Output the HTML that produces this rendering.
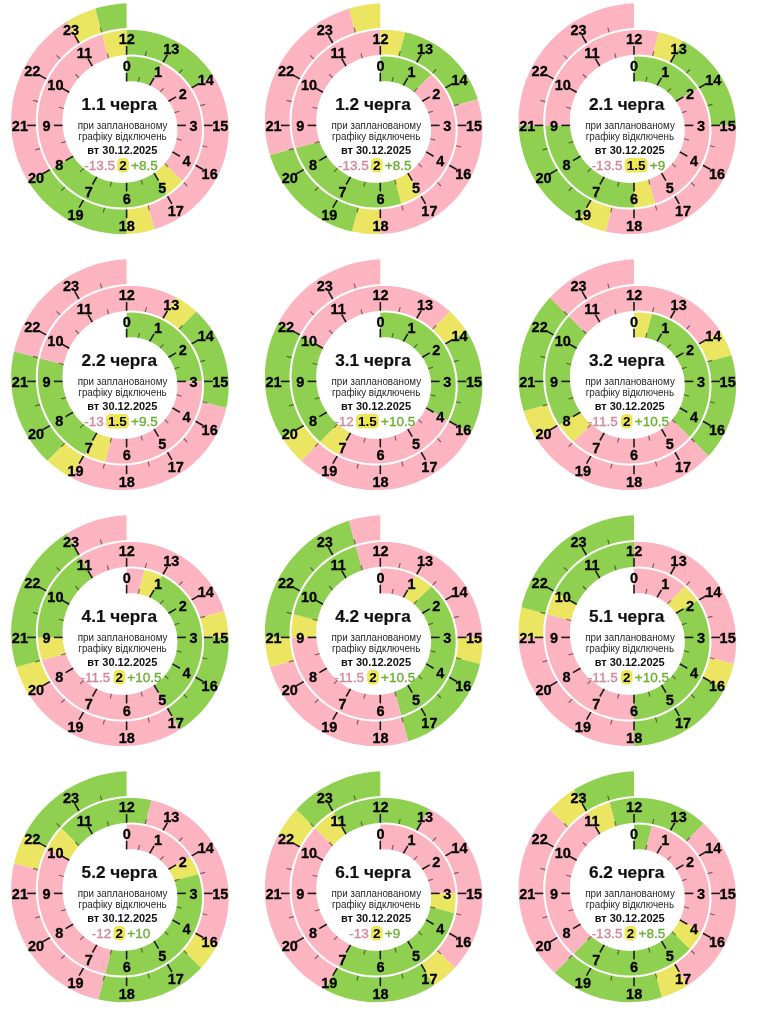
<!DOCTYPE html><html><head><meta charset="utf-8"><style>html,body{margin:0;padding:0;background:#fff;width:761px;height:1024px;overflow:hidden}svg{display:block;font-family:"Liberation Sans",sans-serif;will-change:transform}</style></head><body>
<svg width="761" height="1024" viewBox="0 0 761 1024">
<path d="M126.60,56.75 L131.11,56.62 L135.63,56.79 L140.16,57.25 L144.66,58.01 L149.11,59.08 L153.51,60.43 L157.82,62.08 L162.04,64.02 L149.70,85.39 L146.91,84.22 L144.07,83.23 L141.18,82.45 L138.27,81.85 L135.34,81.46 L132.41,81.25 L129.49,81.25 L126.60,81.43Z" fill="#90d050"/><path d="M162.04,64.02 L166.13,66.24 L170.09,68.73 L173.88,71.49 L177.50,74.50 L180.93,77.75 L184.15,81.24 L187.15,84.94 L189.91,88.85 L192.41,92.94 L194.65,97.21 L196.61,101.63 L198.29,106.19 L199.66,110.87 L200.73,115.64 L201.49,120.49 L201.93,125.40 L202.04,130.34 L201.83,135.30 L201.30,140.26 L200.44,145.18 L199.25,150.06 L197.74,154.87 L195.91,159.58 L193.76,164.18 L191.31,168.64 L188.57,172.95 L185.54,177.08 L182.23,181.03 L164.77,163.57 L166.98,160.81 L168.99,157.93 L170.79,154.93 L172.39,151.84 L173.77,148.66 L174.93,145.42 L175.88,142.13 L176.60,138.80 L177.09,135.44 L177.37,132.08 L177.42,128.73 L177.25,125.40 L176.86,122.11 L176.26,118.86 L175.46,115.68 L174.45,112.58 L173.24,109.57 L171.85,106.66 L170.28,103.86 L168.53,101.19 L166.63,98.65 L164.57,96.26 L162.38,94.02 L160.05,91.95 L157.61,90.04 L155.06,88.31 L152.42,86.76 L149.70,85.39Z" fill="#fdb4c1"/><path d="M182.23,181.03 L178.65,184.75 L174.83,188.25 L170.77,191.50 L166.49,194.49 L154.15,173.12 L157.06,170.98 L159.80,168.67 L162.38,166.20 L164.77,163.57Z" fill="#ebe562"/><path d="M166.49,194.49 L162.01,197.20 L157.34,199.62 L152.51,201.74 L147.54,203.54 L142.44,205.01 L137.23,206.15 L131.95,206.95 L126.60,207.41 L121.22,207.51 L115.82,207.26 L110.44,206.65 L105.09,205.69 L99.79,204.37 L94.58,202.71 L89.47,200.69 L84.48,198.35 L79.65,195.67 L74.98,192.67 L70.51,189.36 L66.25,185.75 L62.23,181.85 L58.45,177.69 L54.95,173.28 L51.73,168.63 L73.10,156.29 L75.47,159.57 L78.03,162.67 L80.78,165.58 L83.70,168.30 L86.79,170.80 L90.01,173.09 L93.36,175.15 L96.82,176.97 L100.38,178.56 L104.02,179.90 L107.73,181.00 L111.48,181.85 L115.25,182.44 L119.04,182.79 L122.83,182.88 L126.60,182.73 L130.33,182.32 L134.01,181.68 L137.62,180.80 L141.15,179.70 L144.58,178.37 L147.90,176.82 L151.09,175.07 L154.15,173.12Z" fill="#90d050"/><path d="M51.73,168.63 L48.81,163.76 L46.21,158.70 L43.94,153.46 L42.01,148.06 L40.44,142.54 L39.23,136.90 L38.39,131.18 L37.92,125.40 L37.83,119.58 L38.12,113.75 L38.80,107.94 L39.86,102.16 L41.31,96.45 L43.13,90.82 L45.32,85.32 L47.87,79.95 L50.78,74.74 L54.04,69.72 L57.62,64.91 L61.53,60.33 L65.74,56.01 L70.24,51.95 L75.01,48.19 L80.03,44.74 L85.28,41.62 L90.75,38.84 L96.39,36.42 L102.21,34.36 L108.59,58.20 L104.33,59.79 L100.19,61.64 L96.20,63.76 L92.37,66.12 L88.72,68.71 L85.27,71.53 L82.02,74.56 L78.98,77.78 L76.18,81.18 L73.62,84.74 L71.30,88.45 L69.24,92.29 L67.45,96.23 L65.93,100.27 L64.68,104.38 L63.70,108.55 L63.01,112.75 L62.59,116.97 L62.46,121.20 L62.60,125.40 L63.01,129.57 L63.70,133.68 L64.65,137.72 L65.85,141.68 L67.31,145.53 L69.01,149.25 L70.94,152.85 L73.10,156.29Z" fill="#fdb4c1"/><path d="M102.21,34.36 L108.16,32.69 L114.23,31.41 L120.38,30.52 L126.60,30.04 L126.60,54.72 L122.00,55.15 L117.45,55.88 L112.97,56.90 L108.59,58.20Z" fill="#ebe562"/><path d="M126.60,30.04 L132.86,29.97 L139.12,30.30 L145.37,31.05 L151.57,32.21 L157.70,33.78 L163.73,35.76 L169.64,38.13 L175.39,40.89 L180.97,44.03 L186.35,47.54 L191.49,51.40 L196.39,55.61 L201.01,60.14 L205.34,64.98 L209.36,70.10 L213.04,75.49 L191.67,87.83 L188.84,83.81 L185.76,80.00 L182.46,76.41 L178.94,73.06 L175.22,69.96 L171.32,67.12 L167.26,64.55 L163.05,62.26 L158.72,60.26 L154.29,58.56 L149.77,57.15 L145.18,56.05 L140.55,55.26 L135.90,54.77 L131.24,54.59 L126.60,54.72Z" fill="#90d050"/><path d="M213.04,75.49 L216.37,81.13 L219.33,86.99 L221.91,93.05 L224.09,99.28 L225.86,105.66 L227.21,112.15 L228.14,118.74 L228.64,125.40 L228.70,132.09 L228.32,138.79 L227.50,145.47 L226.24,152.10 L224.54,158.65 L222.41,165.09 L219.86,171.39 L216.89,177.53 L213.52,183.48 L209.76,189.21 L205.62,194.70 L201.11,199.91 L196.26,204.84 L191.09,209.44 L185.61,213.71 L179.84,217.62 L173.82,221.16 L167.56,224.30 L161.10,227.03 L154.45,229.34 L148.06,205.50 L153.16,203.66 L158.12,201.50 L162.91,199.02 L167.50,196.25 L171.90,193.19 L176.06,189.86 L179.99,186.28 L183.66,182.46 L187.06,178.42 L190.18,174.19 L193.00,169.77 L195.52,165.19 L197.73,160.48 L199.61,155.64 L201.17,150.71 L202.40,145.71 L203.29,140.65 L203.85,135.57 L204.07,130.48 L203.96,125.40 L203.51,120.36 L202.74,115.38 L201.65,110.47 L200.25,105.67 L198.53,100.98 L196.53,96.44 L194.23,92.05 L191.67,87.83Z" fill="#fdb4c1"/><path d="M154.45,229.34 L147.65,231.21 L140.72,232.63 L133.69,233.60 L126.60,234.12 L126.60,209.44 L132.08,208.98 L137.50,208.16 L142.83,207.00 L148.06,205.50Z" fill="#ebe562"/><path d="M126.60,234.12 L119.47,234.16 L112.34,233.74 L105.23,232.84 L98.17,231.49 L91.21,229.66 L84.36,227.38 L77.66,224.65 L71.13,221.48 L64.81,217.88 L58.72,213.86 L52.90,209.44 L47.37,204.63 L42.14,199.47 L37.26,193.95 L32.74,188.12 L28.59,181.98 L49.97,169.64 L53.26,174.41 L56.84,178.93 L60.70,183.19 L64.82,187.18 L69.17,190.88 L73.75,194.28 L78.52,197.35 L83.47,200.10 L88.57,202.52 L93.80,204.58 L99.14,206.29 L104.56,207.65 L110.04,208.64 L115.56,209.27 L121.09,209.53 L126.60,209.44Z" fill="#90d050"/><path d="M28.59,181.98 L24.85,175.58 L21.53,168.92 L18.65,162.04 L16.21,154.98 L14.24,147.75 L12.75,140.39 L11.73,132.93 L11.21,125.40 L11.18,117.83 L11.64,110.27 L12.61,102.73 L14.06,95.25 L16.01,87.86 L18.45,80.60 L21.36,73.50 L24.74,66.59 L28.57,59.90 L32.85,53.46 L37.54,47.30 L42.64,41.44 L48.13,35.92 L53.98,30.76 L60.17,25.98 L66.68,21.61 L79.02,42.99 L73.88,46.51 L69.01,50.34 L64.40,54.48 L60.10,58.90 L56.10,63.57 L52.43,68.48 L49.09,73.61 L46.11,78.93 L43.50,84.42 L41.25,90.05 L39.38,95.79 L37.90,101.63 L36.81,107.54 L36.11,113.49 L35.80,119.45 L35.89,125.40 L36.36,131.31 L37.22,137.17 L38.45,142.93 L40.05,148.59 L42.02,154.11 L44.33,159.48 L46.99,164.66 L49.97,169.64Z" fill="#fdb4c1"/><path d="M66.68,21.61 L73.47,17.67 L80.52,14.16 L87.81,11.13 L95.29,8.56 L101.68,32.40 L95.74,34.50 L89.97,36.97 L84.39,39.80 L79.02,42.99Z" fill="#ebe562"/><path d="M95.29,8.56 L102.95,6.49 L110.74,4.93 L118.63,3.87 L126.60,3.33 L126.60,28.01 L120.25,28.50 L113.96,29.39 L107.76,30.70 L101.68,32.40Z" fill="#90d050"/>
<line x1="126.60" y1="81.43" x2="126.60" y2="72.73" stroke="#1a1a1a" stroke-width="1.6"/><line x1="138.27" y1="81.85" x2="139.56" y2="77.02" stroke="rgba(0,0,0,0.5)" stroke-width="1.15"/><line x1="149.70" y1="85.39" x2="154.05" y2="77.86" stroke="#1a1a1a" stroke-width="1.6"/><line x1="160.05" y1="91.95" x2="163.59" y2="88.41" stroke="rgba(0,0,0,0.5)" stroke-width="1.15"/><line x1="168.53" y1="101.19" x2="176.07" y2="96.84" stroke="#1a1a1a" stroke-width="1.6"/><line x1="174.45" y1="112.58" x2="179.28" y2="111.29" stroke="rgba(0,0,0,0.5)" stroke-width="1.15"/><line x1="177.25" y1="125.40" x2="185.95" y2="125.40" stroke="#1a1a1a" stroke-width="1.6"/><line x1="176.60" y1="138.80" x2="181.43" y2="140.09" stroke="rgba(0,0,0,0.5)" stroke-width="1.15"/><line x1="172.39" y1="151.84" x2="179.92" y2="156.19" stroke="#1a1a1a" stroke-width="1.6"/><line x1="164.77" y1="163.57" x2="168.31" y2="167.11" stroke="rgba(0,0,0,0.5)" stroke-width="1.15"/><line x1="154.15" y1="173.12" x2="158.50" y2="180.65" stroke="#1a1a1a" stroke-width="1.6"/><line x1="141.15" y1="179.70" x2="142.44" y2="184.53" stroke="rgba(0,0,0,0.5)" stroke-width="1.15"/><line x1="126.60" y1="182.73" x2="126.60" y2="191.43" stroke="#1a1a1a" stroke-width="1.6"/><line x1="111.48" y1="181.85" x2="110.18" y2="186.68" stroke="rgba(0,0,0,0.5)" stroke-width="1.15"/><line x1="96.82" y1="176.97" x2="92.47" y2="184.51" stroke="#1a1a1a" stroke-width="1.6"/><line x1="83.70" y1="168.30" x2="80.17" y2="171.83" stroke="rgba(0,0,0,0.5)" stroke-width="1.15"/><line x1="73.10" y1="156.29" x2="65.57" y2="160.64" stroke="#1a1a1a" stroke-width="1.6"/><line x1="65.85" y1="141.68" x2="61.02" y2="142.97" stroke="rgba(0,0,0,0.5)" stroke-width="1.15"/><line x1="62.60" y1="125.40" x2="53.90" y2="125.40" stroke="#1a1a1a" stroke-width="1.6"/><line x1="63.70" y1="108.55" x2="58.87" y2="107.25" stroke="rgba(0,0,0,0.5)" stroke-width="1.15"/><line x1="69.24" y1="92.29" x2="61.71" y2="87.94" stroke="#1a1a1a" stroke-width="1.6"/><line x1="78.98" y1="77.78" x2="75.45" y2="74.25" stroke="rgba(0,0,0,0.5)" stroke-width="1.15"/><line x1="92.37" y1="66.12" x2="88.02" y2="58.58" stroke="#1a1a1a" stroke-width="1.6"/><line x1="108.59" y1="58.20" x2="107.30" y2="53.37" stroke="rgba(0,0,0,0.5)" stroke-width="1.15"/><line x1="126.60" y1="54.72" x2="126.60" y2="46.02" stroke="#1a1a1a" stroke-width="1.6"/><line x1="145.18" y1="56.05" x2="146.48" y2="51.22" stroke="rgba(0,0,0,0.5)" stroke-width="1.15"/><line x1="163.05" y1="62.26" x2="167.40" y2="54.73" stroke="#1a1a1a" stroke-width="1.6"/><line x1="178.94" y1="73.06" x2="182.47" y2="69.53" stroke="rgba(0,0,0,0.5)" stroke-width="1.15"/><line x1="191.67" y1="87.83" x2="199.20" y2="83.48" stroke="#1a1a1a" stroke-width="1.6"/><line x1="200.25" y1="105.67" x2="205.08" y2="104.37" stroke="rgba(0,0,0,0.5)" stroke-width="1.15"/><line x1="203.96" y1="125.40" x2="212.66" y2="125.40" stroke="#1a1a1a" stroke-width="1.6"/><line x1="202.40" y1="145.71" x2="207.23" y2="147.00" stroke="rgba(0,0,0,0.5)" stroke-width="1.15"/><line x1="195.52" y1="165.19" x2="203.06" y2="169.54" stroke="#1a1a1a" stroke-width="1.6"/><line x1="183.66" y1="182.46" x2="187.20" y2="186.00" stroke="rgba(0,0,0,0.5)" stroke-width="1.15"/><line x1="167.50" y1="196.25" x2="171.85" y2="203.78" stroke="#1a1a1a" stroke-width="1.6"/><line x1="148.06" y1="205.50" x2="149.36" y2="210.33" stroke="rgba(0,0,0,0.5)" stroke-width="1.15"/><line x1="126.60" y1="209.44" x2="126.60" y2="218.13" stroke="#1a1a1a" stroke-width="1.6"/><line x1="104.56" y1="207.65" x2="103.27" y2="212.48" stroke="rgba(0,0,0,0.5)" stroke-width="1.15"/><line x1="83.47" y1="200.10" x2="79.12" y2="207.64" stroke="#1a1a1a" stroke-width="1.6"/><line x1="64.82" y1="187.18" x2="61.28" y2="190.72" stroke="rgba(0,0,0,0.5)" stroke-width="1.15"/><line x1="49.97" y1="169.64" x2="42.43" y2="173.99" stroke="#1a1a1a" stroke-width="1.6"/><line x1="40.05" y1="148.59" x2="35.22" y2="149.88" stroke="rgba(0,0,0,0.5)" stroke-width="1.15"/><line x1="35.89" y1="125.40" x2="27.19" y2="125.40" stroke="#1a1a1a" stroke-width="1.6"/><line x1="37.90" y1="101.63" x2="33.07" y2="100.34" stroke="rgba(0,0,0,0.5)" stroke-width="1.15"/><line x1="46.11" y1="78.93" x2="38.58" y2="74.58" stroke="#1a1a1a" stroke-width="1.6"/><line x1="60.10" y1="58.90" x2="56.56" y2="55.36" stroke="rgba(0,0,0,0.5)" stroke-width="1.15"/><line x1="79.02" y1="42.99" x2="74.67" y2="35.45" stroke="#1a1a1a" stroke-width="1.6"/><line x1="101.68" y1="32.40" x2="100.39" y2="27.57" stroke="rgba(0,0,0,0.5)" stroke-width="1.15"/>
<text x="126.75" y="70.88" text-anchor="middle" font-weight="bold" font-size="14.5" fill="#000" stroke="#000" stroke-width="0.3">0</text><text x="157.92" y="77.01" text-anchor="middle" font-weight="bold" font-size="14.5" fill="#000" stroke="#000" stroke-width="0.3">1</text><text x="182.67" y="98.71" text-anchor="middle" font-weight="bold" font-size="14.5" fill="#000" stroke="#000" stroke-width="0.3">2</text><text x="193.55" y="131.00" text-anchor="middle" font-weight="bold" font-size="14.5" fill="#000" stroke="#000" stroke-width="0.3">3</text><text x="186.53" y="165.51" text-anchor="middle" font-weight="bold" font-size="14.5" fill="#000" stroke="#000" stroke-width="0.3">4</text><text x="162.37" y="192.70" text-anchor="middle" font-weight="bold" font-size="14.5" fill="#000" stroke="#000" stroke-width="0.3">5</text><text x="126.75" y="204.47" text-anchor="middle" font-weight="bold" font-size="14.5" fill="#000" stroke="#000" stroke-width="0.3">6</text><text x="88.90" y="196.56" text-anchor="middle" font-weight="bold" font-size="14.5" fill="#000" stroke="#000" stroke-width="0.3">7</text><text x="59.26" y="169.96" text-anchor="middle" font-weight="bold" font-size="14.5" fill="#000" stroke="#000" stroke-width="0.3">8</text><text x="46.60" y="131.00" text-anchor="middle" font-weight="bold" font-size="14.5" fill="#000" stroke="#000" stroke-width="0.3">9</text><text x="55.41" y="89.81" text-anchor="middle" font-weight="bold" font-size="14.5" fill="#000" stroke="#000" stroke-width="0.3">10</text><text x="84.45" y="57.73" text-anchor="middle" font-weight="bold" font-size="14.5" fill="#000" stroke="#000" stroke-width="0.3">11</text><text x="126.75" y="44.17" text-anchor="middle" font-weight="bold" font-size="14.5" fill="#000" stroke="#000" stroke-width="0.3">12</text><text x="171.28" y="53.88" text-anchor="middle" font-weight="bold" font-size="14.5" fill="#000" stroke="#000" stroke-width="0.3">13</text><text x="205.80" y="85.36" text-anchor="middle" font-weight="bold" font-size="14.5" fill="#000" stroke="#000" stroke-width="0.3">14</text><text x="220.26" y="131.00" text-anchor="middle" font-weight="bold" font-size="14.5" fill="#000" stroke="#000" stroke-width="0.3">15</text><text x="209.66" y="178.87" text-anchor="middle" font-weight="bold" font-size="14.5" fill="#000" stroke="#000" stroke-width="0.3">16</text><text x="175.73" y="215.84" text-anchor="middle" font-weight="bold" font-size="14.5" fill="#000" stroke="#000" stroke-width="0.3">17</text><text x="126.75" y="231.19" text-anchor="middle" font-weight="bold" font-size="14.5" fill="#000" stroke="#000" stroke-width="0.3">18</text><text x="75.54" y="219.69" text-anchor="middle" font-weight="bold" font-size="14.5" fill="#000" stroke="#000" stroke-width="0.3">19</text><text x="36.13" y="183.32" text-anchor="middle" font-weight="bold" font-size="14.5" fill="#000" stroke="#000" stroke-width="0.3">20</text><text x="19.89" y="131.00" text-anchor="middle" font-weight="bold" font-size="14.5" fill="#000" stroke="#000" stroke-width="0.3">21</text><text x="32.28" y="76.46" text-anchor="middle" font-weight="bold" font-size="14.5" fill="#000" stroke="#000" stroke-width="0.3">22</text><text x="71.09" y="34.60" text-anchor="middle" font-weight="bold" font-size="14.5" fill="#000" stroke="#000" stroke-width="0.3">23</text>
<text x="119.30" y="109.50" text-anchor="middle" font-weight="bold" font-size="17.2" fill="#111" stroke="#111" stroke-width="0.2">1.1 черга</text>
<text transform="translate(122.60,128.80) scale(0.895,1)" text-anchor="middle" font-size="11" fill="#262626">при запланованому</text>
<text transform="translate(122.50,139.90) scale(0.895,1)" text-anchor="middle" font-size="11" fill="#262626">графіку відключень</text>
<text x="122.30" y="154.20" text-anchor="middle" font-weight="bold" font-size="11" fill="#111">вт 30.12.2025</text>
<text x="84.24" y="169.70" font-size="13.5" fill="#d4869b" stroke="#d4869b" stroke-width="0.35">-13.5</text>
<rect x="117.21" y="158.00" width="11.71" height="14.6" rx="4.5" fill="#ede755"/>
<text x="119.31" y="169.70" font-weight="bold" font-size="13.5" fill="#000">2</text>
<text x="131.11" y="169.70" font-size="13.5" fill="#6cae34" stroke="#6cae34" stroke-width="0.35">+8.5</text>
<path d="M380.30,56.75 L384.81,56.62 L389.33,56.79 L393.86,57.25 L398.36,58.01 L402.81,59.08 L407.21,60.43 L411.52,62.08 L415.74,64.02 L419.83,66.24 L423.79,68.73 L427.58,71.49 L431.20,74.50 L413.75,91.95 L411.31,90.04 L408.76,88.31 L406.12,86.76 L403.40,85.39 L400.61,84.22 L397.77,83.23 L394.88,82.45 L391.97,81.85 L389.04,81.46 L386.11,81.25 L383.19,81.25 L380.30,81.43Z" fill="#90d050"/><path d="M431.20,74.50 L434.63,77.75 L437.85,81.24 L440.85,84.94 L443.61,88.85 L446.11,92.94 L448.35,97.21 L450.31,101.63 L451.99,106.19 L453.36,110.87 L454.43,115.64 L455.19,120.49 L455.63,125.40 L455.74,130.34 L455.53,135.30 L455.00,140.26 L454.14,145.18 L452.95,150.06 L451.44,154.87 L449.61,159.58 L447.46,164.18 L445.01,168.64 L442.27,172.95 L439.24,177.08 L435.93,181.03 L432.35,184.75 L428.53,188.25 L424.47,191.50 L420.19,194.49 L407.85,173.12 L410.76,170.98 L413.50,168.67 L416.08,166.20 L418.47,163.57 L420.68,160.81 L422.69,157.93 L424.49,154.93 L426.09,151.84 L427.47,148.66 L428.63,145.42 L429.58,142.13 L430.30,138.80 L430.79,135.44 L431.07,132.08 L431.12,128.73 L430.95,125.40 L430.56,122.11 L429.96,118.86 L429.16,115.68 L428.15,112.58 L426.94,109.57 L425.55,106.66 L423.98,103.86 L422.23,101.19 L420.33,98.65 L418.27,96.26 L416.08,94.02 L413.75,91.95Z" fill="#fdb4c1"/><path d="M420.19,194.49 L415.71,197.20 L411.04,199.62 L406.21,201.74 L401.24,203.54 L394.85,179.70 L398.28,178.37 L401.60,176.82 L404.79,175.07 L407.85,173.12Z" fill="#ebe562"/><path d="M401.24,203.54 L396.14,205.01 L390.93,206.15 L385.65,206.95 L380.30,207.41 L374.92,207.51 L369.52,207.26 L364.14,206.65 L358.79,205.69 L353.49,204.37 L348.28,202.71 L343.17,200.69 L338.18,198.35 L333.35,195.67 L328.68,192.67 L324.21,189.36 L319.95,185.75 L315.93,181.85 L312.15,177.69 L308.65,173.28 L305.43,168.63 L302.51,163.76 L299.91,158.70 L297.64,153.46 L295.71,148.06 L319.55,141.68 L321.01,145.53 L322.71,149.25 L324.64,152.85 L326.80,156.29 L329.17,159.57 L331.73,162.67 L334.48,165.58 L337.40,168.30 L340.49,170.80 L343.71,173.09 L347.06,175.15 L350.52,176.97 L354.08,178.56 L357.72,179.90 L361.43,181.00 L365.18,181.85 L368.95,182.44 L372.74,182.79 L376.53,182.88 L380.30,182.73 L384.03,182.32 L387.71,181.68 L391.32,180.80 L394.85,179.70Z" fill="#90d050"/><path d="M295.71,148.06 L294.14,142.54 L292.93,136.90 L292.09,131.18 L291.62,125.40 L291.53,119.58 L291.82,113.75 L292.50,107.94 L293.56,102.16 L295.01,96.45 L296.83,90.82 L299.02,85.32 L301.57,79.95 L304.48,74.74 L307.74,69.72 L311.32,64.91 L315.23,60.33 L319.44,56.01 L323.94,51.95 L328.71,48.19 L333.73,44.74 L338.98,41.62 L344.45,38.84 L350.09,36.42 L355.91,34.36 L361.86,32.69 L367.93,31.41 L374.08,30.52 L380.30,30.04 L380.30,54.72 L375.70,55.15 L371.15,55.88 L366.67,56.90 L362.29,58.20 L358.03,59.79 L353.89,61.64 L349.90,63.76 L346.07,66.12 L342.42,68.71 L338.97,71.53 L335.72,74.56 L332.68,77.78 L329.88,81.18 L327.32,84.74 L325.00,88.45 L322.94,92.29 L321.15,96.23 L319.63,100.27 L318.38,104.38 L317.40,108.55 L316.71,112.75 L316.29,116.97 L316.16,121.20 L316.30,125.40 L316.71,129.57 L317.40,133.68 L318.35,137.72 L319.55,141.68Z" fill="#fdb4c1"/><path d="M380.30,30.04 L386.56,29.97 L392.82,30.30 L399.07,31.05 L405.27,32.21 L398.88,56.05 L394.25,55.26 L389.60,54.77 L384.94,54.59 L380.30,54.72Z" fill="#ebe562"/><path d="M405.27,32.21 L411.40,33.78 L417.43,35.76 L423.34,38.13 L429.09,40.89 L434.67,44.03 L440.05,47.54 L445.19,51.40 L450.09,55.61 L454.71,60.14 L459.04,64.98 L463.06,70.10 L466.74,75.49 L470.07,81.13 L473.03,86.99 L475.61,93.05 L477.79,99.28 L453.95,105.67 L452.23,100.98 L450.23,96.44 L447.93,92.05 L445.37,87.83 L442.54,83.81 L439.46,80.00 L436.16,76.41 L432.64,73.06 L428.92,69.96 L425.02,67.12 L420.96,64.55 L416.75,62.26 L412.42,60.26 L407.99,58.56 L403.47,57.15 L398.88,56.05Z" fill="#90d050"/><path d="M477.79,99.28 L479.56,105.66 L480.91,112.15 L481.84,118.74 L482.34,125.40 L482.40,132.09 L482.02,138.79 L481.20,145.47 L479.94,152.10 L478.24,158.65 L476.11,165.09 L473.56,171.39 L470.59,177.53 L467.22,183.48 L463.46,189.21 L459.32,194.70 L454.81,199.91 L449.96,204.84 L444.79,209.44 L439.31,213.71 L433.54,217.62 L427.52,221.16 L421.26,224.30 L414.80,227.03 L408.15,229.34 L401.35,231.21 L394.42,232.63 L387.39,233.60 L380.30,234.12 L380.30,209.44 L385.78,208.98 L391.20,208.16 L396.53,207.00 L401.76,205.50 L406.86,203.66 L411.82,201.50 L416.61,199.02 L421.20,196.25 L425.60,193.19 L429.76,189.86 L433.69,186.28 L437.36,182.46 L440.76,178.42 L443.88,174.19 L446.70,169.77 L449.22,165.19 L451.43,160.48 L453.31,155.64 L454.87,150.71 L456.10,145.71 L456.99,140.65 L457.55,135.57 L457.77,130.48 L457.66,125.40 L457.21,120.36 L456.44,115.38 L455.35,110.47 L453.95,105.67Z" fill="#fdb4c1"/><path d="M380.30,234.12 L373.17,234.16 L366.04,233.74 L358.93,232.84 L351.87,231.49 L358.26,207.65 L363.74,208.64 L369.26,209.27 L374.79,209.53 L380.30,209.44Z" fill="#ebe562"/><path d="M351.87,231.49 L344.91,229.66 L338.06,227.38 L331.36,224.65 L324.83,221.48 L318.51,217.88 L312.42,213.86 L306.60,209.44 L301.07,204.63 L295.84,199.47 L290.96,193.95 L286.44,188.12 L282.29,181.98 L278.55,175.58 L275.23,168.92 L272.35,162.04 L269.91,154.98 L293.75,148.59 L295.72,154.11 L298.03,159.48 L300.69,164.66 L303.67,169.64 L306.96,174.41 L310.54,178.93 L314.40,183.19 L318.52,187.18 L322.87,190.88 L327.45,194.28 L332.22,197.35 L337.17,200.10 L342.27,202.52 L347.50,204.58 L352.84,206.29 L358.26,207.65Z" fill="#90d050"/><path d="M269.91,154.98 L267.94,147.75 L266.45,140.39 L265.43,132.93 L264.91,125.40 L264.88,117.83 L265.34,110.27 L266.31,102.73 L267.76,95.25 L269.71,87.86 L272.15,80.60 L275.06,73.50 L278.44,66.59 L282.27,59.90 L286.55,53.46 L291.24,47.30 L296.34,41.44 L301.83,35.92 L307.68,30.76 L313.87,25.98 L320.38,21.61 L327.17,17.67 L334.22,14.16 L341.51,11.13 L348.99,8.56 L355.38,32.40 L349.44,34.50 L343.67,36.97 L338.09,39.80 L332.72,42.99 L327.58,46.51 L322.71,50.34 L318.10,54.48 L313.80,58.90 L309.80,63.57 L306.13,68.48 L302.79,73.61 L299.81,78.93 L297.20,84.42 L294.95,90.05 L293.08,95.79 L291.60,101.63 L290.51,107.54 L289.81,113.49 L289.50,119.45 L289.59,125.40 L290.06,131.31 L290.92,137.17 L292.15,142.93 L293.75,148.59Z" fill="#fdb4c1"/><path d="M348.99,8.56 L356.65,6.49 L364.44,4.93 L372.33,3.87 L380.30,3.33 L380.30,28.01 L373.95,28.50 L367.66,29.39 L361.46,30.70 L355.38,32.40Z" fill="#ebe562"/>
<line x1="380.30" y1="81.43" x2="380.30" y2="72.73" stroke="#1a1a1a" stroke-width="1.6"/><line x1="391.97" y1="81.85" x2="393.26" y2="77.02" stroke="rgba(0,0,0,0.5)" stroke-width="1.15"/><line x1="403.40" y1="85.39" x2="407.75" y2="77.86" stroke="#1a1a1a" stroke-width="1.6"/><line x1="413.75" y1="91.95" x2="417.29" y2="88.41" stroke="rgba(0,0,0,0.5)" stroke-width="1.15"/><line x1="422.23" y1="101.19" x2="429.77" y2="96.84" stroke="#1a1a1a" stroke-width="1.6"/><line x1="428.15" y1="112.58" x2="432.98" y2="111.29" stroke="rgba(0,0,0,0.5)" stroke-width="1.15"/><line x1="430.95" y1="125.40" x2="439.65" y2="125.40" stroke="#1a1a1a" stroke-width="1.6"/><line x1="430.30" y1="138.80" x2="435.13" y2="140.09" stroke="rgba(0,0,0,0.5)" stroke-width="1.15"/><line x1="426.09" y1="151.84" x2="433.62" y2="156.19" stroke="#1a1a1a" stroke-width="1.6"/><line x1="418.47" y1="163.57" x2="422.01" y2="167.11" stroke="rgba(0,0,0,0.5)" stroke-width="1.15"/><line x1="407.85" y1="173.12" x2="412.20" y2="180.65" stroke="#1a1a1a" stroke-width="1.6"/><line x1="394.85" y1="179.70" x2="396.14" y2="184.53" stroke="rgba(0,0,0,0.5)" stroke-width="1.15"/><line x1="380.30" y1="182.73" x2="380.30" y2="191.43" stroke="#1a1a1a" stroke-width="1.6"/><line x1="365.18" y1="181.85" x2="363.88" y2="186.68" stroke="rgba(0,0,0,0.5)" stroke-width="1.15"/><line x1="350.52" y1="176.97" x2="346.17" y2="184.51" stroke="#1a1a1a" stroke-width="1.6"/><line x1="337.40" y1="168.30" x2="333.87" y2="171.83" stroke="rgba(0,0,0,0.5)" stroke-width="1.15"/><line x1="326.80" y1="156.29" x2="319.27" y2="160.64" stroke="#1a1a1a" stroke-width="1.6"/><line x1="319.55" y1="141.68" x2="314.72" y2="142.97" stroke="rgba(0,0,0,0.5)" stroke-width="1.15"/><line x1="316.30" y1="125.40" x2="307.60" y2="125.40" stroke="#1a1a1a" stroke-width="1.6"/><line x1="317.40" y1="108.55" x2="312.57" y2="107.25" stroke="rgba(0,0,0,0.5)" stroke-width="1.15"/><line x1="322.94" y1="92.29" x2="315.41" y2="87.94" stroke="#1a1a1a" stroke-width="1.6"/><line x1="332.68" y1="77.78" x2="329.15" y2="74.25" stroke="rgba(0,0,0,0.5)" stroke-width="1.15"/><line x1="346.07" y1="66.12" x2="341.72" y2="58.58" stroke="#1a1a1a" stroke-width="1.6"/><line x1="362.29" y1="58.20" x2="361.00" y2="53.37" stroke="rgba(0,0,0,0.5)" stroke-width="1.15"/><line x1="380.30" y1="54.72" x2="380.30" y2="46.02" stroke="#1a1a1a" stroke-width="1.6"/><line x1="398.88" y1="56.05" x2="400.18" y2="51.22" stroke="rgba(0,0,0,0.5)" stroke-width="1.15"/><line x1="416.75" y1="62.26" x2="421.10" y2="54.73" stroke="#1a1a1a" stroke-width="1.6"/><line x1="432.64" y1="73.06" x2="436.17" y2="69.53" stroke="rgba(0,0,0,0.5)" stroke-width="1.15"/><line x1="445.37" y1="87.83" x2="452.90" y2="83.48" stroke="#1a1a1a" stroke-width="1.6"/><line x1="453.95" y1="105.67" x2="458.78" y2="104.37" stroke="rgba(0,0,0,0.5)" stroke-width="1.15"/><line x1="457.66" y1="125.40" x2="466.36" y2="125.40" stroke="#1a1a1a" stroke-width="1.6"/><line x1="456.10" y1="145.71" x2="460.93" y2="147.00" stroke="rgba(0,0,0,0.5)" stroke-width="1.15"/><line x1="449.22" y1="165.19" x2="456.76" y2="169.54" stroke="#1a1a1a" stroke-width="1.6"/><line x1="437.36" y1="182.46" x2="440.90" y2="186.00" stroke="rgba(0,0,0,0.5)" stroke-width="1.15"/><line x1="421.20" y1="196.25" x2="425.55" y2="203.78" stroke="#1a1a1a" stroke-width="1.6"/><line x1="401.76" y1="205.50" x2="403.06" y2="210.33" stroke="rgba(0,0,0,0.5)" stroke-width="1.15"/><line x1="380.30" y1="209.44" x2="380.30" y2="218.13" stroke="#1a1a1a" stroke-width="1.6"/><line x1="358.26" y1="207.65" x2="356.97" y2="212.48" stroke="rgba(0,0,0,0.5)" stroke-width="1.15"/><line x1="337.17" y1="200.10" x2="332.82" y2="207.64" stroke="#1a1a1a" stroke-width="1.6"/><line x1="318.52" y1="187.18" x2="314.98" y2="190.72" stroke="rgba(0,0,0,0.5)" stroke-width="1.15"/><line x1="303.67" y1="169.64" x2="296.13" y2="173.99" stroke="#1a1a1a" stroke-width="1.6"/><line x1="293.75" y1="148.59" x2="288.92" y2="149.88" stroke="rgba(0,0,0,0.5)" stroke-width="1.15"/><line x1="289.59" y1="125.40" x2="280.89" y2="125.40" stroke="#1a1a1a" stroke-width="1.6"/><line x1="291.60" y1="101.63" x2="286.77" y2="100.34" stroke="rgba(0,0,0,0.5)" stroke-width="1.15"/><line x1="299.81" y1="78.93" x2="292.28" y2="74.58" stroke="#1a1a1a" stroke-width="1.6"/><line x1="313.80" y1="58.90" x2="310.26" y2="55.36" stroke="rgba(0,0,0,0.5)" stroke-width="1.15"/><line x1="332.72" y1="42.99" x2="328.37" y2="35.45" stroke="#1a1a1a" stroke-width="1.6"/><line x1="355.38" y1="32.40" x2="354.09" y2="27.57" stroke="rgba(0,0,0,0.5)" stroke-width="1.15"/>
<text x="380.45" y="70.88" text-anchor="middle" font-weight="bold" font-size="14.5" fill="#000" stroke="#000" stroke-width="0.3">0</text><text x="411.62" y="77.01" text-anchor="middle" font-weight="bold" font-size="14.5" fill="#000" stroke="#000" stroke-width="0.3">1</text><text x="436.37" y="98.71" text-anchor="middle" font-weight="bold" font-size="14.5" fill="#000" stroke="#000" stroke-width="0.3">2</text><text x="447.25" y="131.00" text-anchor="middle" font-weight="bold" font-size="14.5" fill="#000" stroke="#000" stroke-width="0.3">3</text><text x="440.23" y="165.51" text-anchor="middle" font-weight="bold" font-size="14.5" fill="#000" stroke="#000" stroke-width="0.3">4</text><text x="416.07" y="192.70" text-anchor="middle" font-weight="bold" font-size="14.5" fill="#000" stroke="#000" stroke-width="0.3">5</text><text x="380.45" y="204.47" text-anchor="middle" font-weight="bold" font-size="14.5" fill="#000" stroke="#000" stroke-width="0.3">6</text><text x="342.60" y="196.56" text-anchor="middle" font-weight="bold" font-size="14.5" fill="#000" stroke="#000" stroke-width="0.3">7</text><text x="312.96" y="169.96" text-anchor="middle" font-weight="bold" font-size="14.5" fill="#000" stroke="#000" stroke-width="0.3">8</text><text x="300.30" y="131.00" text-anchor="middle" font-weight="bold" font-size="14.5" fill="#000" stroke="#000" stroke-width="0.3">9</text><text x="309.11" y="89.81" text-anchor="middle" font-weight="bold" font-size="14.5" fill="#000" stroke="#000" stroke-width="0.3">10</text><text x="338.15" y="57.73" text-anchor="middle" font-weight="bold" font-size="14.5" fill="#000" stroke="#000" stroke-width="0.3">11</text><text x="380.45" y="44.17" text-anchor="middle" font-weight="bold" font-size="14.5" fill="#000" stroke="#000" stroke-width="0.3">12</text><text x="424.98" y="53.88" text-anchor="middle" font-weight="bold" font-size="14.5" fill="#000" stroke="#000" stroke-width="0.3">13</text><text x="459.50" y="85.36" text-anchor="middle" font-weight="bold" font-size="14.5" fill="#000" stroke="#000" stroke-width="0.3">14</text><text x="473.96" y="131.00" text-anchor="middle" font-weight="bold" font-size="14.5" fill="#000" stroke="#000" stroke-width="0.3">15</text><text x="463.36" y="178.87" text-anchor="middle" font-weight="bold" font-size="14.5" fill="#000" stroke="#000" stroke-width="0.3">16</text><text x="429.43" y="215.84" text-anchor="middle" font-weight="bold" font-size="14.5" fill="#000" stroke="#000" stroke-width="0.3">17</text><text x="380.45" y="231.19" text-anchor="middle" font-weight="bold" font-size="14.5" fill="#000" stroke="#000" stroke-width="0.3">18</text><text x="329.24" y="219.69" text-anchor="middle" font-weight="bold" font-size="14.5" fill="#000" stroke="#000" stroke-width="0.3">19</text><text x="289.83" y="183.32" text-anchor="middle" font-weight="bold" font-size="14.5" fill="#000" stroke="#000" stroke-width="0.3">20</text><text x="273.59" y="131.00" text-anchor="middle" font-weight="bold" font-size="14.5" fill="#000" stroke="#000" stroke-width="0.3">21</text><text x="285.98" y="76.46" text-anchor="middle" font-weight="bold" font-size="14.5" fill="#000" stroke="#000" stroke-width="0.3">22</text><text x="324.79" y="34.60" text-anchor="middle" font-weight="bold" font-size="14.5" fill="#000" stroke="#000" stroke-width="0.3">23</text>
<text x="373.00" y="109.50" text-anchor="middle" font-weight="bold" font-size="17.2" fill="#111" stroke="#111" stroke-width="0.2">1.2 черга</text>
<text transform="translate(376.30,128.80) scale(0.895,1)" text-anchor="middle" font-size="11" fill="#262626">при запланованому</text>
<text transform="translate(376.20,139.90) scale(0.895,1)" text-anchor="middle" font-size="11" fill="#262626">графіку відключень</text>
<text x="376.00" y="154.20" text-anchor="middle" font-weight="bold" font-size="11" fill="#111">вт 30.12.2025</text>
<text x="337.94" y="169.70" font-size="13.5" fill="#d4869b" stroke="#d4869b" stroke-width="0.35">-13.5</text>
<rect x="370.91" y="158.00" width="11.71" height="14.6" rx="4.5" fill="#ede755"/>
<text x="373.01" y="169.70" font-weight="bold" font-size="13.5" fill="#000">2</text>
<text x="384.81" y="169.70" font-size="13.5" fill="#6cae34" stroke="#6cae34" stroke-width="0.35">+8.5</text>
<path d="M634.00,56.75 L638.51,56.62 L643.03,56.79 L647.56,57.25 L652.06,58.01 L656.51,59.08 L660.91,60.43 L665.22,62.08 L669.44,64.02 L673.53,66.24 L677.49,68.73 L681.28,71.49 L684.90,74.50 L688.33,77.75 L691.55,81.24 L694.55,84.94 L697.31,88.85 L675.93,101.19 L674.03,98.65 L671.97,96.26 L669.78,94.02 L667.45,91.95 L665.01,90.04 L662.46,88.31 L659.82,86.76 L657.10,85.39 L654.31,84.22 L651.47,83.23 L648.58,82.45 L645.67,81.85 L642.74,81.46 L639.81,81.25 L636.89,81.25 L634.00,81.43Z" fill="#90d050"/><path d="M697.31,88.85 L699.81,92.94 L702.05,97.21 L704.01,101.63 L705.69,106.19 L707.06,110.87 L708.13,115.64 L708.89,120.49 L709.33,125.40 L709.44,130.34 L709.23,135.30 L708.70,140.26 L707.84,145.18 L706.65,150.06 L705.14,154.87 L703.31,159.58 L701.16,164.18 L698.71,168.64 L695.97,172.95 L692.94,177.08 L689.63,181.03 L686.05,184.75 L682.23,188.25 L678.17,191.50 L673.89,194.49 L669.41,197.20 L664.74,199.62 L659.91,201.74 L654.94,203.54 L648.55,179.70 L651.98,178.37 L655.30,176.82 L658.49,175.07 L661.55,173.12 L664.46,170.98 L667.20,168.67 L669.78,166.20 L672.17,163.57 L674.38,160.81 L676.39,157.93 L678.19,154.93 L679.79,151.84 L681.17,148.66 L682.33,145.42 L683.28,142.13 L684.00,138.80 L684.49,135.44 L684.77,132.08 L684.82,128.73 L684.65,125.40 L684.26,122.11 L683.66,118.86 L682.86,115.68 L681.85,112.58 L680.64,109.57 L679.25,106.66 L677.68,103.86 L675.93,101.19Z" fill="#fdb4c1"/><path d="M654.94,203.54 L649.84,205.01 L644.63,206.15 L639.35,206.95 L634.00,207.41 L634.00,182.73 L637.73,182.32 L641.41,181.68 L645.02,180.80 L648.55,179.70Z" fill="#ebe562"/><path d="M634.00,207.41 L628.62,207.51 L623.22,207.26 L617.84,206.65 L612.49,205.69 L607.19,204.37 L601.98,202.71 L596.87,200.69 L591.88,198.35 L587.05,195.67 L582.38,192.67 L577.91,189.36 L573.65,185.75 L569.63,181.85 L565.85,177.69 L562.35,173.28 L559.13,168.63 L556.21,163.76 L553.61,158.70 L551.34,153.46 L549.41,148.06 L547.84,142.54 L546.63,136.90 L545.79,131.18 L545.32,125.40 L570.00,125.40 L570.41,129.57 L571.10,133.68 L572.05,137.72 L573.25,141.68 L574.71,145.53 L576.41,149.25 L578.34,152.85 L580.50,156.29 L582.87,159.57 L585.43,162.67 L588.18,165.58 L591.10,168.30 L594.19,170.80 L597.41,173.09 L600.76,175.15 L604.22,176.97 L607.78,178.56 L611.42,179.90 L615.13,181.00 L618.88,181.85 L622.65,182.44 L626.44,182.79 L630.23,182.88 L634.00,182.73Z" fill="#90d050"/><path d="M545.32,125.40 L545.23,119.58 L545.52,113.75 L546.20,107.94 L547.26,102.16 L548.71,96.45 L550.53,90.82 L552.72,85.32 L555.27,79.95 L558.18,74.74 L561.44,69.72 L565.02,64.91 L568.93,60.33 L573.14,56.01 L577.64,51.95 L582.41,48.19 L587.43,44.74 L592.68,41.62 L598.15,38.84 L603.79,36.42 L609.61,34.36 L615.56,32.69 L621.63,31.41 L627.78,30.52 L634.00,30.04 L640.26,29.97 L646.52,30.30 L652.77,31.05 L658.97,32.21 L652.58,56.05 L647.95,55.26 L643.30,54.77 L638.64,54.59 L634.00,54.72 L629.40,55.15 L624.85,55.88 L620.37,56.90 L615.99,58.20 L611.73,59.79 L607.59,61.64 L603.60,63.76 L599.77,66.12 L596.12,68.71 L592.67,71.53 L589.42,74.56 L586.38,77.78 L583.58,81.18 L581.02,84.74 L578.70,88.45 L576.64,92.29 L574.85,96.23 L573.33,100.27 L572.08,104.38 L571.10,108.55 L570.41,112.75 L569.99,116.97 L569.86,121.20 L570.00,125.40Z" fill="#fdb4c1"/><path d="M658.97,32.21 L665.10,33.78 L671.13,35.76 L677.04,38.13 L682.79,40.89 L670.45,62.26 L666.12,60.26 L661.69,58.56 L657.17,57.15 L652.58,56.05Z" fill="#ebe562"/><path d="M682.79,40.89 L688.37,44.03 L693.75,47.54 L698.89,51.40 L703.79,55.61 L708.41,60.14 L712.74,64.98 L716.76,70.10 L720.44,75.49 L723.77,81.13 L726.73,86.99 L729.31,93.05 L731.49,99.28 L733.26,105.66 L734.61,112.15 L735.54,118.74 L736.04,125.40 L711.36,125.40 L710.91,120.36 L710.14,115.38 L709.05,110.47 L707.65,105.67 L705.93,100.98 L703.93,96.44 L701.63,92.05 L699.07,87.83 L696.24,83.81 L693.16,80.00 L689.86,76.41 L686.34,73.06 L682.62,69.96 L678.72,67.12 L674.66,64.55 L670.45,62.26Z" fill="#90d050"/><path d="M736.04,125.40 L736.10,132.09 L735.72,138.79 L734.90,145.47 L733.64,152.10 L731.94,158.65 L729.81,165.09 L727.26,171.39 L724.29,177.53 L720.92,183.48 L717.16,189.21 L713.02,194.70 L708.51,199.91 L703.66,204.84 L698.49,209.44 L693.01,213.71 L687.24,217.62 L681.22,221.16 L674.96,224.30 L668.50,227.03 L661.85,229.34 L655.05,231.21 L648.12,232.63 L641.09,233.60 L634.00,234.12 L626.87,234.16 L619.74,233.74 L612.63,232.84 L605.57,231.49 L611.96,207.65 L617.44,208.64 L622.96,209.27 L628.49,209.53 L634.00,209.44 L639.48,208.98 L644.90,208.16 L650.23,207.00 L655.46,205.50 L660.56,203.66 L665.52,201.50 L670.31,199.02 L674.90,196.25 L679.30,193.19 L683.46,189.86 L687.39,186.28 L691.06,182.46 L694.46,178.42 L697.58,174.19 L700.40,169.77 L702.92,165.19 L705.13,160.48 L707.01,155.64 L708.57,150.71 L709.80,145.71 L710.69,140.65 L711.25,135.57 L711.47,130.48 L711.36,125.40Z" fill="#fdb4c1"/><path d="M605.57,231.49 L598.61,229.66 L591.76,227.38 L585.06,224.65 L578.53,221.48 L590.87,200.10 L595.97,202.52 L601.20,204.58 L606.54,206.29 L611.96,207.65Z" fill="#ebe562"/><path d="M578.53,221.48 L572.21,217.88 L566.12,213.86 L560.30,209.44 L554.77,204.63 L549.54,199.47 L544.66,193.95 L540.14,188.12 L535.99,181.98 L532.25,175.58 L528.93,168.92 L526.05,162.04 L523.61,154.98 L521.64,147.75 L520.15,140.39 L519.13,132.93 L518.61,125.40 L543.29,125.40 L543.76,131.31 L544.62,137.17 L545.85,142.93 L547.45,148.59 L549.42,154.11 L551.73,159.48 L554.39,164.66 L557.37,169.64 L560.66,174.41 L564.24,178.93 L568.10,183.19 L572.22,187.18 L576.57,190.88 L581.15,194.28 L585.92,197.35 L590.87,200.10Z" fill="#90d050"/><path d="M518.61,125.40 L518.58,117.83 L519.04,110.27 L520.01,102.73 L521.46,95.25 L523.41,87.86 L525.85,80.60 L528.76,73.50 L532.14,66.59 L535.97,59.90 L540.25,53.46 L544.94,47.30 L550.04,41.44 L555.53,35.92 L561.38,30.76 L567.57,25.98 L574.08,21.61 L580.87,17.67 L587.92,14.16 L595.21,11.13 L602.69,8.56 L610.35,6.49 L618.14,4.93 L626.03,3.87 L634.00,3.33 L634.00,28.01 L627.65,28.50 L621.36,29.39 L615.16,30.70 L609.08,32.40 L603.14,34.50 L597.37,36.97 L591.79,39.80 L586.42,42.99 L581.28,46.51 L576.41,50.34 L571.80,54.48 L567.50,58.90 L563.50,63.57 L559.83,68.48 L556.49,73.61 L553.51,78.93 L550.90,84.42 L548.65,90.05 L546.78,95.79 L545.30,101.63 L544.21,107.54 L543.51,113.49 L543.20,119.45 L543.29,125.40Z" fill="#fdb4c1"/>
<line x1="634.00" y1="81.43" x2="634.00" y2="72.73" stroke="#1a1a1a" stroke-width="1.6"/><line x1="645.67" y1="81.85" x2="646.96" y2="77.02" stroke="rgba(0,0,0,0.5)" stroke-width="1.15"/><line x1="657.10" y1="85.39" x2="661.45" y2="77.86" stroke="#1a1a1a" stroke-width="1.6"/><line x1="667.45" y1="91.95" x2="670.99" y2="88.41" stroke="rgba(0,0,0,0.5)" stroke-width="1.15"/><line x1="675.93" y1="101.19" x2="683.47" y2="96.84" stroke="#1a1a1a" stroke-width="1.6"/><line x1="681.85" y1="112.58" x2="686.68" y2="111.29" stroke="rgba(0,0,0,0.5)" stroke-width="1.15"/><line x1="684.65" y1="125.40" x2="693.35" y2="125.40" stroke="#1a1a1a" stroke-width="1.6"/><line x1="684.00" y1="138.80" x2="688.83" y2="140.09" stroke="rgba(0,0,0,0.5)" stroke-width="1.15"/><line x1="679.79" y1="151.84" x2="687.32" y2="156.19" stroke="#1a1a1a" stroke-width="1.6"/><line x1="672.17" y1="163.57" x2="675.71" y2="167.11" stroke="rgba(0,0,0,0.5)" stroke-width="1.15"/><line x1="661.55" y1="173.12" x2="665.90" y2="180.65" stroke="#1a1a1a" stroke-width="1.6"/><line x1="648.55" y1="179.70" x2="649.84" y2="184.53" stroke="rgba(0,0,0,0.5)" stroke-width="1.15"/><line x1="634.00" y1="182.73" x2="634.00" y2="191.43" stroke="#1a1a1a" stroke-width="1.6"/><line x1="618.88" y1="181.85" x2="617.58" y2="186.68" stroke="rgba(0,0,0,0.5)" stroke-width="1.15"/><line x1="604.22" y1="176.97" x2="599.87" y2="184.51" stroke="#1a1a1a" stroke-width="1.6"/><line x1="591.10" y1="168.30" x2="587.57" y2="171.83" stroke="rgba(0,0,0,0.5)" stroke-width="1.15"/><line x1="580.50" y1="156.29" x2="572.97" y2="160.64" stroke="#1a1a1a" stroke-width="1.6"/><line x1="573.25" y1="141.68" x2="568.42" y2="142.97" stroke="rgba(0,0,0,0.5)" stroke-width="1.15"/><line x1="570.00" y1="125.40" x2="561.30" y2="125.40" stroke="#1a1a1a" stroke-width="1.6"/><line x1="571.10" y1="108.55" x2="566.27" y2="107.25" stroke="rgba(0,0,0,0.5)" stroke-width="1.15"/><line x1="576.64" y1="92.29" x2="569.11" y2="87.94" stroke="#1a1a1a" stroke-width="1.6"/><line x1="586.38" y1="77.78" x2="582.85" y2="74.25" stroke="rgba(0,0,0,0.5)" stroke-width="1.15"/><line x1="599.77" y1="66.12" x2="595.42" y2="58.58" stroke="#1a1a1a" stroke-width="1.6"/><line x1="615.99" y1="58.20" x2="614.70" y2="53.37" stroke="rgba(0,0,0,0.5)" stroke-width="1.15"/><line x1="634.00" y1="54.72" x2="634.00" y2="46.02" stroke="#1a1a1a" stroke-width="1.6"/><line x1="652.58" y1="56.05" x2="653.88" y2="51.22" stroke="rgba(0,0,0,0.5)" stroke-width="1.15"/><line x1="670.45" y1="62.26" x2="674.80" y2="54.73" stroke="#1a1a1a" stroke-width="1.6"/><line x1="686.34" y1="73.06" x2="689.87" y2="69.53" stroke="rgba(0,0,0,0.5)" stroke-width="1.15"/><line x1="699.07" y1="87.83" x2="706.60" y2="83.48" stroke="#1a1a1a" stroke-width="1.6"/><line x1="707.65" y1="105.67" x2="712.48" y2="104.37" stroke="rgba(0,0,0,0.5)" stroke-width="1.15"/><line x1="711.36" y1="125.40" x2="720.06" y2="125.40" stroke="#1a1a1a" stroke-width="1.6"/><line x1="709.80" y1="145.71" x2="714.63" y2="147.00" stroke="rgba(0,0,0,0.5)" stroke-width="1.15"/><line x1="702.92" y1="165.19" x2="710.46" y2="169.54" stroke="#1a1a1a" stroke-width="1.6"/><line x1="691.06" y1="182.46" x2="694.60" y2="186.00" stroke="rgba(0,0,0,0.5)" stroke-width="1.15"/><line x1="674.90" y1="196.25" x2="679.25" y2="203.78" stroke="#1a1a1a" stroke-width="1.6"/><line x1="655.46" y1="205.50" x2="656.76" y2="210.33" stroke="rgba(0,0,0,0.5)" stroke-width="1.15"/><line x1="634.00" y1="209.44" x2="634.00" y2="218.13" stroke="#1a1a1a" stroke-width="1.6"/><line x1="611.96" y1="207.65" x2="610.67" y2="212.48" stroke="rgba(0,0,0,0.5)" stroke-width="1.15"/><line x1="590.87" y1="200.10" x2="586.52" y2="207.64" stroke="#1a1a1a" stroke-width="1.6"/><line x1="572.22" y1="187.18" x2="568.68" y2="190.72" stroke="rgba(0,0,0,0.5)" stroke-width="1.15"/><line x1="557.37" y1="169.64" x2="549.83" y2="173.99" stroke="#1a1a1a" stroke-width="1.6"/><line x1="547.45" y1="148.59" x2="542.62" y2="149.88" stroke="rgba(0,0,0,0.5)" stroke-width="1.15"/><line x1="543.29" y1="125.40" x2="534.59" y2="125.40" stroke="#1a1a1a" stroke-width="1.6"/><line x1="545.30" y1="101.63" x2="540.47" y2="100.34" stroke="rgba(0,0,0,0.5)" stroke-width="1.15"/><line x1="553.51" y1="78.93" x2="545.98" y2="74.58" stroke="#1a1a1a" stroke-width="1.6"/><line x1="567.50" y1="58.90" x2="563.96" y2="55.36" stroke="rgba(0,0,0,0.5)" stroke-width="1.15"/><line x1="586.42" y1="42.99" x2="582.07" y2="35.45" stroke="#1a1a1a" stroke-width="1.6"/><line x1="609.08" y1="32.40" x2="607.79" y2="27.57" stroke="rgba(0,0,0,0.5)" stroke-width="1.15"/>
<text x="634.15" y="70.88" text-anchor="middle" font-weight="bold" font-size="14.5" fill="#000" stroke="#000" stroke-width="0.3">0</text><text x="665.32" y="77.01" text-anchor="middle" font-weight="bold" font-size="14.5" fill="#000" stroke="#000" stroke-width="0.3">1</text><text x="690.07" y="98.71" text-anchor="middle" font-weight="bold" font-size="14.5" fill="#000" stroke="#000" stroke-width="0.3">2</text><text x="700.95" y="131.00" text-anchor="middle" font-weight="bold" font-size="14.5" fill="#000" stroke="#000" stroke-width="0.3">3</text><text x="693.93" y="165.51" text-anchor="middle" font-weight="bold" font-size="14.5" fill="#000" stroke="#000" stroke-width="0.3">4</text><text x="669.77" y="192.70" text-anchor="middle" font-weight="bold" font-size="14.5" fill="#000" stroke="#000" stroke-width="0.3">5</text><text x="634.15" y="204.47" text-anchor="middle" font-weight="bold" font-size="14.5" fill="#000" stroke="#000" stroke-width="0.3">6</text><text x="596.30" y="196.56" text-anchor="middle" font-weight="bold" font-size="14.5" fill="#000" stroke="#000" stroke-width="0.3">7</text><text x="566.66" y="169.96" text-anchor="middle" font-weight="bold" font-size="14.5" fill="#000" stroke="#000" stroke-width="0.3">8</text><text x="554.00" y="131.00" text-anchor="middle" font-weight="bold" font-size="14.5" fill="#000" stroke="#000" stroke-width="0.3">9</text><text x="562.81" y="89.81" text-anchor="middle" font-weight="bold" font-size="14.5" fill="#000" stroke="#000" stroke-width="0.3">10</text><text x="591.85" y="57.73" text-anchor="middle" font-weight="bold" font-size="14.5" fill="#000" stroke="#000" stroke-width="0.3">11</text><text x="634.15" y="44.17" text-anchor="middle" font-weight="bold" font-size="14.5" fill="#000" stroke="#000" stroke-width="0.3">12</text><text x="678.68" y="53.88" text-anchor="middle" font-weight="bold" font-size="14.5" fill="#000" stroke="#000" stroke-width="0.3">13</text><text x="713.20" y="85.36" text-anchor="middle" font-weight="bold" font-size="14.5" fill="#000" stroke="#000" stroke-width="0.3">14</text><text x="727.66" y="131.00" text-anchor="middle" font-weight="bold" font-size="14.5" fill="#000" stroke="#000" stroke-width="0.3">15</text><text x="717.06" y="178.87" text-anchor="middle" font-weight="bold" font-size="14.5" fill="#000" stroke="#000" stroke-width="0.3">16</text><text x="683.13" y="215.84" text-anchor="middle" font-weight="bold" font-size="14.5" fill="#000" stroke="#000" stroke-width="0.3">17</text><text x="634.15" y="231.19" text-anchor="middle" font-weight="bold" font-size="14.5" fill="#000" stroke="#000" stroke-width="0.3">18</text><text x="582.94" y="219.69" text-anchor="middle" font-weight="bold" font-size="14.5" fill="#000" stroke="#000" stroke-width="0.3">19</text><text x="543.53" y="183.32" text-anchor="middle" font-weight="bold" font-size="14.5" fill="#000" stroke="#000" stroke-width="0.3">20</text><text x="527.29" y="131.00" text-anchor="middle" font-weight="bold" font-size="14.5" fill="#000" stroke="#000" stroke-width="0.3">21</text><text x="539.68" y="76.46" text-anchor="middle" font-weight="bold" font-size="14.5" fill="#000" stroke="#000" stroke-width="0.3">22</text><text x="578.49" y="34.60" text-anchor="middle" font-weight="bold" font-size="14.5" fill="#000" stroke="#000" stroke-width="0.3">23</text>
<text x="626.70" y="109.50" text-anchor="middle" font-weight="bold" font-size="17.2" fill="#111" stroke="#111" stroke-width="0.2">2.1 черга</text>
<text transform="translate(630.00,128.80) scale(0.895,1)" text-anchor="middle" font-size="11" fill="#262626">при запланованому</text>
<text transform="translate(629.90,139.90) scale(0.895,1)" text-anchor="middle" font-size="11" fill="#262626">графіку відключень</text>
<text x="629.70" y="154.20" text-anchor="middle" font-weight="bold" font-size="11" fill="#111">вт 30.12.2025</text>
<text x="591.64" y="169.70" font-size="13.5" fill="#d4869b" stroke="#d4869b" stroke-width="0.35">-13.5</text>
<rect x="624.61" y="158.00" width="22.97" height="14.6" rx="4.5" fill="#ede755"/>
<text x="626.71" y="169.70" font-weight="bold" font-size="13.5" fill="#000">1.5</text>
<text x="649.77" y="169.70" font-size="13.5" fill="#6cae34" stroke="#6cae34" stroke-width="0.35">+9</text>
<path d="M126.60,312.75 L131.11,312.62 L135.63,312.79 L140.16,313.25 L144.66,314.01 L149.11,315.08 L153.51,316.43 L157.82,318.08 L162.04,320.02 L166.13,322.24 L170.09,324.73 L173.88,327.49 L177.50,330.50 L180.93,333.75 L184.15,337.24 L187.15,340.94 L189.91,344.85 L192.41,348.94 L194.65,353.21 L196.61,357.63 L198.29,362.19 L199.66,366.87 L200.73,371.64 L201.49,376.49 L201.93,381.40 L177.25,381.40 L176.86,378.11 L176.26,374.86 L175.46,371.68 L174.45,368.58 L173.24,365.57 L171.85,362.66 L170.28,359.86 L168.53,357.19 L166.63,354.65 L164.57,352.26 L162.38,350.02 L160.05,347.95 L157.61,346.04 L155.06,344.31 L152.42,342.76 L149.70,341.39 L146.91,340.22 L144.07,339.23 L141.18,338.45 L138.27,337.85 L135.34,337.46 L132.41,337.25 L129.49,337.25 L126.60,337.43Z" fill="#90d050"/><path d="M201.93,381.40 L202.04,386.34 L201.83,391.30 L201.30,396.26 L200.44,401.18 L199.25,406.06 L197.74,410.87 L195.91,415.58 L193.76,420.18 L191.31,424.64 L188.57,428.95 L185.54,433.08 L182.23,437.03 L178.65,440.75 L174.83,444.25 L170.77,447.50 L166.49,450.49 L162.01,453.20 L157.34,455.62 L152.51,457.74 L147.54,459.54 L142.44,461.01 L137.23,462.15 L131.95,462.95 L126.60,463.40 L121.22,463.51 L115.82,463.26 L110.44,462.65 L105.09,461.69 L111.48,437.85 L115.25,438.44 L119.04,438.79 L122.83,438.88 L126.60,438.72 L130.33,438.32 L134.01,437.68 L137.62,436.80 L141.15,435.70 L144.58,434.37 L147.90,432.82 L151.09,431.07 L154.15,429.12 L157.06,426.98 L159.80,424.67 L162.38,422.20 L164.77,419.57 L166.98,416.81 L168.99,413.93 L170.79,410.93 L172.39,407.84 L173.77,404.66 L174.93,401.42 L175.88,398.13 L176.60,394.80 L177.09,391.44 L177.37,388.08 L177.42,384.73 L177.25,381.40Z" fill="#fdb4c1"/><path d="M105.09,461.69 L99.79,460.37 L94.58,458.71 L89.47,456.69 L84.48,454.35 L96.82,432.97 L100.38,434.56 L104.02,435.90 L107.73,437.00 L111.48,437.85Z" fill="#ebe562"/><path d="M84.48,454.35 L79.65,451.67 L74.98,448.67 L70.51,445.36 L66.25,441.75 L62.23,437.85 L58.45,433.69 L54.95,429.28 L51.73,424.63 L48.81,419.76 L46.21,414.70 L43.94,409.46 L42.01,404.06 L40.44,398.54 L39.23,392.90 L38.39,387.18 L37.92,381.40 L37.83,375.58 L38.12,369.75 L38.80,363.94 L39.86,358.16 L63.70,364.55 L63.01,368.75 L62.59,372.97 L62.46,377.20 L62.60,381.40 L63.01,385.57 L63.70,389.68 L64.65,393.72 L65.85,397.68 L67.31,401.53 L69.01,405.25 L70.94,408.85 L73.10,412.29 L75.47,415.57 L78.03,418.67 L80.78,421.58 L83.70,424.30 L86.79,426.80 L90.01,429.09 L93.36,431.15 L96.82,432.97Z" fill="#90d050"/><path d="M39.86,358.16 L41.31,352.45 L43.13,346.82 L45.32,341.32 L47.87,335.95 L50.78,330.74 L54.04,325.72 L57.62,320.91 L61.53,316.33 L65.74,312.01 L70.24,307.95 L75.01,304.19 L80.03,300.74 L85.28,297.62 L90.75,294.84 L96.39,292.42 L102.21,290.36 L108.16,288.69 L114.23,287.41 L120.38,286.52 L126.60,286.04 L132.86,285.97 L139.12,286.30 L145.37,287.05 L151.57,288.21 L157.70,289.78 L163.73,291.76 L169.64,294.13 L175.39,296.89 L163.05,318.26 L158.72,316.26 L154.29,314.56 L149.77,313.15 L145.18,312.05 L140.55,311.26 L135.90,310.77 L131.24,310.59 L126.60,310.72 L122.00,311.15 L117.45,311.88 L112.97,312.90 L108.59,314.20 L104.33,315.79 L100.19,317.64 L96.20,319.76 L92.37,322.12 L88.72,324.71 L85.27,327.53 L82.02,330.56 L78.98,333.78 L76.18,337.18 L73.62,340.74 L71.30,344.45 L69.24,348.29 L67.45,352.23 L65.93,356.27 L64.68,360.38 L63.70,364.55Z" fill="#fdb4c1"/><path d="M175.39,296.89 L180.97,300.03 L186.35,303.54 L191.49,307.40 L196.39,311.61 L178.94,329.06 L175.22,325.96 L171.32,323.12 L167.26,320.55 L163.05,318.26Z" fill="#ebe562"/><path d="M196.39,311.61 L201.01,316.14 L205.34,320.98 L209.36,326.10 L213.04,331.49 L216.37,337.13 L219.33,342.99 L221.91,349.05 L224.09,355.28 L225.86,361.66 L227.21,368.15 L228.14,374.74 L228.64,381.40 L228.70,388.09 L228.32,394.79 L227.50,401.47 L226.24,408.10 L202.40,401.71 L203.29,396.65 L203.85,391.57 L204.07,386.48 L203.96,381.40 L203.51,376.36 L202.74,371.38 L201.65,366.47 L200.25,361.67 L198.53,356.98 L196.53,352.44 L194.23,348.05 L191.67,343.83 L188.84,339.81 L185.76,336.00 L182.46,332.41 L178.94,329.06Z" fill="#90d050"/><path d="M226.24,408.10 L224.54,414.65 L222.41,421.09 L219.86,427.39 L216.89,433.53 L213.52,439.48 L209.76,445.21 L205.62,450.70 L201.11,455.91 L196.26,460.84 L191.09,465.44 L185.61,469.71 L179.84,473.62 L173.82,477.16 L167.56,480.30 L161.10,483.03 L154.45,485.34 L147.65,487.21 L140.72,488.63 L133.69,489.60 L126.60,490.12 L119.47,490.16 L112.34,489.74 L105.23,488.84 L98.17,487.49 L91.21,485.66 L84.36,483.38 L77.66,480.65 L71.13,477.48 L83.47,456.10 L88.57,458.52 L93.80,460.58 L99.14,462.29 L104.56,463.65 L110.04,464.64 L115.56,465.27 L121.09,465.53 L126.60,465.43 L132.08,464.98 L137.50,464.16 L142.83,463.00 L148.06,461.50 L153.16,459.66 L158.12,457.50 L162.91,455.02 L167.50,452.25 L171.90,449.19 L176.06,445.86 L179.99,442.28 L183.66,438.46 L187.06,434.42 L190.18,430.19 L193.00,425.77 L195.52,421.19 L197.73,416.48 L199.61,411.64 L201.17,406.71 L202.40,401.71Z" fill="#fdb4c1"/><path d="M71.13,477.48 L64.81,473.88 L58.72,469.86 L52.90,465.44 L47.37,460.63 L64.82,443.18 L69.17,446.88 L73.75,450.28 L78.52,453.35 L83.47,456.10Z" fill="#ebe562"/><path d="M47.37,460.63 L42.14,455.47 L37.26,449.95 L32.74,444.12 L28.59,437.98 L24.85,431.58 L21.53,424.92 L18.65,418.04 L16.21,410.98 L14.24,403.75 L12.75,396.39 L11.73,388.93 L11.21,381.40 L11.18,373.83 L11.64,366.27 L12.61,358.73 L14.06,351.25 L37.90,357.63 L36.81,363.54 L36.11,369.49 L35.80,375.45 L35.89,381.40 L36.36,387.31 L37.22,393.17 L38.45,398.93 L40.05,404.59 L42.02,410.11 L44.33,415.48 L46.99,420.66 L49.97,425.64 L53.26,430.41 L56.84,434.93 L60.70,439.19 L64.82,443.18Z" fill="#90d050"/><path d="M14.06,351.25 L16.01,343.86 L18.45,336.60 L21.36,329.50 L24.74,322.59 L28.57,315.90 L32.85,309.46 L37.54,303.30 L42.64,297.44 L48.13,291.92 L53.98,286.76 L60.17,281.98 L66.68,277.61 L73.47,273.67 L80.52,270.16 L87.81,267.13 L95.29,264.56 L102.95,262.49 L110.74,260.93 L118.63,259.87 L126.60,259.33 L126.60,284.01 L120.25,284.50 L113.96,285.39 L107.76,286.70 L101.68,288.40 L95.74,290.50 L89.97,292.97 L84.39,295.80 L79.02,298.99 L73.88,302.51 L69.01,306.34 L64.40,310.48 L60.10,314.90 L56.10,319.57 L52.43,324.48 L49.09,329.61 L46.11,334.93 L43.50,340.42 L41.25,346.05 L39.38,351.79 L37.90,357.63Z" fill="#fdb4c1"/>
<line x1="126.60" y1="337.43" x2="126.60" y2="328.73" stroke="#1a1a1a" stroke-width="1.6"/><line x1="138.27" y1="337.85" x2="139.56" y2="333.02" stroke="rgba(0,0,0,0.5)" stroke-width="1.15"/><line x1="149.70" y1="341.39" x2="154.05" y2="333.86" stroke="#1a1a1a" stroke-width="1.6"/><line x1="160.05" y1="347.95" x2="163.59" y2="344.41" stroke="rgba(0,0,0,0.5)" stroke-width="1.15"/><line x1="168.53" y1="357.19" x2="176.07" y2="352.84" stroke="#1a1a1a" stroke-width="1.6"/><line x1="174.45" y1="368.58" x2="179.28" y2="367.29" stroke="rgba(0,0,0,0.5)" stroke-width="1.15"/><line x1="177.25" y1="381.40" x2="185.95" y2="381.40" stroke="#1a1a1a" stroke-width="1.6"/><line x1="176.60" y1="394.80" x2="181.43" y2="396.09" stroke="rgba(0,0,0,0.5)" stroke-width="1.15"/><line x1="172.39" y1="407.84" x2="179.92" y2="412.19" stroke="#1a1a1a" stroke-width="1.6"/><line x1="164.77" y1="419.57" x2="168.31" y2="423.11" stroke="rgba(0,0,0,0.5)" stroke-width="1.15"/><line x1="154.15" y1="429.12" x2="158.50" y2="436.65" stroke="#1a1a1a" stroke-width="1.6"/><line x1="141.15" y1="435.70" x2="142.44" y2="440.53" stroke="rgba(0,0,0,0.5)" stroke-width="1.15"/><line x1="126.60" y1="438.72" x2="126.60" y2="447.42" stroke="#1a1a1a" stroke-width="1.6"/><line x1="111.48" y1="437.85" x2="110.18" y2="442.68" stroke="rgba(0,0,0,0.5)" stroke-width="1.15"/><line x1="96.82" y1="432.97" x2="92.47" y2="440.51" stroke="#1a1a1a" stroke-width="1.6"/><line x1="83.70" y1="424.30" x2="80.17" y2="427.83" stroke="rgba(0,0,0,0.5)" stroke-width="1.15"/><line x1="73.10" y1="412.29" x2="65.57" y2="416.64" stroke="#1a1a1a" stroke-width="1.6"/><line x1="65.85" y1="397.68" x2="61.02" y2="398.97" stroke="rgba(0,0,0,0.5)" stroke-width="1.15"/><line x1="62.60" y1="381.40" x2="53.90" y2="381.40" stroke="#1a1a1a" stroke-width="1.6"/><line x1="63.70" y1="364.55" x2="58.87" y2="363.25" stroke="rgba(0,0,0,0.5)" stroke-width="1.15"/><line x1="69.24" y1="348.29" x2="61.71" y2="343.94" stroke="#1a1a1a" stroke-width="1.6"/><line x1="78.98" y1="333.78" x2="75.45" y2="330.25" stroke="rgba(0,0,0,0.5)" stroke-width="1.15"/><line x1="92.37" y1="322.12" x2="88.02" y2="314.58" stroke="#1a1a1a" stroke-width="1.6"/><line x1="108.59" y1="314.20" x2="107.30" y2="309.37" stroke="rgba(0,0,0,0.5)" stroke-width="1.15"/><line x1="126.60" y1="310.72" x2="126.60" y2="302.02" stroke="#1a1a1a" stroke-width="1.6"/><line x1="145.18" y1="312.05" x2="146.48" y2="307.22" stroke="rgba(0,0,0,0.5)" stroke-width="1.15"/><line x1="163.05" y1="318.26" x2="167.40" y2="310.73" stroke="#1a1a1a" stroke-width="1.6"/><line x1="178.94" y1="329.06" x2="182.47" y2="325.53" stroke="rgba(0,0,0,0.5)" stroke-width="1.15"/><line x1="191.67" y1="343.83" x2="199.20" y2="339.48" stroke="#1a1a1a" stroke-width="1.6"/><line x1="200.25" y1="361.67" x2="205.08" y2="360.37" stroke="rgba(0,0,0,0.5)" stroke-width="1.15"/><line x1="203.96" y1="381.40" x2="212.66" y2="381.40" stroke="#1a1a1a" stroke-width="1.6"/><line x1="202.40" y1="401.71" x2="207.23" y2="403.00" stroke="rgba(0,0,0,0.5)" stroke-width="1.15"/><line x1="195.52" y1="421.19" x2="203.06" y2="425.54" stroke="#1a1a1a" stroke-width="1.6"/><line x1="183.66" y1="438.46" x2="187.20" y2="442.00" stroke="rgba(0,0,0,0.5)" stroke-width="1.15"/><line x1="167.50" y1="452.25" x2="171.85" y2="459.78" stroke="#1a1a1a" stroke-width="1.6"/><line x1="148.06" y1="461.50" x2="149.36" y2="466.33" stroke="rgba(0,0,0,0.5)" stroke-width="1.15"/><line x1="126.60" y1="465.43" x2="126.60" y2="474.13" stroke="#1a1a1a" stroke-width="1.6"/><line x1="104.56" y1="463.65" x2="103.27" y2="468.48" stroke="rgba(0,0,0,0.5)" stroke-width="1.15"/><line x1="83.47" y1="456.10" x2="79.12" y2="463.64" stroke="#1a1a1a" stroke-width="1.6"/><line x1="64.82" y1="443.18" x2="61.28" y2="446.72" stroke="rgba(0,0,0,0.5)" stroke-width="1.15"/><line x1="49.97" y1="425.64" x2="42.43" y2="429.99" stroke="#1a1a1a" stroke-width="1.6"/><line x1="40.05" y1="404.59" x2="35.22" y2="405.88" stroke="rgba(0,0,0,0.5)" stroke-width="1.15"/><line x1="35.89" y1="381.40" x2="27.19" y2="381.40" stroke="#1a1a1a" stroke-width="1.6"/><line x1="37.90" y1="357.63" x2="33.07" y2="356.34" stroke="rgba(0,0,0,0.5)" stroke-width="1.15"/><line x1="46.11" y1="334.93" x2="38.58" y2="330.58" stroke="#1a1a1a" stroke-width="1.6"/><line x1="60.10" y1="314.90" x2="56.56" y2="311.36" stroke="rgba(0,0,0,0.5)" stroke-width="1.15"/><line x1="79.02" y1="298.99" x2="74.67" y2="291.45" stroke="#1a1a1a" stroke-width="1.6"/><line x1="101.68" y1="288.40" x2="100.39" y2="283.57" stroke="rgba(0,0,0,0.5)" stroke-width="1.15"/>
<text x="126.75" y="326.88" text-anchor="middle" font-weight="bold" font-size="14.5" fill="#000" stroke="#000" stroke-width="0.3">0</text><text x="157.92" y="333.01" text-anchor="middle" font-weight="bold" font-size="14.5" fill="#000" stroke="#000" stroke-width="0.3">1</text><text x="182.67" y="354.71" text-anchor="middle" font-weight="bold" font-size="14.5" fill="#000" stroke="#000" stroke-width="0.3">2</text><text x="193.55" y="387.00" text-anchor="middle" font-weight="bold" font-size="14.5" fill="#000" stroke="#000" stroke-width="0.3">3</text><text x="186.53" y="421.51" text-anchor="middle" font-weight="bold" font-size="14.5" fill="#000" stroke="#000" stroke-width="0.3">4</text><text x="162.37" y="448.70" text-anchor="middle" font-weight="bold" font-size="14.5" fill="#000" stroke="#000" stroke-width="0.3">5</text><text x="126.75" y="460.48" text-anchor="middle" font-weight="bold" font-size="14.5" fill="#000" stroke="#000" stroke-width="0.3">6</text><text x="88.90" y="452.56" text-anchor="middle" font-weight="bold" font-size="14.5" fill="#000" stroke="#000" stroke-width="0.3">7</text><text x="59.26" y="425.96" text-anchor="middle" font-weight="bold" font-size="14.5" fill="#000" stroke="#000" stroke-width="0.3">8</text><text x="46.60" y="387.00" text-anchor="middle" font-weight="bold" font-size="14.5" fill="#000" stroke="#000" stroke-width="0.3">9</text><text x="55.41" y="345.81" text-anchor="middle" font-weight="bold" font-size="14.5" fill="#000" stroke="#000" stroke-width="0.3">10</text><text x="84.45" y="313.73" text-anchor="middle" font-weight="bold" font-size="14.5" fill="#000" stroke="#000" stroke-width="0.3">11</text><text x="126.75" y="300.17" text-anchor="middle" font-weight="bold" font-size="14.5" fill="#000" stroke="#000" stroke-width="0.3">12</text><text x="171.28" y="309.88" text-anchor="middle" font-weight="bold" font-size="14.5" fill="#000" stroke="#000" stroke-width="0.3">13</text><text x="205.80" y="341.36" text-anchor="middle" font-weight="bold" font-size="14.5" fill="#000" stroke="#000" stroke-width="0.3">14</text><text x="220.26" y="387.00" text-anchor="middle" font-weight="bold" font-size="14.5" fill="#000" stroke="#000" stroke-width="0.3">15</text><text x="209.66" y="434.87" text-anchor="middle" font-weight="bold" font-size="14.5" fill="#000" stroke="#000" stroke-width="0.3">16</text><text x="175.73" y="471.84" text-anchor="middle" font-weight="bold" font-size="14.5" fill="#000" stroke="#000" stroke-width="0.3">17</text><text x="126.75" y="487.19" text-anchor="middle" font-weight="bold" font-size="14.5" fill="#000" stroke="#000" stroke-width="0.3">18</text><text x="75.54" y="475.69" text-anchor="middle" font-weight="bold" font-size="14.5" fill="#000" stroke="#000" stroke-width="0.3">19</text><text x="36.13" y="439.32" text-anchor="middle" font-weight="bold" font-size="14.5" fill="#000" stroke="#000" stroke-width="0.3">20</text><text x="19.89" y="387.00" text-anchor="middle" font-weight="bold" font-size="14.5" fill="#000" stroke="#000" stroke-width="0.3">21</text><text x="32.28" y="332.46" text-anchor="middle" font-weight="bold" font-size="14.5" fill="#000" stroke="#000" stroke-width="0.3">22</text><text x="71.09" y="290.60" text-anchor="middle" font-weight="bold" font-size="14.5" fill="#000" stroke="#000" stroke-width="0.3">23</text>
<text x="119.30" y="365.50" text-anchor="middle" font-weight="bold" font-size="17.2" fill="#111" stroke="#111" stroke-width="0.2">2.2 черга</text>
<text transform="translate(122.60,384.80) scale(0.895,1)" text-anchor="middle" font-size="11" fill="#262626">при запланованому</text>
<text transform="translate(122.50,395.90) scale(0.895,1)" text-anchor="middle" font-size="11" fill="#262626">графіку відключень</text>
<text x="122.30" y="410.20" text-anchor="middle" font-weight="bold" font-size="11" fill="#111">вт 30.12.2025</text>
<text x="84.24" y="425.70" font-size="13.5" fill="#d4869b" stroke="#d4869b" stroke-width="0.35">-13</text>
<rect x="105.95" y="414.00" width="22.97" height="14.6" rx="4.5" fill="#ede755"/>
<text x="108.05" y="425.70" font-weight="bold" font-size="13.5" fill="#000">1.5</text>
<text x="131.11" y="425.70" font-size="13.5" fill="#6cae34" stroke="#6cae34" stroke-width="0.35">+9.5</text>
<path d="M380.30,312.75 L384.81,312.62 L389.33,312.79 L393.86,313.25 L398.36,314.01 L402.81,315.08 L407.21,316.43 L411.52,318.08 L415.74,320.02 L419.83,322.24 L423.79,324.73 L427.58,327.49 L431.20,330.50 L434.63,333.75 L437.85,337.24 L440.85,340.94 L443.61,344.85 L446.11,348.94 L448.35,353.21 L450.31,357.63 L451.99,362.19 L453.36,366.87 L454.43,371.64 L455.19,376.49 L455.63,381.40 L455.74,386.34 L455.53,391.30 L455.00,396.26 L454.14,401.18 L452.95,406.06 L451.44,410.87 L449.61,415.58 L447.46,420.18 L426.09,407.84 L427.47,404.66 L428.63,401.42 L429.58,398.13 L430.30,394.80 L430.79,391.44 L431.07,388.08 L431.12,384.73 L430.95,381.40 L430.56,378.11 L429.96,374.86 L429.16,371.68 L428.15,368.58 L426.94,365.57 L425.55,362.66 L423.98,359.86 L422.23,357.19 L420.33,354.65 L418.27,352.26 L416.08,350.02 L413.75,347.95 L411.31,346.04 L408.76,344.31 L406.12,342.76 L403.40,341.39 L400.61,340.22 L397.77,339.23 L394.88,338.45 L391.97,337.85 L389.04,337.46 L386.11,337.25 L383.19,337.25 L380.30,337.43Z" fill="#90d050"/><path d="M447.46,420.18 L445.01,424.64 L442.27,428.95 L439.24,433.08 L435.93,437.03 L432.35,440.75 L428.53,444.25 L424.47,447.50 L420.19,450.49 L415.71,453.20 L411.04,455.62 L406.21,457.74 L401.24,459.54 L396.14,461.01 L390.93,462.15 L385.65,462.95 L380.30,463.40 L374.92,463.51 L369.52,463.26 L364.14,462.65 L358.79,461.69 L353.49,460.37 L348.28,458.71 L343.17,456.69 L338.18,454.35 L350.52,432.97 L354.08,434.56 L357.72,435.90 L361.43,437.00 L365.18,437.85 L368.95,438.44 L372.74,438.79 L376.53,438.88 L380.30,438.72 L384.03,438.32 L387.71,437.68 L391.32,436.80 L394.85,435.70 L398.28,434.37 L401.60,432.82 L404.79,431.07 L407.85,429.12 L410.76,426.98 L413.50,424.67 L416.08,422.20 L418.47,419.57 L420.68,416.81 L422.69,413.93 L424.49,410.93 L426.09,407.84Z" fill="#fdb4c1"/><path d="M338.18,454.35 L333.35,451.67 L328.68,448.67 L324.21,445.36 L319.95,441.75 L337.40,424.30 L340.49,426.80 L343.71,429.09 L347.06,431.15 L350.52,432.97Z" fill="#ebe562"/><path d="M319.95,441.75 L315.93,437.85 L312.15,433.69 L308.65,429.28 L305.43,424.63 L302.51,419.76 L299.91,414.70 L297.64,409.46 L295.71,404.06 L294.14,398.54 L292.93,392.90 L292.09,387.18 L291.62,381.40 L291.53,375.58 L291.82,369.75 L292.50,363.94 L293.56,358.16 L295.01,352.45 L296.83,346.82 L299.02,341.32 L301.57,335.95 L322.94,348.29 L321.15,352.23 L319.63,356.27 L318.38,360.38 L317.40,364.55 L316.71,368.75 L316.29,372.97 L316.16,377.20 L316.30,381.40 L316.71,385.57 L317.40,389.68 L318.35,393.72 L319.55,397.68 L321.01,401.53 L322.71,405.25 L324.64,408.85 L326.80,412.29 L329.17,415.57 L331.73,418.67 L334.48,421.58 L337.40,424.30Z" fill="#90d050"/><path d="M301.57,335.95 L304.48,330.74 L307.74,325.72 L311.32,320.91 L315.23,316.33 L319.44,312.01 L323.94,307.95 L328.71,304.19 L333.73,300.74 L338.98,297.62 L344.45,294.84 L350.09,292.42 L355.91,290.36 L361.86,288.69 L367.93,287.41 L374.08,286.52 L380.30,286.04 L386.56,285.97 L392.82,286.30 L399.07,287.05 L405.27,288.21 L411.40,289.78 L417.43,291.76 L423.34,294.13 L429.09,296.89 L434.67,300.03 L440.05,303.54 L445.19,307.40 L450.09,311.61 L432.64,329.06 L428.92,325.96 L425.02,323.12 L420.96,320.55 L416.75,318.26 L412.42,316.26 L407.99,314.56 L403.47,313.15 L398.88,312.05 L394.25,311.26 L389.60,310.77 L384.94,310.59 L380.30,310.72 L375.70,311.15 L371.15,311.88 L366.67,312.90 L362.29,314.20 L358.03,315.79 L353.89,317.64 L349.90,319.76 L346.07,322.12 L342.42,324.71 L338.97,327.53 L335.72,330.56 L332.68,333.78 L329.88,337.18 L327.32,340.74 L325.00,344.45 L322.94,348.29Z" fill="#fdb4c1"/><path d="M450.09,311.61 L454.71,316.14 L459.04,320.98 L463.06,326.10 L466.74,331.49 L445.37,343.83 L442.54,339.81 L439.46,336.00 L436.16,332.41 L432.64,329.06Z" fill="#ebe562"/><path d="M466.74,331.49 L470.07,337.13 L473.03,342.99 L475.61,349.05 L477.79,355.28 L479.56,361.66 L480.91,368.15 L481.84,374.74 L482.34,381.40 L482.40,388.09 L482.02,394.79 L481.20,401.47 L479.94,408.10 L478.24,414.65 L476.11,421.09 L473.56,427.39 L470.59,433.53 L449.22,421.19 L451.43,416.48 L453.31,411.64 L454.87,406.71 L456.10,401.71 L456.99,396.65 L457.55,391.57 L457.77,386.48 L457.66,381.40 L457.21,376.36 L456.44,371.38 L455.35,366.47 L453.95,361.67 L452.23,356.98 L450.23,352.44 L447.93,348.05 L445.37,343.83Z" fill="#90d050"/><path d="M470.59,433.53 L467.22,439.48 L463.46,445.21 L459.32,450.70 L454.81,455.91 L449.96,460.84 L444.79,465.44 L439.31,469.71 L433.54,473.62 L427.52,477.16 L421.26,480.30 L414.80,483.03 L408.15,485.34 L401.35,487.21 L394.42,488.63 L387.39,489.60 L380.30,490.12 L373.17,490.16 L366.04,489.74 L358.93,488.84 L351.87,487.49 L344.91,485.66 L338.06,483.38 L331.36,480.65 L324.83,477.48 L318.51,473.88 L312.42,469.86 L306.60,465.44 L301.07,460.63 L318.52,443.18 L322.87,446.88 L327.45,450.28 L332.22,453.35 L337.17,456.10 L342.27,458.52 L347.50,460.58 L352.84,462.29 L358.26,463.65 L363.74,464.64 L369.26,465.27 L374.79,465.53 L380.30,465.43 L385.78,464.98 L391.20,464.16 L396.53,463.00 L401.76,461.50 L406.86,459.66 L411.82,457.50 L416.61,455.02 L421.20,452.25 L425.60,449.19 L429.76,445.86 L433.69,442.28 L437.36,438.46 L440.76,434.42 L443.88,430.19 L446.70,425.77 L449.22,421.19Z" fill="#fdb4c1"/><path d="M301.07,460.63 L295.84,455.47 L290.96,449.95 L286.44,444.12 L282.29,437.98 L303.67,425.64 L306.96,430.41 L310.54,434.93 L314.40,439.19 L318.52,443.18Z" fill="#ebe562"/><path d="M282.29,437.98 L278.55,431.58 L275.23,424.92 L272.35,418.04 L269.91,410.98 L267.94,403.75 L266.45,396.39 L265.43,388.93 L264.91,381.40 L264.88,373.83 L265.34,366.27 L266.31,358.73 L267.76,351.25 L269.71,343.86 L272.15,336.60 L275.06,329.50 L278.44,322.59 L299.81,334.93 L297.20,340.42 L294.95,346.05 L293.08,351.79 L291.60,357.63 L290.51,363.54 L289.81,369.49 L289.50,375.45 L289.59,381.40 L290.06,387.31 L290.92,393.17 L292.15,398.93 L293.75,404.59 L295.72,410.11 L298.03,415.48 L300.69,420.66 L303.67,425.64Z" fill="#90d050"/><path d="M278.44,322.59 L282.27,315.90 L286.55,309.46 L291.24,303.30 L296.34,297.44 L301.83,291.92 L307.68,286.76 L313.87,281.98 L320.38,277.61 L327.17,273.67 L334.22,270.16 L341.51,267.13 L348.99,264.56 L356.65,262.49 L364.44,260.93 L372.33,259.87 L380.30,259.33 L380.30,284.01 L373.95,284.50 L367.66,285.39 L361.46,286.70 L355.38,288.40 L349.44,290.50 L343.67,292.97 L338.09,295.80 L332.72,298.99 L327.58,302.51 L322.71,306.34 L318.10,310.48 L313.80,314.90 L309.80,319.57 L306.13,324.48 L302.79,329.61 L299.81,334.93Z" fill="#fdb4c1"/>
<line x1="380.30" y1="337.43" x2="380.30" y2="328.73" stroke="#1a1a1a" stroke-width="1.6"/><line x1="391.97" y1="337.85" x2="393.26" y2="333.02" stroke="rgba(0,0,0,0.5)" stroke-width="1.15"/><line x1="403.40" y1="341.39" x2="407.75" y2="333.86" stroke="#1a1a1a" stroke-width="1.6"/><line x1="413.75" y1="347.95" x2="417.29" y2="344.41" stroke="rgba(0,0,0,0.5)" stroke-width="1.15"/><line x1="422.23" y1="357.19" x2="429.77" y2="352.84" stroke="#1a1a1a" stroke-width="1.6"/><line x1="428.15" y1="368.58" x2="432.98" y2="367.29" stroke="rgba(0,0,0,0.5)" stroke-width="1.15"/><line x1="430.95" y1="381.40" x2="439.65" y2="381.40" stroke="#1a1a1a" stroke-width="1.6"/><line x1="430.30" y1="394.80" x2="435.13" y2="396.09" stroke="rgba(0,0,0,0.5)" stroke-width="1.15"/><line x1="426.09" y1="407.84" x2="433.62" y2="412.19" stroke="#1a1a1a" stroke-width="1.6"/><line x1="418.47" y1="419.57" x2="422.01" y2="423.11" stroke="rgba(0,0,0,0.5)" stroke-width="1.15"/><line x1="407.85" y1="429.12" x2="412.20" y2="436.65" stroke="#1a1a1a" stroke-width="1.6"/><line x1="394.85" y1="435.70" x2="396.14" y2="440.53" stroke="rgba(0,0,0,0.5)" stroke-width="1.15"/><line x1="380.30" y1="438.72" x2="380.30" y2="447.42" stroke="#1a1a1a" stroke-width="1.6"/><line x1="365.18" y1="437.85" x2="363.88" y2="442.68" stroke="rgba(0,0,0,0.5)" stroke-width="1.15"/><line x1="350.52" y1="432.97" x2="346.17" y2="440.51" stroke="#1a1a1a" stroke-width="1.6"/><line x1="337.40" y1="424.30" x2="333.87" y2="427.83" stroke="rgba(0,0,0,0.5)" stroke-width="1.15"/><line x1="326.80" y1="412.29" x2="319.27" y2="416.64" stroke="#1a1a1a" stroke-width="1.6"/><line x1="319.55" y1="397.68" x2="314.72" y2="398.97" stroke="rgba(0,0,0,0.5)" stroke-width="1.15"/><line x1="316.30" y1="381.40" x2="307.60" y2="381.40" stroke="#1a1a1a" stroke-width="1.6"/><line x1="317.40" y1="364.55" x2="312.57" y2="363.25" stroke="rgba(0,0,0,0.5)" stroke-width="1.15"/><line x1="322.94" y1="348.29" x2="315.41" y2="343.94" stroke="#1a1a1a" stroke-width="1.6"/><line x1="332.68" y1="333.78" x2="329.15" y2="330.25" stroke="rgba(0,0,0,0.5)" stroke-width="1.15"/><line x1="346.07" y1="322.12" x2="341.72" y2="314.58" stroke="#1a1a1a" stroke-width="1.6"/><line x1="362.29" y1="314.20" x2="361.00" y2="309.37" stroke="rgba(0,0,0,0.5)" stroke-width="1.15"/><line x1="380.30" y1="310.72" x2="380.30" y2="302.02" stroke="#1a1a1a" stroke-width="1.6"/><line x1="398.88" y1="312.05" x2="400.18" y2="307.22" stroke="rgba(0,0,0,0.5)" stroke-width="1.15"/><line x1="416.75" y1="318.26" x2="421.10" y2="310.73" stroke="#1a1a1a" stroke-width="1.6"/><line x1="432.64" y1="329.06" x2="436.17" y2="325.53" stroke="rgba(0,0,0,0.5)" stroke-width="1.15"/><line x1="445.37" y1="343.83" x2="452.90" y2="339.48" stroke="#1a1a1a" stroke-width="1.6"/><line x1="453.95" y1="361.67" x2="458.78" y2="360.37" stroke="rgba(0,0,0,0.5)" stroke-width="1.15"/><line x1="457.66" y1="381.40" x2="466.36" y2="381.40" stroke="#1a1a1a" stroke-width="1.6"/><line x1="456.10" y1="401.71" x2="460.93" y2="403.00" stroke="rgba(0,0,0,0.5)" stroke-width="1.15"/><line x1="449.22" y1="421.19" x2="456.76" y2="425.54" stroke="#1a1a1a" stroke-width="1.6"/><line x1="437.36" y1="438.46" x2="440.90" y2="442.00" stroke="rgba(0,0,0,0.5)" stroke-width="1.15"/><line x1="421.20" y1="452.25" x2="425.55" y2="459.78" stroke="#1a1a1a" stroke-width="1.6"/><line x1="401.76" y1="461.50" x2="403.06" y2="466.33" stroke="rgba(0,0,0,0.5)" stroke-width="1.15"/><line x1="380.30" y1="465.43" x2="380.30" y2="474.13" stroke="#1a1a1a" stroke-width="1.6"/><line x1="358.26" y1="463.65" x2="356.97" y2="468.48" stroke="rgba(0,0,0,0.5)" stroke-width="1.15"/><line x1="337.17" y1="456.10" x2="332.82" y2="463.64" stroke="#1a1a1a" stroke-width="1.6"/><line x1="318.52" y1="443.18" x2="314.98" y2="446.72" stroke="rgba(0,0,0,0.5)" stroke-width="1.15"/><line x1="303.67" y1="425.64" x2="296.13" y2="429.99" stroke="#1a1a1a" stroke-width="1.6"/><line x1="293.75" y1="404.59" x2="288.92" y2="405.88" stroke="rgba(0,0,0,0.5)" stroke-width="1.15"/><line x1="289.59" y1="381.40" x2="280.89" y2="381.40" stroke="#1a1a1a" stroke-width="1.6"/><line x1="291.60" y1="357.63" x2="286.77" y2="356.34" stroke="rgba(0,0,0,0.5)" stroke-width="1.15"/><line x1="299.81" y1="334.93" x2="292.28" y2="330.58" stroke="#1a1a1a" stroke-width="1.6"/><line x1="313.80" y1="314.90" x2="310.26" y2="311.36" stroke="rgba(0,0,0,0.5)" stroke-width="1.15"/><line x1="332.72" y1="298.99" x2="328.37" y2="291.45" stroke="#1a1a1a" stroke-width="1.6"/><line x1="355.38" y1="288.40" x2="354.09" y2="283.57" stroke="rgba(0,0,0,0.5)" stroke-width="1.15"/>
<text x="380.45" y="326.88" text-anchor="middle" font-weight="bold" font-size="14.5" fill="#000" stroke="#000" stroke-width="0.3">0</text><text x="411.62" y="333.01" text-anchor="middle" font-weight="bold" font-size="14.5" fill="#000" stroke="#000" stroke-width="0.3">1</text><text x="436.37" y="354.71" text-anchor="middle" font-weight="bold" font-size="14.5" fill="#000" stroke="#000" stroke-width="0.3">2</text><text x="447.25" y="387.00" text-anchor="middle" font-weight="bold" font-size="14.5" fill="#000" stroke="#000" stroke-width="0.3">3</text><text x="440.23" y="421.51" text-anchor="middle" font-weight="bold" font-size="14.5" fill="#000" stroke="#000" stroke-width="0.3">4</text><text x="416.07" y="448.70" text-anchor="middle" font-weight="bold" font-size="14.5" fill="#000" stroke="#000" stroke-width="0.3">5</text><text x="380.45" y="460.48" text-anchor="middle" font-weight="bold" font-size="14.5" fill="#000" stroke="#000" stroke-width="0.3">6</text><text x="342.60" y="452.56" text-anchor="middle" font-weight="bold" font-size="14.5" fill="#000" stroke="#000" stroke-width="0.3">7</text><text x="312.96" y="425.96" text-anchor="middle" font-weight="bold" font-size="14.5" fill="#000" stroke="#000" stroke-width="0.3">8</text><text x="300.30" y="387.00" text-anchor="middle" font-weight="bold" font-size="14.5" fill="#000" stroke="#000" stroke-width="0.3">9</text><text x="309.11" y="345.81" text-anchor="middle" font-weight="bold" font-size="14.5" fill="#000" stroke="#000" stroke-width="0.3">10</text><text x="338.15" y="313.73" text-anchor="middle" font-weight="bold" font-size="14.5" fill="#000" stroke="#000" stroke-width="0.3">11</text><text x="380.45" y="300.17" text-anchor="middle" font-weight="bold" font-size="14.5" fill="#000" stroke="#000" stroke-width="0.3">12</text><text x="424.98" y="309.88" text-anchor="middle" font-weight="bold" font-size="14.5" fill="#000" stroke="#000" stroke-width="0.3">13</text><text x="459.50" y="341.36" text-anchor="middle" font-weight="bold" font-size="14.5" fill="#000" stroke="#000" stroke-width="0.3">14</text><text x="473.96" y="387.00" text-anchor="middle" font-weight="bold" font-size="14.5" fill="#000" stroke="#000" stroke-width="0.3">15</text><text x="463.36" y="434.87" text-anchor="middle" font-weight="bold" font-size="14.5" fill="#000" stroke="#000" stroke-width="0.3">16</text><text x="429.43" y="471.84" text-anchor="middle" font-weight="bold" font-size="14.5" fill="#000" stroke="#000" stroke-width="0.3">17</text><text x="380.45" y="487.19" text-anchor="middle" font-weight="bold" font-size="14.5" fill="#000" stroke="#000" stroke-width="0.3">18</text><text x="329.24" y="475.69" text-anchor="middle" font-weight="bold" font-size="14.5" fill="#000" stroke="#000" stroke-width="0.3">19</text><text x="289.83" y="439.32" text-anchor="middle" font-weight="bold" font-size="14.5" fill="#000" stroke="#000" stroke-width="0.3">20</text><text x="273.59" y="387.00" text-anchor="middle" font-weight="bold" font-size="14.5" fill="#000" stroke="#000" stroke-width="0.3">21</text><text x="285.98" y="332.46" text-anchor="middle" font-weight="bold" font-size="14.5" fill="#000" stroke="#000" stroke-width="0.3">22</text><text x="324.79" y="290.60" text-anchor="middle" font-weight="bold" font-size="14.5" fill="#000" stroke="#000" stroke-width="0.3">23</text>
<text x="373.00" y="365.50" text-anchor="middle" font-weight="bold" font-size="17.2" fill="#111" stroke="#111" stroke-width="0.2">3.1 черга</text>
<text transform="translate(376.30,384.80) scale(0.895,1)" text-anchor="middle" font-size="11" fill="#262626">при запланованому</text>
<text transform="translate(376.20,395.90) scale(0.895,1)" text-anchor="middle" font-size="11" fill="#262626">графіку відключень</text>
<text x="376.00" y="410.20" text-anchor="middle" font-weight="bold" font-size="11" fill="#111">вт 30.12.2025</text>
<text x="334.18" y="425.70" font-size="13.5" fill="#d4869b" stroke="#d4869b" stroke-width="0.35">-12</text>
<rect x="355.89" y="414.00" width="22.97" height="14.6" rx="4.5" fill="#ede755"/>
<text x="357.99" y="425.70" font-weight="bold" font-size="13.5" fill="#000">1.5</text>
<text x="381.06" y="425.70" font-size="13.5" fill="#6cae34" stroke="#6cae34" stroke-width="0.35">+10.5</text>
<path d="M634.00,312.75 L638.51,312.62 L643.03,312.79 L647.56,313.25 L652.06,314.01 L645.67,337.85 L642.74,337.46 L639.81,337.25 L636.89,337.25 L634.00,337.43Z" fill="#ebe562"/><path d="M652.06,314.01 L656.51,315.08 L660.91,316.43 L665.22,318.08 L669.44,320.02 L673.53,322.24 L677.49,324.73 L681.28,327.49 L684.90,330.50 L688.33,333.75 L691.55,337.24 L694.55,340.94 L697.31,344.85 L699.81,348.94 L702.05,353.21 L704.01,357.63 L705.69,362.19 L707.06,366.87 L708.13,371.64 L708.89,376.49 L709.33,381.40 L709.44,386.34 L709.23,391.30 L708.70,396.26 L707.84,401.18 L706.65,406.06 L705.14,410.87 L703.31,415.58 L701.16,420.18 L698.71,424.64 L695.97,428.95 L692.94,433.08 L689.63,437.03 L672.17,419.57 L674.38,416.81 L676.39,413.93 L678.19,410.93 L679.79,407.84 L681.17,404.66 L682.33,401.42 L683.28,398.13 L684.00,394.80 L684.49,391.44 L684.77,388.08 L684.82,384.73 L684.65,381.40 L684.26,378.11 L683.66,374.86 L682.86,371.68 L681.85,368.58 L680.64,365.57 L679.25,362.66 L677.68,359.86 L675.93,357.19 L674.03,354.65 L671.97,352.26 L669.78,350.02 L667.45,347.95 L665.01,346.04 L662.46,344.31 L659.82,342.76 L657.10,341.39 L654.31,340.22 L651.47,339.23 L648.58,338.45 L645.67,337.85Z" fill="#90d050"/><path d="M689.63,437.03 L686.05,440.75 L682.23,444.25 L678.17,447.50 L673.89,450.49 L669.41,453.20 L664.74,455.62 L659.91,457.74 L654.94,459.54 L649.84,461.01 L644.63,462.15 L639.35,462.95 L634.00,463.40 L628.62,463.51 L623.22,463.26 L617.84,462.65 L612.49,461.69 L607.19,460.37 L601.98,458.71 L596.87,456.69 L591.88,454.35 L587.05,451.67 L582.38,448.67 L577.91,445.36 L573.65,441.75 L591.10,424.30 L594.19,426.80 L597.41,429.09 L600.76,431.15 L604.22,432.97 L607.78,434.56 L611.42,435.90 L615.13,437.00 L618.88,437.85 L622.65,438.44 L626.44,438.79 L630.23,438.88 L634.00,438.72 L637.73,438.32 L641.41,437.68 L645.02,436.80 L648.55,435.70 L651.98,434.37 L655.30,432.82 L658.49,431.07 L661.55,429.12 L664.46,426.98 L667.20,424.67 L669.78,422.20 L672.17,419.57Z" fill="#fdb4c1"/><path d="M573.65,441.75 L569.63,437.85 L565.85,433.69 L562.35,429.28 L559.13,424.63 L580.50,412.29 L582.87,415.57 L585.43,418.67 L588.18,421.58 L591.10,424.30Z" fill="#ebe562"/><path d="M559.13,424.63 L556.21,419.76 L553.61,414.70 L551.34,409.46 L549.41,404.06 L547.84,398.54 L546.63,392.90 L545.79,387.18 L545.32,381.40 L545.23,375.58 L545.52,369.75 L546.20,363.94 L547.26,358.16 L548.71,352.45 L550.53,346.82 L552.72,341.32 L555.27,335.95 L558.18,330.74 L561.44,325.72 L565.02,320.91 L568.93,316.33 L586.38,333.78 L583.58,337.18 L581.02,340.74 L578.70,344.45 L576.64,348.29 L574.85,352.23 L573.33,356.27 L572.08,360.38 L571.10,364.55 L570.41,368.75 L569.99,372.97 L569.86,377.20 L570.00,381.40 L570.41,385.57 L571.10,389.68 L572.05,393.72 L573.25,397.68 L574.71,401.53 L576.41,405.25 L578.34,408.85 L580.50,412.29Z" fill="#90d050"/><path d="M568.93,316.33 L573.14,312.01 L577.64,307.95 L582.41,304.19 L587.43,300.74 L592.68,297.62 L598.15,294.84 L603.79,292.42 L609.61,290.36 L615.56,288.69 L621.63,287.41 L627.78,286.52 L634.00,286.04 L640.26,285.97 L646.52,286.30 L652.77,287.05 L658.97,288.21 L665.10,289.78 L671.13,291.76 L677.04,294.13 L682.79,296.89 L688.37,300.03 L693.75,303.54 L698.89,307.40 L703.79,311.61 L708.41,316.14 L712.74,320.98 L716.76,326.10 L720.44,331.49 L699.07,343.83 L696.24,339.81 L693.16,336.00 L689.86,332.41 L686.34,329.06 L682.62,325.96 L678.72,323.12 L674.66,320.55 L670.45,318.26 L666.12,316.26 L661.69,314.56 L657.17,313.15 L652.58,312.05 L647.95,311.26 L643.30,310.77 L638.64,310.59 L634.00,310.72 L629.40,311.15 L624.85,311.88 L620.37,312.90 L615.99,314.20 L611.73,315.79 L607.59,317.64 L603.60,319.76 L599.77,322.12 L596.12,324.71 L592.67,327.53 L589.42,330.56 L586.38,333.78Z" fill="#fdb4c1"/><path d="M720.44,331.49 L723.77,337.13 L726.73,342.99 L729.31,349.05 L731.49,355.28 L707.65,361.67 L705.93,356.98 L703.93,352.44 L701.63,348.05 L699.07,343.83Z" fill="#ebe562"/><path d="M731.49,355.28 L733.26,361.66 L734.61,368.15 L735.54,374.74 L736.04,381.40 L736.10,388.09 L735.72,394.79 L734.90,401.47 L733.64,408.10 L731.94,414.65 L729.81,421.09 L727.26,427.39 L724.29,433.53 L720.92,439.48 L717.16,445.21 L713.02,450.70 L708.51,455.91 L691.06,438.46 L694.46,434.42 L697.58,430.19 L700.40,425.77 L702.92,421.19 L705.13,416.48 L707.01,411.64 L708.57,406.71 L709.80,401.71 L710.69,396.65 L711.25,391.57 L711.47,386.48 L711.36,381.40 L710.91,376.36 L710.14,371.38 L709.05,366.47 L707.65,361.67Z" fill="#90d050"/><path d="M708.51,455.91 L703.66,460.84 L698.49,465.44 L693.01,469.71 L687.24,473.62 L681.22,477.16 L674.96,480.30 L668.50,483.03 L661.85,485.34 L655.05,487.21 L648.12,488.63 L641.09,489.60 L634.00,490.12 L626.87,490.16 L619.74,489.74 L612.63,488.84 L605.57,487.49 L598.61,485.66 L591.76,483.38 L585.06,480.65 L578.53,477.48 L572.21,473.88 L566.12,469.86 L560.30,465.44 L554.77,460.63 L549.54,455.47 L544.66,449.95 L540.14,444.12 L535.99,437.98 L557.37,425.64 L560.66,430.41 L564.24,434.93 L568.10,439.19 L572.22,443.18 L576.57,446.88 L581.15,450.28 L585.92,453.35 L590.87,456.10 L595.97,458.52 L601.20,460.58 L606.54,462.29 L611.96,463.65 L617.44,464.64 L622.96,465.27 L628.49,465.53 L634.00,465.43 L639.48,464.98 L644.90,464.16 L650.23,463.00 L655.46,461.50 L660.56,459.66 L665.52,457.50 L670.31,455.02 L674.90,452.25 L679.30,449.19 L683.46,445.86 L687.39,442.28 L691.06,438.46Z" fill="#fdb4c1"/><path d="M535.99,437.98 L532.25,431.58 L528.93,424.92 L526.05,418.04 L523.61,410.98 L547.45,404.59 L549.42,410.11 L551.73,415.48 L554.39,420.66 L557.37,425.64Z" fill="#ebe562"/><path d="M523.61,410.98 L521.64,403.75 L520.15,396.39 L519.13,388.93 L518.61,381.40 L518.58,373.83 L519.04,366.27 L520.01,358.73 L521.46,351.25 L523.41,343.86 L525.85,336.60 L528.76,329.50 L532.14,322.59 L535.97,315.90 L540.25,309.46 L544.94,303.30 L550.04,297.44 L567.50,314.90 L563.50,319.57 L559.83,324.48 L556.49,329.61 L553.51,334.93 L550.90,340.42 L548.65,346.05 L546.78,351.79 L545.30,357.63 L544.21,363.54 L543.51,369.49 L543.20,375.45 L543.29,381.40 L543.76,387.31 L544.62,393.17 L545.85,398.93 L547.45,404.59Z" fill="#90d050"/><path d="M550.04,297.44 L555.53,291.92 L561.38,286.76 L567.57,281.98 L574.08,277.61 L580.87,273.67 L587.92,270.16 L595.21,267.13 L602.69,264.56 L610.35,262.49 L618.14,260.93 L626.03,259.87 L634.00,259.33 L634.00,284.01 L627.65,284.50 L621.36,285.39 L615.16,286.70 L609.08,288.40 L603.14,290.50 L597.37,292.97 L591.79,295.80 L586.42,298.99 L581.28,302.51 L576.41,306.34 L571.80,310.48 L567.50,314.90Z" fill="#fdb4c1"/>
<line x1="634.00" y1="337.43" x2="634.00" y2="328.73" stroke="#1a1a1a" stroke-width="1.6"/><line x1="645.67" y1="337.85" x2="646.96" y2="333.02" stroke="rgba(0,0,0,0.5)" stroke-width="1.15"/><line x1="657.10" y1="341.39" x2="661.45" y2="333.86" stroke="#1a1a1a" stroke-width="1.6"/><line x1="667.45" y1="347.95" x2="670.99" y2="344.41" stroke="rgba(0,0,0,0.5)" stroke-width="1.15"/><line x1="675.93" y1="357.19" x2="683.47" y2="352.84" stroke="#1a1a1a" stroke-width="1.6"/><line x1="681.85" y1="368.58" x2="686.68" y2="367.29" stroke="rgba(0,0,0,0.5)" stroke-width="1.15"/><line x1="684.65" y1="381.40" x2="693.35" y2="381.40" stroke="#1a1a1a" stroke-width="1.6"/><line x1="684.00" y1="394.80" x2="688.83" y2="396.09" stroke="rgba(0,0,0,0.5)" stroke-width="1.15"/><line x1="679.79" y1="407.84" x2="687.32" y2="412.19" stroke="#1a1a1a" stroke-width="1.6"/><line x1="672.17" y1="419.57" x2="675.71" y2="423.11" stroke="rgba(0,0,0,0.5)" stroke-width="1.15"/><line x1="661.55" y1="429.12" x2="665.90" y2="436.65" stroke="#1a1a1a" stroke-width="1.6"/><line x1="648.55" y1="435.70" x2="649.84" y2="440.53" stroke="rgba(0,0,0,0.5)" stroke-width="1.15"/><line x1="634.00" y1="438.72" x2="634.00" y2="447.42" stroke="#1a1a1a" stroke-width="1.6"/><line x1="618.88" y1="437.85" x2="617.58" y2="442.68" stroke="rgba(0,0,0,0.5)" stroke-width="1.15"/><line x1="604.22" y1="432.97" x2="599.87" y2="440.51" stroke="#1a1a1a" stroke-width="1.6"/><line x1="591.10" y1="424.30" x2="587.57" y2="427.83" stroke="rgba(0,0,0,0.5)" stroke-width="1.15"/><line x1="580.50" y1="412.29" x2="572.97" y2="416.64" stroke="#1a1a1a" stroke-width="1.6"/><line x1="573.25" y1="397.68" x2="568.42" y2="398.97" stroke="rgba(0,0,0,0.5)" stroke-width="1.15"/><line x1="570.00" y1="381.40" x2="561.30" y2="381.40" stroke="#1a1a1a" stroke-width="1.6"/><line x1="571.10" y1="364.55" x2="566.27" y2="363.25" stroke="rgba(0,0,0,0.5)" stroke-width="1.15"/><line x1="576.64" y1="348.29" x2="569.11" y2="343.94" stroke="#1a1a1a" stroke-width="1.6"/><line x1="586.38" y1="333.78" x2="582.85" y2="330.25" stroke="rgba(0,0,0,0.5)" stroke-width="1.15"/><line x1="599.77" y1="322.12" x2="595.42" y2="314.58" stroke="#1a1a1a" stroke-width="1.6"/><line x1="615.99" y1="314.20" x2="614.70" y2="309.37" stroke="rgba(0,0,0,0.5)" stroke-width="1.15"/><line x1="634.00" y1="310.72" x2="634.00" y2="302.02" stroke="#1a1a1a" stroke-width="1.6"/><line x1="652.58" y1="312.05" x2="653.88" y2="307.22" stroke="rgba(0,0,0,0.5)" stroke-width="1.15"/><line x1="670.45" y1="318.26" x2="674.80" y2="310.73" stroke="#1a1a1a" stroke-width="1.6"/><line x1="686.34" y1="329.06" x2="689.87" y2="325.53" stroke="rgba(0,0,0,0.5)" stroke-width="1.15"/><line x1="699.07" y1="343.83" x2="706.60" y2="339.48" stroke="#1a1a1a" stroke-width="1.6"/><line x1="707.65" y1="361.67" x2="712.48" y2="360.37" stroke="rgba(0,0,0,0.5)" stroke-width="1.15"/><line x1="711.36" y1="381.40" x2="720.06" y2="381.40" stroke="#1a1a1a" stroke-width="1.6"/><line x1="709.80" y1="401.71" x2="714.63" y2="403.00" stroke="rgba(0,0,0,0.5)" stroke-width="1.15"/><line x1="702.92" y1="421.19" x2="710.46" y2="425.54" stroke="#1a1a1a" stroke-width="1.6"/><line x1="691.06" y1="438.46" x2="694.60" y2="442.00" stroke="rgba(0,0,0,0.5)" stroke-width="1.15"/><line x1="674.90" y1="452.25" x2="679.25" y2="459.78" stroke="#1a1a1a" stroke-width="1.6"/><line x1="655.46" y1="461.50" x2="656.76" y2="466.33" stroke="rgba(0,0,0,0.5)" stroke-width="1.15"/><line x1="634.00" y1="465.43" x2="634.00" y2="474.13" stroke="#1a1a1a" stroke-width="1.6"/><line x1="611.96" y1="463.65" x2="610.67" y2="468.48" stroke="rgba(0,0,0,0.5)" stroke-width="1.15"/><line x1="590.87" y1="456.10" x2="586.52" y2="463.64" stroke="#1a1a1a" stroke-width="1.6"/><line x1="572.22" y1="443.18" x2="568.68" y2="446.72" stroke="rgba(0,0,0,0.5)" stroke-width="1.15"/><line x1="557.37" y1="425.64" x2="549.83" y2="429.99" stroke="#1a1a1a" stroke-width="1.6"/><line x1="547.45" y1="404.59" x2="542.62" y2="405.88" stroke="rgba(0,0,0,0.5)" stroke-width="1.15"/><line x1="543.29" y1="381.40" x2="534.59" y2="381.40" stroke="#1a1a1a" stroke-width="1.6"/><line x1="545.30" y1="357.63" x2="540.47" y2="356.34" stroke="rgba(0,0,0,0.5)" stroke-width="1.15"/><line x1="553.51" y1="334.93" x2="545.98" y2="330.58" stroke="#1a1a1a" stroke-width="1.6"/><line x1="567.50" y1="314.90" x2="563.96" y2="311.36" stroke="rgba(0,0,0,0.5)" stroke-width="1.15"/><line x1="586.42" y1="298.99" x2="582.07" y2="291.45" stroke="#1a1a1a" stroke-width="1.6"/><line x1="609.08" y1="288.40" x2="607.79" y2="283.57" stroke="rgba(0,0,0,0.5)" stroke-width="1.15"/>
<text x="634.15" y="326.88" text-anchor="middle" font-weight="bold" font-size="14.5" fill="#000" stroke="#000" stroke-width="0.3">0</text><text x="665.32" y="333.01" text-anchor="middle" font-weight="bold" font-size="14.5" fill="#000" stroke="#000" stroke-width="0.3">1</text><text x="690.07" y="354.71" text-anchor="middle" font-weight="bold" font-size="14.5" fill="#000" stroke="#000" stroke-width="0.3">2</text><text x="700.95" y="387.00" text-anchor="middle" font-weight="bold" font-size="14.5" fill="#000" stroke="#000" stroke-width="0.3">3</text><text x="693.93" y="421.51" text-anchor="middle" font-weight="bold" font-size="14.5" fill="#000" stroke="#000" stroke-width="0.3">4</text><text x="669.77" y="448.70" text-anchor="middle" font-weight="bold" font-size="14.5" fill="#000" stroke="#000" stroke-width="0.3">5</text><text x="634.15" y="460.48" text-anchor="middle" font-weight="bold" font-size="14.5" fill="#000" stroke="#000" stroke-width="0.3">6</text><text x="596.30" y="452.56" text-anchor="middle" font-weight="bold" font-size="14.5" fill="#000" stroke="#000" stroke-width="0.3">7</text><text x="566.66" y="425.96" text-anchor="middle" font-weight="bold" font-size="14.5" fill="#000" stroke="#000" stroke-width="0.3">8</text><text x="554.00" y="387.00" text-anchor="middle" font-weight="bold" font-size="14.5" fill="#000" stroke="#000" stroke-width="0.3">9</text><text x="562.81" y="345.81" text-anchor="middle" font-weight="bold" font-size="14.5" fill="#000" stroke="#000" stroke-width="0.3">10</text><text x="591.85" y="313.73" text-anchor="middle" font-weight="bold" font-size="14.5" fill="#000" stroke="#000" stroke-width="0.3">11</text><text x="634.15" y="300.17" text-anchor="middle" font-weight="bold" font-size="14.5" fill="#000" stroke="#000" stroke-width="0.3">12</text><text x="678.68" y="309.88" text-anchor="middle" font-weight="bold" font-size="14.5" fill="#000" stroke="#000" stroke-width="0.3">13</text><text x="713.20" y="341.36" text-anchor="middle" font-weight="bold" font-size="14.5" fill="#000" stroke="#000" stroke-width="0.3">14</text><text x="727.66" y="387.00" text-anchor="middle" font-weight="bold" font-size="14.5" fill="#000" stroke="#000" stroke-width="0.3">15</text><text x="717.06" y="434.87" text-anchor="middle" font-weight="bold" font-size="14.5" fill="#000" stroke="#000" stroke-width="0.3">16</text><text x="683.13" y="471.84" text-anchor="middle" font-weight="bold" font-size="14.5" fill="#000" stroke="#000" stroke-width="0.3">17</text><text x="634.15" y="487.19" text-anchor="middle" font-weight="bold" font-size="14.5" fill="#000" stroke="#000" stroke-width="0.3">18</text><text x="582.94" y="475.69" text-anchor="middle" font-weight="bold" font-size="14.5" fill="#000" stroke="#000" stroke-width="0.3">19</text><text x="543.53" y="439.32" text-anchor="middle" font-weight="bold" font-size="14.5" fill="#000" stroke="#000" stroke-width="0.3">20</text><text x="527.29" y="387.00" text-anchor="middle" font-weight="bold" font-size="14.5" fill="#000" stroke="#000" stroke-width="0.3">21</text><text x="539.68" y="332.46" text-anchor="middle" font-weight="bold" font-size="14.5" fill="#000" stroke="#000" stroke-width="0.3">22</text><text x="578.49" y="290.60" text-anchor="middle" font-weight="bold" font-size="14.5" fill="#000" stroke="#000" stroke-width="0.3">23</text>
<text x="626.70" y="365.50" text-anchor="middle" font-weight="bold" font-size="17.2" fill="#111" stroke="#111" stroke-width="0.2">3.2 черга</text>
<text transform="translate(630.00,384.80) scale(0.895,1)" text-anchor="middle" font-size="11" fill="#262626">при запланованому</text>
<text transform="translate(629.90,395.90) scale(0.895,1)" text-anchor="middle" font-size="11" fill="#262626">графіку відключень</text>
<text x="629.70" y="410.20" text-anchor="middle" font-weight="bold" font-size="11" fill="#111">вт 30.12.2025</text>
<text x="587.88" y="425.70" font-size="13.5" fill="#d4869b" stroke="#d4869b" stroke-width="0.35">-11.5</text>
<rect x="620.85" y="414.00" width="11.71" height="14.6" rx="4.5" fill="#ede755"/>
<text x="622.95" y="425.70" font-weight="bold" font-size="13.5" fill="#000">2</text>
<text x="634.76" y="425.70" font-size="13.5" fill="#6cae34" stroke="#6cae34" stroke-width="0.35">+10.5</text>
<path d="M126.60,568.75 L131.11,568.62 L135.63,568.79 L140.16,569.25 L144.66,570.01 L138.27,593.85 L135.34,593.46 L132.41,593.25 L129.49,593.25 L126.60,593.43Z" fill="#fdb4c1"/><path d="M144.66,570.01 L149.11,571.08 L153.51,572.43 L157.82,574.08 L162.04,576.02 L149.70,597.39 L146.91,596.22 L144.07,595.23 L141.18,594.45 L138.27,593.85Z" fill="#ebe562"/><path d="M162.04,576.02 L166.13,578.24 L170.09,580.73 L173.88,583.49 L177.50,586.50 L180.93,589.75 L184.15,593.24 L187.15,596.94 L189.91,600.85 L192.41,604.94 L194.65,609.21 L196.61,613.63 L198.29,618.19 L199.66,622.87 L200.73,627.64 L201.49,632.49 L201.93,637.40 L202.04,642.34 L201.83,647.30 L201.30,652.26 L200.44,657.18 L199.25,662.06 L197.74,666.87 L195.91,671.58 L193.76,676.18 L191.31,680.64 L188.57,684.95 L185.54,689.08 L182.23,693.03 L178.65,696.75 L174.83,700.25 L170.77,703.50 L166.49,706.49 L154.15,685.12 L157.06,682.98 L159.80,680.67 L162.38,678.20 L164.77,675.57 L166.98,672.81 L168.99,669.93 L170.79,666.93 L172.39,663.84 L173.77,660.66 L174.93,657.42 L175.88,654.13 L176.60,650.80 L177.09,647.44 L177.37,644.08 L177.42,640.73 L177.25,637.40 L176.86,634.11 L176.26,630.86 L175.46,627.68 L174.45,624.58 L173.24,621.57 L171.85,618.66 L170.28,615.86 L168.53,613.19 L166.63,610.65 L164.57,608.26 L162.38,606.02 L160.05,603.95 L157.61,602.04 L155.06,600.31 L152.42,598.76 L149.70,597.39Z" fill="#90d050"/><path d="M166.49,706.49 L162.01,709.20 L157.34,711.62 L152.51,713.74 L147.54,715.54 L142.44,717.01 L137.23,718.15 L131.95,718.95 L126.60,719.40 L121.22,719.51 L115.82,719.26 L110.44,718.65 L105.09,717.69 L99.79,716.37 L94.58,714.71 L89.47,712.69 L84.48,710.35 L79.65,707.67 L74.98,704.67 L70.51,701.36 L66.25,697.75 L62.23,693.85 L58.45,689.69 L54.95,685.28 L51.73,680.63 L48.81,675.76 L46.21,670.70 L43.94,665.46 L42.01,660.06 L65.85,653.68 L67.31,657.53 L69.01,661.25 L70.94,664.85 L73.10,668.29 L75.47,671.57 L78.03,674.67 L80.78,677.58 L83.70,680.30 L86.79,682.80 L90.01,685.09 L93.36,687.15 L96.82,688.97 L100.38,690.56 L104.02,691.90 L107.73,693.00 L111.48,693.85 L115.25,694.44 L119.04,694.79 L122.83,694.88 L126.60,694.73 L130.33,694.32 L134.01,693.68 L137.62,692.80 L141.15,691.70 L144.58,690.37 L147.90,688.82 L151.09,687.07 L154.15,685.12Z" fill="#fdb4c1"/><path d="M42.01,660.06 L40.44,654.54 L39.23,648.90 L38.39,643.18 L37.92,637.40 L62.60,637.40 L63.01,641.57 L63.70,645.68 L64.65,649.72 L65.85,653.68Z" fill="#ebe562"/><path d="M37.92,637.40 L37.83,631.58 L38.12,625.75 L38.80,619.94 L39.86,614.16 L41.31,608.45 L43.13,602.82 L45.32,597.32 L47.87,591.95 L50.78,586.74 L54.04,581.72 L57.62,576.91 L61.53,572.33 L65.74,568.01 L70.24,563.95 L75.01,560.19 L80.03,556.74 L92.37,578.12 L88.72,580.71 L85.27,583.53 L82.02,586.56 L78.98,589.78 L76.18,593.18 L73.62,596.74 L71.30,600.45 L69.24,604.29 L67.45,608.23 L65.93,612.27 L64.68,616.38 L63.70,620.55 L63.01,624.75 L62.59,628.97 L62.46,633.20 L62.60,637.40Z" fill="#90d050"/><path d="M80.03,556.74 L85.28,553.62 L90.75,550.84 L96.39,548.42 L102.21,546.36 L108.16,544.69 L114.23,543.41 L120.38,542.52 L126.60,542.04 L132.86,541.97 L139.12,542.30 L145.37,543.05 L151.57,544.21 L157.70,545.78 L163.73,547.76 L169.64,550.13 L175.39,552.89 L180.97,556.03 L186.35,559.54 L191.49,563.40 L196.39,567.61 L201.01,572.14 L205.34,576.98 L209.36,582.10 L213.04,587.49 L216.37,593.13 L219.33,598.99 L221.91,605.05 L224.09,611.28 L200.25,617.67 L198.53,612.98 L196.53,608.44 L194.23,604.05 L191.67,599.83 L188.84,595.81 L185.76,592.00 L182.46,588.41 L178.94,585.06 L175.22,581.96 L171.32,579.12 L167.26,576.55 L163.05,574.26 L158.72,572.26 L154.29,570.56 L149.77,569.15 L145.18,568.05 L140.55,567.26 L135.90,566.77 L131.24,566.59 L126.60,566.72 L122.00,567.15 L117.45,567.88 L112.97,568.90 L108.59,570.20 L104.33,571.79 L100.19,573.64 L96.20,575.76 L92.37,578.12Z" fill="#fdb4c1"/><path d="M224.09,611.28 L225.86,617.66 L227.21,624.15 L228.14,630.74 L228.64,637.40 L203.96,637.40 L203.51,632.36 L202.74,627.38 L201.65,622.47 L200.25,617.67Z" fill="#ebe562"/><path d="M228.64,637.40 L228.70,644.09 L228.32,650.79 L227.50,657.47 L226.24,664.10 L224.54,670.65 L222.41,677.09 L219.86,683.39 L216.89,689.53 L213.52,695.48 L209.76,701.21 L205.62,706.70 L201.11,711.91 L196.26,716.84 L191.09,721.44 L185.61,725.71 L179.84,729.62 L167.50,708.25 L171.90,705.19 L176.06,701.86 L179.99,698.28 L183.66,694.46 L187.06,690.42 L190.18,686.19 L193.00,681.77 L195.52,677.19 L197.73,672.48 L199.61,667.64 L201.17,662.71 L202.40,657.71 L203.29,652.65 L203.85,647.57 L204.07,642.48 L203.96,637.40Z" fill="#90d050"/><path d="M179.84,729.62 L173.82,733.16 L167.56,736.30 L161.10,739.03 L154.45,741.34 L147.65,743.21 L140.72,744.63 L133.69,745.60 L126.60,746.12 L119.47,746.16 L112.34,745.74 L105.23,744.84 L98.17,743.49 L91.21,741.66 L84.36,739.38 L77.66,736.65 L71.13,733.48 L64.81,729.88 L58.72,725.86 L52.90,721.44 L47.37,716.63 L42.14,711.47 L37.26,705.95 L32.74,700.12 L28.59,693.98 L49.97,681.64 L53.26,686.41 L56.84,690.93 L60.70,695.19 L64.82,699.18 L69.17,702.88 L73.75,706.28 L78.52,709.35 L83.47,712.10 L88.57,714.52 L93.80,716.58 L99.14,718.29 L104.56,719.65 L110.04,720.64 L115.56,721.27 L121.09,721.53 L126.60,721.43 L132.08,720.98 L137.50,720.16 L142.83,719.00 L148.06,717.50 L153.16,715.66 L158.12,713.50 L162.91,711.02 L167.50,708.25Z" fill="#fdb4c1"/><path d="M28.59,693.98 L24.85,687.58 L21.53,680.92 L18.65,674.04 L16.21,666.98 L40.05,660.59 L42.02,666.11 L44.33,671.48 L46.99,676.66 L49.97,681.64Z" fill="#ebe562"/><path d="M16.21,666.98 L14.24,659.75 L12.75,652.39 L11.73,644.93 L11.21,637.40 L11.18,629.83 L11.64,622.27 L12.61,614.73 L14.06,607.25 L16.01,599.86 L18.45,592.60 L21.36,585.50 L24.74,578.59 L28.57,571.90 L32.85,565.46 L37.54,559.30 L42.64,553.44 L48.13,547.92 L53.98,542.76 L60.17,537.98 L66.68,533.61 L79.02,554.99 L73.88,558.51 L69.01,562.34 L64.40,566.48 L60.10,570.90 L56.10,575.57 L52.43,580.48 L49.09,585.61 L46.11,590.93 L43.50,596.42 L41.25,602.05 L39.38,607.79 L37.90,613.63 L36.81,619.54 L36.11,625.49 L35.80,631.45 L35.89,637.40 L36.36,643.31 L37.22,649.17 L38.45,654.93 L40.05,660.59Z" fill="#90d050"/><path d="M66.68,533.61 L73.47,529.67 L80.52,526.16 L87.81,523.13 L95.29,520.56 L102.95,518.49 L110.74,516.93 L118.63,515.87 L126.60,515.33 L126.60,540.01 L120.25,540.50 L113.96,541.39 L107.76,542.70 L101.68,544.40 L95.74,546.50 L89.97,548.97 L84.39,551.80 L79.02,554.99Z" fill="#fdb4c1"/>
<line x1="126.60" y1="593.43" x2="126.60" y2="584.73" stroke="#1a1a1a" stroke-width="1.6"/><line x1="138.27" y1="593.85" x2="139.56" y2="589.02" stroke="rgba(0,0,0,0.5)" stroke-width="1.15"/><line x1="149.70" y1="597.39" x2="154.05" y2="589.86" stroke="#1a1a1a" stroke-width="1.6"/><line x1="160.05" y1="603.95" x2="163.59" y2="600.41" stroke="rgba(0,0,0,0.5)" stroke-width="1.15"/><line x1="168.53" y1="613.19" x2="176.07" y2="608.84" stroke="#1a1a1a" stroke-width="1.6"/><line x1="174.45" y1="624.58" x2="179.28" y2="623.29" stroke="rgba(0,0,0,0.5)" stroke-width="1.15"/><line x1="177.25" y1="637.40" x2="185.95" y2="637.40" stroke="#1a1a1a" stroke-width="1.6"/><line x1="176.60" y1="650.80" x2="181.43" y2="652.09" stroke="rgba(0,0,0,0.5)" stroke-width="1.15"/><line x1="172.39" y1="663.84" x2="179.92" y2="668.19" stroke="#1a1a1a" stroke-width="1.6"/><line x1="164.77" y1="675.57" x2="168.31" y2="679.11" stroke="rgba(0,0,0,0.5)" stroke-width="1.15"/><line x1="154.15" y1="685.12" x2="158.50" y2="692.65" stroke="#1a1a1a" stroke-width="1.6"/><line x1="141.15" y1="691.70" x2="142.44" y2="696.53" stroke="rgba(0,0,0,0.5)" stroke-width="1.15"/><line x1="126.60" y1="694.73" x2="126.60" y2="703.42" stroke="#1a1a1a" stroke-width="1.6"/><line x1="111.48" y1="693.85" x2="110.18" y2="698.68" stroke="rgba(0,0,0,0.5)" stroke-width="1.15"/><line x1="96.82" y1="688.97" x2="92.47" y2="696.51" stroke="#1a1a1a" stroke-width="1.6"/><line x1="83.70" y1="680.30" x2="80.17" y2="683.83" stroke="rgba(0,0,0,0.5)" stroke-width="1.15"/><line x1="73.10" y1="668.29" x2="65.57" y2="672.64" stroke="#1a1a1a" stroke-width="1.6"/><line x1="65.85" y1="653.68" x2="61.02" y2="654.97" stroke="rgba(0,0,0,0.5)" stroke-width="1.15"/><line x1="62.60" y1="637.40" x2="53.90" y2="637.40" stroke="#1a1a1a" stroke-width="1.6"/><line x1="63.70" y1="620.55" x2="58.87" y2="619.25" stroke="rgba(0,0,0,0.5)" stroke-width="1.15"/><line x1="69.24" y1="604.29" x2="61.71" y2="599.94" stroke="#1a1a1a" stroke-width="1.6"/><line x1="78.98" y1="589.78" x2="75.45" y2="586.25" stroke="rgba(0,0,0,0.5)" stroke-width="1.15"/><line x1="92.37" y1="578.12" x2="88.02" y2="570.58" stroke="#1a1a1a" stroke-width="1.6"/><line x1="108.59" y1="570.20" x2="107.30" y2="565.37" stroke="rgba(0,0,0,0.5)" stroke-width="1.15"/><line x1="126.60" y1="566.72" x2="126.60" y2="558.02" stroke="#1a1a1a" stroke-width="1.6"/><line x1="145.18" y1="568.05" x2="146.48" y2="563.22" stroke="rgba(0,0,0,0.5)" stroke-width="1.15"/><line x1="163.05" y1="574.26" x2="167.40" y2="566.73" stroke="#1a1a1a" stroke-width="1.6"/><line x1="178.94" y1="585.06" x2="182.47" y2="581.53" stroke="rgba(0,0,0,0.5)" stroke-width="1.15"/><line x1="191.67" y1="599.83" x2="199.20" y2="595.48" stroke="#1a1a1a" stroke-width="1.6"/><line x1="200.25" y1="617.67" x2="205.08" y2="616.37" stroke="rgba(0,0,0,0.5)" stroke-width="1.15"/><line x1="203.96" y1="637.40" x2="212.66" y2="637.40" stroke="#1a1a1a" stroke-width="1.6"/><line x1="202.40" y1="657.71" x2="207.23" y2="659.00" stroke="rgba(0,0,0,0.5)" stroke-width="1.15"/><line x1="195.52" y1="677.19" x2="203.06" y2="681.54" stroke="#1a1a1a" stroke-width="1.6"/><line x1="183.66" y1="694.46" x2="187.20" y2="698.00" stroke="rgba(0,0,0,0.5)" stroke-width="1.15"/><line x1="167.50" y1="708.25" x2="171.85" y2="715.78" stroke="#1a1a1a" stroke-width="1.6"/><line x1="148.06" y1="717.50" x2="149.36" y2="722.33" stroke="rgba(0,0,0,0.5)" stroke-width="1.15"/><line x1="126.60" y1="721.43" x2="126.60" y2="730.13" stroke="#1a1a1a" stroke-width="1.6"/><line x1="104.56" y1="719.65" x2="103.27" y2="724.48" stroke="rgba(0,0,0,0.5)" stroke-width="1.15"/><line x1="83.47" y1="712.10" x2="79.12" y2="719.64" stroke="#1a1a1a" stroke-width="1.6"/><line x1="64.82" y1="699.18" x2="61.28" y2="702.72" stroke="rgba(0,0,0,0.5)" stroke-width="1.15"/><line x1="49.97" y1="681.64" x2="42.43" y2="685.99" stroke="#1a1a1a" stroke-width="1.6"/><line x1="40.05" y1="660.59" x2="35.22" y2="661.88" stroke="rgba(0,0,0,0.5)" stroke-width="1.15"/><line x1="35.89" y1="637.40" x2="27.19" y2="637.40" stroke="#1a1a1a" stroke-width="1.6"/><line x1="37.90" y1="613.63" x2="33.07" y2="612.34" stroke="rgba(0,0,0,0.5)" stroke-width="1.15"/><line x1="46.11" y1="590.93" x2="38.58" y2="586.58" stroke="#1a1a1a" stroke-width="1.6"/><line x1="60.10" y1="570.90" x2="56.56" y2="567.36" stroke="rgba(0,0,0,0.5)" stroke-width="1.15"/><line x1="79.02" y1="554.99" x2="74.67" y2="547.45" stroke="#1a1a1a" stroke-width="1.6"/><line x1="101.68" y1="544.40" x2="100.39" y2="539.57" stroke="rgba(0,0,0,0.5)" stroke-width="1.15"/>
<text x="126.75" y="582.88" text-anchor="middle" font-weight="bold" font-size="14.5" fill="#000" stroke="#000" stroke-width="0.3">0</text><text x="157.92" y="589.01" text-anchor="middle" font-weight="bold" font-size="14.5" fill="#000" stroke="#000" stroke-width="0.3">1</text><text x="182.67" y="610.71" text-anchor="middle" font-weight="bold" font-size="14.5" fill="#000" stroke="#000" stroke-width="0.3">2</text><text x="193.55" y="643.00" text-anchor="middle" font-weight="bold" font-size="14.5" fill="#000" stroke="#000" stroke-width="0.3">3</text><text x="186.53" y="677.51" text-anchor="middle" font-weight="bold" font-size="14.5" fill="#000" stroke="#000" stroke-width="0.3">4</text><text x="162.37" y="704.70" text-anchor="middle" font-weight="bold" font-size="14.5" fill="#000" stroke="#000" stroke-width="0.3">5</text><text x="126.75" y="716.48" text-anchor="middle" font-weight="bold" font-size="14.5" fill="#000" stroke="#000" stroke-width="0.3">6</text><text x="88.90" y="708.56" text-anchor="middle" font-weight="bold" font-size="14.5" fill="#000" stroke="#000" stroke-width="0.3">7</text><text x="59.26" y="681.96" text-anchor="middle" font-weight="bold" font-size="14.5" fill="#000" stroke="#000" stroke-width="0.3">8</text><text x="46.60" y="643.00" text-anchor="middle" font-weight="bold" font-size="14.5" fill="#000" stroke="#000" stroke-width="0.3">9</text><text x="55.41" y="601.81" text-anchor="middle" font-weight="bold" font-size="14.5" fill="#000" stroke="#000" stroke-width="0.3">10</text><text x="84.45" y="569.73" text-anchor="middle" font-weight="bold" font-size="14.5" fill="#000" stroke="#000" stroke-width="0.3">11</text><text x="126.75" y="556.17" text-anchor="middle" font-weight="bold" font-size="14.5" fill="#000" stroke="#000" stroke-width="0.3">12</text><text x="171.28" y="565.88" text-anchor="middle" font-weight="bold" font-size="14.5" fill="#000" stroke="#000" stroke-width="0.3">13</text><text x="205.80" y="597.36" text-anchor="middle" font-weight="bold" font-size="14.5" fill="#000" stroke="#000" stroke-width="0.3">14</text><text x="220.26" y="643.00" text-anchor="middle" font-weight="bold" font-size="14.5" fill="#000" stroke="#000" stroke-width="0.3">15</text><text x="209.66" y="690.87" text-anchor="middle" font-weight="bold" font-size="14.5" fill="#000" stroke="#000" stroke-width="0.3">16</text><text x="175.73" y="727.84" text-anchor="middle" font-weight="bold" font-size="14.5" fill="#000" stroke="#000" stroke-width="0.3">17</text><text x="126.75" y="743.19" text-anchor="middle" font-weight="bold" font-size="14.5" fill="#000" stroke="#000" stroke-width="0.3">18</text><text x="75.54" y="731.69" text-anchor="middle" font-weight="bold" font-size="14.5" fill="#000" stroke="#000" stroke-width="0.3">19</text><text x="36.13" y="695.32" text-anchor="middle" font-weight="bold" font-size="14.5" fill="#000" stroke="#000" stroke-width="0.3">20</text><text x="19.89" y="643.00" text-anchor="middle" font-weight="bold" font-size="14.5" fill="#000" stroke="#000" stroke-width="0.3">21</text><text x="32.28" y="588.46" text-anchor="middle" font-weight="bold" font-size="14.5" fill="#000" stroke="#000" stroke-width="0.3">22</text><text x="71.09" y="546.60" text-anchor="middle" font-weight="bold" font-size="14.5" fill="#000" stroke="#000" stroke-width="0.3">23</text>
<text x="119.30" y="621.50" text-anchor="middle" font-weight="bold" font-size="17.2" fill="#111" stroke="#111" stroke-width="0.2">4.1 черга</text>
<text transform="translate(122.60,640.80) scale(0.895,1)" text-anchor="middle" font-size="11" fill="#262626">при запланованому</text>
<text transform="translate(122.50,651.90) scale(0.895,1)" text-anchor="middle" font-size="11" fill="#262626">графіку відключень</text>
<text x="122.30" y="666.20" text-anchor="middle" font-weight="bold" font-size="11" fill="#111">вт 30.12.2025</text>
<text x="80.48" y="681.70" font-size="13.5" fill="#d4869b" stroke="#d4869b" stroke-width="0.35">-11.5</text>
<rect x="113.45" y="670.00" width="11.71" height="14.6" rx="4.5" fill="#ede755"/>
<text x="115.55" y="681.70" font-weight="bold" font-size="13.5" fill="#000">2</text>
<text x="127.36" y="681.70" font-size="13.5" fill="#6cae34" stroke="#6cae34" stroke-width="0.35">+10.5</text>
<path d="M380.30,568.75 L384.81,568.62 L389.33,568.79 L393.86,569.25 L398.36,570.01 L402.81,571.08 L407.21,572.43 L411.52,574.08 L415.74,576.02 L403.40,597.39 L400.61,596.22 L397.77,595.23 L394.88,594.45 L391.97,593.85 L389.04,593.46 L386.11,593.25 L383.19,593.25 L380.30,593.43Z" fill="#fdb4c1"/><path d="M415.74,576.02 L419.83,578.24 L423.79,580.73 L427.58,583.49 L431.20,586.50 L413.75,603.95 L411.31,602.04 L408.76,600.31 L406.12,598.76 L403.40,597.39Z" fill="#ebe562"/><path d="M431.20,586.50 L434.63,589.75 L437.85,593.24 L440.85,596.94 L443.61,600.85 L446.11,604.94 L448.35,609.21 L450.31,613.63 L451.99,618.19 L453.36,622.87 L454.43,627.64 L455.19,632.49 L455.63,637.40 L455.74,642.34 L455.53,647.30 L455.00,652.26 L454.14,657.18 L452.95,662.06 L451.44,666.87 L449.61,671.58 L447.46,676.18 L445.01,680.64 L442.27,684.95 L439.24,689.08 L435.93,693.03 L432.35,696.75 L428.53,700.25 L424.47,703.50 L420.19,706.49 L415.71,709.20 L411.04,711.62 L406.21,713.74 L401.24,715.54 L394.85,691.70 L398.28,690.37 L401.60,688.82 L404.79,687.07 L407.85,685.12 L410.76,682.98 L413.50,680.67 L416.08,678.20 L418.47,675.57 L420.68,672.81 L422.69,669.93 L424.49,666.93 L426.09,663.84 L427.47,660.66 L428.63,657.42 L429.58,654.13 L430.30,650.80 L430.79,647.44 L431.07,644.08 L431.12,640.73 L430.95,637.40 L430.56,634.11 L429.96,630.86 L429.16,627.68 L428.15,624.58 L426.94,621.57 L425.55,618.66 L423.98,615.86 L422.23,613.19 L420.33,610.65 L418.27,608.26 L416.08,606.02 L413.75,603.95Z" fill="#90d050"/><path d="M401.24,715.54 L396.14,717.01 L390.93,718.15 L385.65,718.95 L380.30,719.40 L374.92,719.51 L369.52,719.26 L364.14,718.65 L358.79,717.69 L353.49,716.37 L348.28,714.71 L343.17,712.69 L338.18,710.35 L333.35,707.67 L328.68,704.67 L324.21,701.36 L319.95,697.75 L315.93,693.85 L312.15,689.69 L308.65,685.28 L305.43,680.63 L302.51,675.76 L299.91,670.70 L297.64,665.46 L295.71,660.06 L294.14,654.54 L292.93,648.90 L292.09,643.18 L291.62,637.40 L316.30,637.40 L316.71,641.57 L317.40,645.68 L318.35,649.72 L319.55,653.68 L321.01,657.53 L322.71,661.25 L324.64,664.85 L326.80,668.29 L329.17,671.57 L331.73,674.67 L334.48,677.58 L337.40,680.30 L340.49,682.80 L343.71,685.09 L347.06,687.15 L350.52,688.97 L354.08,690.56 L357.72,691.90 L361.43,693.00 L365.18,693.85 L368.95,694.44 L372.74,694.79 L376.53,694.88 L380.30,694.73 L384.03,694.32 L387.71,693.68 L391.32,692.80 L394.85,691.70Z" fill="#fdb4c1"/><path d="M291.62,637.40 L291.53,631.58 L291.82,625.75 L292.50,619.94 L293.56,614.16 L317.40,620.55 L316.71,624.75 L316.29,628.97 L316.16,633.20 L316.30,637.40Z" fill="#ebe562"/><path d="M293.56,614.16 L295.01,608.45 L296.83,602.82 L299.02,597.32 L301.57,591.95 L304.48,586.74 L307.74,581.72 L311.32,576.91 L315.23,572.33 L319.44,568.01 L323.94,563.95 L328.71,560.19 L333.73,556.74 L338.98,553.62 L344.45,550.84 L350.09,548.42 L355.91,546.36 L362.29,570.20 L358.03,571.79 L353.89,573.64 L349.90,575.76 L346.07,578.12 L342.42,580.71 L338.97,583.53 L335.72,586.56 L332.68,589.78 L329.88,593.18 L327.32,596.74 L325.00,600.45 L322.94,604.29 L321.15,608.23 L319.63,612.27 L318.38,616.38 L317.40,620.55Z" fill="#90d050"/><path d="M355.91,546.36 L361.86,544.69 L367.93,543.41 L374.08,542.52 L380.30,542.04 L386.56,541.97 L392.82,542.30 L399.07,543.05 L405.27,544.21 L411.40,545.78 L417.43,547.76 L423.34,550.13 L429.09,552.89 L434.67,556.03 L440.05,559.54 L445.19,563.40 L450.09,567.61 L454.71,572.14 L459.04,576.98 L463.06,582.10 L466.74,587.49 L470.07,593.13 L473.03,598.99 L475.61,605.05 L477.79,611.28 L479.56,617.66 L480.91,624.15 L481.84,630.74 L482.34,637.40 L457.66,637.40 L457.21,632.36 L456.44,627.38 L455.35,622.47 L453.95,617.67 L452.23,612.98 L450.23,608.44 L447.93,604.05 L445.37,599.83 L442.54,595.81 L439.46,592.00 L436.16,588.41 L432.64,585.06 L428.92,581.96 L425.02,579.12 L420.96,576.55 L416.75,574.26 L412.42,572.26 L407.99,570.56 L403.47,569.15 L398.88,568.05 L394.25,567.26 L389.60,566.77 L384.94,566.59 L380.30,566.72 L375.70,567.15 L371.15,567.88 L366.67,568.90 L362.29,570.20Z" fill="#fdb4c1"/><path d="M482.34,637.40 L482.40,644.09 L482.02,650.79 L481.20,657.47 L479.94,664.10 L456.10,657.71 L456.99,652.65 L457.55,647.57 L457.77,642.48 L457.66,637.40Z" fill="#ebe562"/><path d="M479.94,664.10 L478.24,670.65 L476.11,677.09 L473.56,683.39 L470.59,689.53 L467.22,695.48 L463.46,701.21 L459.32,706.70 L454.81,711.91 L449.96,716.84 L444.79,721.44 L439.31,725.71 L433.54,729.62 L427.52,733.16 L421.26,736.30 L414.80,739.03 L408.15,741.34 L401.76,717.50 L406.86,715.66 L411.82,713.50 L416.61,711.02 L421.20,708.25 L425.60,705.19 L429.76,701.86 L433.69,698.28 L437.36,694.46 L440.76,690.42 L443.88,686.19 L446.70,681.77 L449.22,677.19 L451.43,672.48 L453.31,667.64 L454.87,662.71 L456.10,657.71Z" fill="#90d050"/><path d="M408.15,741.34 L401.35,743.21 L394.42,744.63 L387.39,745.60 L380.30,746.12 L373.17,746.16 L366.04,745.74 L358.93,744.84 L351.87,743.49 L344.91,741.66 L338.06,739.38 L331.36,736.65 L324.83,733.48 L318.51,729.88 L312.42,725.86 L306.60,721.44 L301.07,716.63 L295.84,711.47 L290.96,705.95 L286.44,700.12 L282.29,693.98 L278.55,687.58 L275.23,680.92 L272.35,674.04 L269.91,666.98 L293.75,660.59 L295.72,666.11 L298.03,671.48 L300.69,676.66 L303.67,681.64 L306.96,686.41 L310.54,690.93 L314.40,695.19 L318.52,699.18 L322.87,702.88 L327.45,706.28 L332.22,709.35 L337.17,712.10 L342.27,714.52 L347.50,716.58 L352.84,718.29 L358.26,719.65 L363.74,720.64 L369.26,721.27 L374.79,721.53 L380.30,721.43 L385.78,720.98 L391.20,720.16 L396.53,719.00 L401.76,717.50Z" fill="#fdb4c1"/><path d="M269.91,666.98 L267.94,659.75 L266.45,652.39 L265.43,644.93 L264.91,637.40 L289.59,637.40 L290.06,643.31 L290.92,649.17 L292.15,654.93 L293.75,660.59Z" fill="#ebe562"/><path d="M264.91,637.40 L264.88,629.83 L265.34,622.27 L266.31,614.73 L267.76,607.25 L269.71,599.86 L272.15,592.60 L275.06,585.50 L278.44,578.59 L282.27,571.90 L286.55,565.46 L291.24,559.30 L296.34,553.44 L301.83,547.92 L307.68,542.76 L313.87,537.98 L320.38,533.61 L327.17,529.67 L334.22,526.16 L341.51,523.13 L348.99,520.56 L355.38,544.40 L349.44,546.50 L343.67,548.97 L338.09,551.80 L332.72,554.99 L327.58,558.51 L322.71,562.34 L318.10,566.48 L313.80,570.90 L309.80,575.57 L306.13,580.48 L302.79,585.61 L299.81,590.93 L297.20,596.42 L294.95,602.05 L293.08,607.79 L291.60,613.63 L290.51,619.54 L289.81,625.49 L289.50,631.45 L289.59,637.40Z" fill="#90d050"/><path d="M348.99,520.56 L356.65,518.49 L364.44,516.93 L372.33,515.87 L380.30,515.33 L380.30,540.01 L373.95,540.50 L367.66,541.39 L361.46,542.70 L355.38,544.40Z" fill="#fdb4c1"/>
<line x1="380.30" y1="593.43" x2="380.30" y2="584.73" stroke="#1a1a1a" stroke-width="1.6"/><line x1="391.97" y1="593.85" x2="393.26" y2="589.02" stroke="rgba(0,0,0,0.5)" stroke-width="1.15"/><line x1="403.40" y1="597.39" x2="407.75" y2="589.86" stroke="#1a1a1a" stroke-width="1.6"/><line x1="413.75" y1="603.95" x2="417.29" y2="600.41" stroke="rgba(0,0,0,0.5)" stroke-width="1.15"/><line x1="422.23" y1="613.19" x2="429.77" y2="608.84" stroke="#1a1a1a" stroke-width="1.6"/><line x1="428.15" y1="624.58" x2="432.98" y2="623.29" stroke="rgba(0,0,0,0.5)" stroke-width="1.15"/><line x1="430.95" y1="637.40" x2="439.65" y2="637.40" stroke="#1a1a1a" stroke-width="1.6"/><line x1="430.30" y1="650.80" x2="435.13" y2="652.09" stroke="rgba(0,0,0,0.5)" stroke-width="1.15"/><line x1="426.09" y1="663.84" x2="433.62" y2="668.19" stroke="#1a1a1a" stroke-width="1.6"/><line x1="418.47" y1="675.57" x2="422.01" y2="679.11" stroke="rgba(0,0,0,0.5)" stroke-width="1.15"/><line x1="407.85" y1="685.12" x2="412.20" y2="692.65" stroke="#1a1a1a" stroke-width="1.6"/><line x1="394.85" y1="691.70" x2="396.14" y2="696.53" stroke="rgba(0,0,0,0.5)" stroke-width="1.15"/><line x1="380.30" y1="694.73" x2="380.30" y2="703.42" stroke="#1a1a1a" stroke-width="1.6"/><line x1="365.18" y1="693.85" x2="363.88" y2="698.68" stroke="rgba(0,0,0,0.5)" stroke-width="1.15"/><line x1="350.52" y1="688.97" x2="346.17" y2="696.51" stroke="#1a1a1a" stroke-width="1.6"/><line x1="337.40" y1="680.30" x2="333.87" y2="683.83" stroke="rgba(0,0,0,0.5)" stroke-width="1.15"/><line x1="326.80" y1="668.29" x2="319.27" y2="672.64" stroke="#1a1a1a" stroke-width="1.6"/><line x1="319.55" y1="653.68" x2="314.72" y2="654.97" stroke="rgba(0,0,0,0.5)" stroke-width="1.15"/><line x1="316.30" y1="637.40" x2="307.60" y2="637.40" stroke="#1a1a1a" stroke-width="1.6"/><line x1="317.40" y1="620.55" x2="312.57" y2="619.25" stroke="rgba(0,0,0,0.5)" stroke-width="1.15"/><line x1="322.94" y1="604.29" x2="315.41" y2="599.94" stroke="#1a1a1a" stroke-width="1.6"/><line x1="332.68" y1="589.78" x2="329.15" y2="586.25" stroke="rgba(0,0,0,0.5)" stroke-width="1.15"/><line x1="346.07" y1="578.12" x2="341.72" y2="570.58" stroke="#1a1a1a" stroke-width="1.6"/><line x1="362.29" y1="570.20" x2="361.00" y2="565.37" stroke="rgba(0,0,0,0.5)" stroke-width="1.15"/><line x1="380.30" y1="566.72" x2="380.30" y2="558.02" stroke="#1a1a1a" stroke-width="1.6"/><line x1="398.88" y1="568.05" x2="400.18" y2="563.22" stroke="rgba(0,0,0,0.5)" stroke-width="1.15"/><line x1="416.75" y1="574.26" x2="421.10" y2="566.73" stroke="#1a1a1a" stroke-width="1.6"/><line x1="432.64" y1="585.06" x2="436.17" y2="581.53" stroke="rgba(0,0,0,0.5)" stroke-width="1.15"/><line x1="445.37" y1="599.83" x2="452.90" y2="595.48" stroke="#1a1a1a" stroke-width="1.6"/><line x1="453.95" y1="617.67" x2="458.78" y2="616.37" stroke="rgba(0,0,0,0.5)" stroke-width="1.15"/><line x1="457.66" y1="637.40" x2="466.36" y2="637.40" stroke="#1a1a1a" stroke-width="1.6"/><line x1="456.10" y1="657.71" x2="460.93" y2="659.00" stroke="rgba(0,0,0,0.5)" stroke-width="1.15"/><line x1="449.22" y1="677.19" x2="456.76" y2="681.54" stroke="#1a1a1a" stroke-width="1.6"/><line x1="437.36" y1="694.46" x2="440.90" y2="698.00" stroke="rgba(0,0,0,0.5)" stroke-width="1.15"/><line x1="421.20" y1="708.25" x2="425.55" y2="715.78" stroke="#1a1a1a" stroke-width="1.6"/><line x1="401.76" y1="717.50" x2="403.06" y2="722.33" stroke="rgba(0,0,0,0.5)" stroke-width="1.15"/><line x1="380.30" y1="721.43" x2="380.30" y2="730.13" stroke="#1a1a1a" stroke-width="1.6"/><line x1="358.26" y1="719.65" x2="356.97" y2="724.48" stroke="rgba(0,0,0,0.5)" stroke-width="1.15"/><line x1="337.17" y1="712.10" x2="332.82" y2="719.64" stroke="#1a1a1a" stroke-width="1.6"/><line x1="318.52" y1="699.18" x2="314.98" y2="702.72" stroke="rgba(0,0,0,0.5)" stroke-width="1.15"/><line x1="303.67" y1="681.64" x2="296.13" y2="685.99" stroke="#1a1a1a" stroke-width="1.6"/><line x1="293.75" y1="660.59" x2="288.92" y2="661.88" stroke="rgba(0,0,0,0.5)" stroke-width="1.15"/><line x1="289.59" y1="637.40" x2="280.89" y2="637.40" stroke="#1a1a1a" stroke-width="1.6"/><line x1="291.60" y1="613.63" x2="286.77" y2="612.34" stroke="rgba(0,0,0,0.5)" stroke-width="1.15"/><line x1="299.81" y1="590.93" x2="292.28" y2="586.58" stroke="#1a1a1a" stroke-width="1.6"/><line x1="313.80" y1="570.90" x2="310.26" y2="567.36" stroke="rgba(0,0,0,0.5)" stroke-width="1.15"/><line x1="332.72" y1="554.99" x2="328.37" y2="547.45" stroke="#1a1a1a" stroke-width="1.6"/><line x1="355.38" y1="544.40" x2="354.09" y2="539.57" stroke="rgba(0,0,0,0.5)" stroke-width="1.15"/>
<text x="380.45" y="582.88" text-anchor="middle" font-weight="bold" font-size="14.5" fill="#000" stroke="#000" stroke-width="0.3">0</text><text x="411.62" y="589.01" text-anchor="middle" font-weight="bold" font-size="14.5" fill="#000" stroke="#000" stroke-width="0.3">1</text><text x="436.37" y="610.71" text-anchor="middle" font-weight="bold" font-size="14.5" fill="#000" stroke="#000" stroke-width="0.3">2</text><text x="447.25" y="643.00" text-anchor="middle" font-weight="bold" font-size="14.5" fill="#000" stroke="#000" stroke-width="0.3">3</text><text x="440.23" y="677.51" text-anchor="middle" font-weight="bold" font-size="14.5" fill="#000" stroke="#000" stroke-width="0.3">4</text><text x="416.07" y="704.70" text-anchor="middle" font-weight="bold" font-size="14.5" fill="#000" stroke="#000" stroke-width="0.3">5</text><text x="380.45" y="716.48" text-anchor="middle" font-weight="bold" font-size="14.5" fill="#000" stroke="#000" stroke-width="0.3">6</text><text x="342.60" y="708.56" text-anchor="middle" font-weight="bold" font-size="14.5" fill="#000" stroke="#000" stroke-width="0.3">7</text><text x="312.96" y="681.96" text-anchor="middle" font-weight="bold" font-size="14.5" fill="#000" stroke="#000" stroke-width="0.3">8</text><text x="300.30" y="643.00" text-anchor="middle" font-weight="bold" font-size="14.5" fill="#000" stroke="#000" stroke-width="0.3">9</text><text x="309.11" y="601.81" text-anchor="middle" font-weight="bold" font-size="14.5" fill="#000" stroke="#000" stroke-width="0.3">10</text><text x="338.15" y="569.73" text-anchor="middle" font-weight="bold" font-size="14.5" fill="#000" stroke="#000" stroke-width="0.3">11</text><text x="380.45" y="556.17" text-anchor="middle" font-weight="bold" font-size="14.5" fill="#000" stroke="#000" stroke-width="0.3">12</text><text x="424.98" y="565.88" text-anchor="middle" font-weight="bold" font-size="14.5" fill="#000" stroke="#000" stroke-width="0.3">13</text><text x="459.50" y="597.36" text-anchor="middle" font-weight="bold" font-size="14.5" fill="#000" stroke="#000" stroke-width="0.3">14</text><text x="473.96" y="643.00" text-anchor="middle" font-weight="bold" font-size="14.5" fill="#000" stroke="#000" stroke-width="0.3">15</text><text x="463.36" y="690.87" text-anchor="middle" font-weight="bold" font-size="14.5" fill="#000" stroke="#000" stroke-width="0.3">16</text><text x="429.43" y="727.84" text-anchor="middle" font-weight="bold" font-size="14.5" fill="#000" stroke="#000" stroke-width="0.3">17</text><text x="380.45" y="743.19" text-anchor="middle" font-weight="bold" font-size="14.5" fill="#000" stroke="#000" stroke-width="0.3">18</text><text x="329.24" y="731.69" text-anchor="middle" font-weight="bold" font-size="14.5" fill="#000" stroke="#000" stroke-width="0.3">19</text><text x="289.83" y="695.32" text-anchor="middle" font-weight="bold" font-size="14.5" fill="#000" stroke="#000" stroke-width="0.3">20</text><text x="273.59" y="643.00" text-anchor="middle" font-weight="bold" font-size="14.5" fill="#000" stroke="#000" stroke-width="0.3">21</text><text x="285.98" y="588.46" text-anchor="middle" font-weight="bold" font-size="14.5" fill="#000" stroke="#000" stroke-width="0.3">22</text><text x="324.79" y="546.60" text-anchor="middle" font-weight="bold" font-size="14.5" fill="#000" stroke="#000" stroke-width="0.3">23</text>
<text x="373.00" y="621.50" text-anchor="middle" font-weight="bold" font-size="17.2" fill="#111" stroke="#111" stroke-width="0.2">4.2 черга</text>
<text transform="translate(376.30,640.80) scale(0.895,1)" text-anchor="middle" font-size="11" fill="#262626">при запланованому</text>
<text transform="translate(376.20,651.90) scale(0.895,1)" text-anchor="middle" font-size="11" fill="#262626">графіку відключень</text>
<text x="376.00" y="666.20" text-anchor="middle" font-weight="bold" font-size="11" fill="#111">вт 30.12.2025</text>
<text x="334.18" y="681.70" font-size="13.5" fill="#d4869b" stroke="#d4869b" stroke-width="0.35">-11.5</text>
<rect x="367.15" y="670.00" width="11.71" height="14.6" rx="4.5" fill="#ede755"/>
<text x="369.25" y="681.70" font-weight="bold" font-size="13.5" fill="#000">2</text>
<text x="381.06" y="681.70" font-size="13.5" fill="#6cae34" stroke="#6cae34" stroke-width="0.35">+10.5</text>
<path d="M634.00,568.75 L638.51,568.62 L643.03,568.79 L647.56,569.25 L652.06,570.01 L656.51,571.08 L660.91,572.43 L665.22,574.08 L669.44,576.02 L673.53,578.24 L677.49,580.73 L681.28,583.49 L684.90,586.50 L667.45,603.95 L665.01,602.04 L662.46,600.31 L659.82,598.76 L657.10,597.39 L654.31,596.22 L651.47,595.23 L648.58,594.45 L645.67,593.85 L642.74,593.46 L639.81,593.25 L636.89,593.25 L634.00,593.43Z" fill="#fdb4c1"/><path d="M684.90,586.50 L688.33,589.75 L691.55,593.24 L694.55,596.94 L697.31,600.85 L675.93,613.19 L674.03,610.65 L671.97,608.26 L669.78,606.02 L667.45,603.95Z" fill="#ebe562"/><path d="M697.31,600.85 L699.81,604.94 L702.05,609.21 L704.01,613.63 L705.69,618.19 L707.06,622.87 L708.13,627.64 L708.89,632.49 L709.33,637.40 L709.44,642.34 L709.23,647.30 L708.70,652.26 L707.84,657.18 L706.65,662.06 L705.14,666.87 L703.31,671.58 L701.16,676.18 L698.71,680.64 L695.97,684.95 L692.94,689.08 L689.63,693.03 L686.05,696.75 L682.23,700.25 L678.17,703.50 L673.89,706.49 L669.41,709.20 L664.74,711.62 L659.91,713.74 L654.94,715.54 L649.84,717.01 L644.63,718.15 L639.35,718.95 L634.00,719.40 L634.00,694.73 L637.73,694.32 L641.41,693.68 L645.02,692.80 L648.55,691.70 L651.98,690.37 L655.30,688.82 L658.49,687.07 L661.55,685.12 L664.46,682.98 L667.20,680.67 L669.78,678.20 L672.17,675.57 L674.38,672.81 L676.39,669.93 L678.19,666.93 L679.79,663.84 L681.17,660.66 L682.33,657.42 L683.28,654.13 L684.00,650.80 L684.49,647.44 L684.77,644.08 L684.82,640.73 L684.65,637.40 L684.26,634.11 L683.66,630.86 L682.86,627.68 L681.85,624.58 L680.64,621.57 L679.25,618.66 L677.68,615.86 L675.93,613.19Z" fill="#90d050"/><path d="M634.00,719.40 L628.62,719.51 L623.22,719.26 L617.84,718.65 L612.49,717.69 L607.19,716.37 L601.98,714.71 L596.87,712.69 L591.88,710.35 L587.05,707.67 L582.38,704.67 L577.91,701.36 L573.65,697.75 L569.63,693.85 L565.85,689.69 L562.35,685.28 L559.13,680.63 L556.21,675.76 L553.61,670.70 L551.34,665.46 L549.41,660.06 L547.84,654.54 L546.63,648.90 L545.79,643.18 L545.32,637.40 L545.23,631.58 L545.52,625.75 L546.20,619.94 L547.26,614.16 L571.10,620.55 L570.41,624.75 L569.99,628.97 L569.86,633.20 L570.00,637.40 L570.41,641.57 L571.10,645.68 L572.05,649.72 L573.25,653.68 L574.71,657.53 L576.41,661.25 L578.34,664.85 L580.50,668.29 L582.87,671.57 L585.43,674.67 L588.18,677.58 L591.10,680.30 L594.19,682.80 L597.41,685.09 L600.76,687.15 L604.22,688.97 L607.78,690.56 L611.42,691.90 L615.13,693.00 L618.88,693.85 L622.65,694.44 L626.44,694.79 L630.23,694.88 L634.00,694.73Z" fill="#fdb4c1"/><path d="M547.26,614.16 L548.71,608.45 L550.53,602.82 L552.72,597.32 L555.27,591.95 L576.64,604.29 L574.85,608.23 L573.33,612.27 L572.08,616.38 L571.10,620.55Z" fill="#ebe562"/><path d="M555.27,591.95 L558.18,586.74 L561.44,581.72 L565.02,576.91 L568.93,572.33 L573.14,568.01 L577.64,563.95 L582.41,560.19 L587.43,556.74 L592.68,553.62 L598.15,550.84 L603.79,548.42 L609.61,546.36 L615.56,544.69 L621.63,543.41 L627.78,542.52 L634.00,542.04 L634.00,566.72 L629.40,567.15 L624.85,567.88 L620.37,568.90 L615.99,570.20 L611.73,571.79 L607.59,573.64 L603.60,575.76 L599.77,578.12 L596.12,580.71 L592.67,583.53 L589.42,586.56 L586.38,589.78 L583.58,593.18 L581.02,596.74 L578.70,600.45 L576.64,604.29Z" fill="#90d050"/><path d="M634.00,542.04 L640.26,541.97 L646.52,542.30 L652.77,543.05 L658.97,544.21 L665.10,545.78 L671.13,547.76 L677.04,550.13 L682.79,552.89 L688.37,556.03 L693.75,559.54 L698.89,563.40 L703.79,567.61 L708.41,572.14 L712.74,576.98 L716.76,582.10 L720.44,587.49 L723.77,593.13 L726.73,598.99 L729.31,605.05 L731.49,611.28 L733.26,617.66 L734.61,624.15 L735.54,630.74 L736.04,637.40 L736.10,644.09 L735.72,650.79 L734.90,657.47 L733.64,664.10 L709.80,657.71 L710.69,652.65 L711.25,647.57 L711.47,642.48 L711.36,637.40 L710.91,632.36 L710.14,627.38 L709.05,622.47 L707.65,617.67 L705.93,612.98 L703.93,608.44 L701.63,604.05 L699.07,599.83 L696.24,595.81 L693.16,592.00 L689.86,588.41 L686.34,585.06 L682.62,581.96 L678.72,579.12 L674.66,576.55 L670.45,574.26 L666.12,572.26 L661.69,570.56 L657.17,569.15 L652.58,568.05 L647.95,567.26 L643.30,566.77 L638.64,566.59 L634.00,566.72Z" fill="#fdb4c1"/><path d="M733.64,664.10 L731.94,670.65 L729.81,677.09 L727.26,683.39 L724.29,689.53 L702.92,677.19 L705.13,672.48 L707.01,667.64 L708.57,662.71 L709.80,657.71Z" fill="#ebe562"/><path d="M724.29,689.53 L720.92,695.48 L717.16,701.21 L713.02,706.70 L708.51,711.91 L703.66,716.84 L698.49,721.44 L693.01,725.71 L687.24,729.62 L681.22,733.16 L674.96,736.30 L668.50,739.03 L661.85,741.34 L655.05,743.21 L648.12,744.63 L641.09,745.60 L634.00,746.12 L634.00,721.43 L639.48,720.98 L644.90,720.16 L650.23,719.00 L655.46,717.50 L660.56,715.66 L665.52,713.50 L670.31,711.02 L674.90,708.25 L679.30,705.19 L683.46,701.86 L687.39,698.28 L691.06,694.46 L694.46,690.42 L697.58,686.19 L700.40,681.77 L702.92,677.19Z" fill="#90d050"/><path d="M634.00,746.12 L626.87,746.16 L619.74,745.74 L612.63,744.84 L605.57,743.49 L598.61,741.66 L591.76,739.38 L585.06,736.65 L578.53,733.48 L572.21,729.88 L566.12,725.86 L560.30,721.44 L554.77,716.63 L549.54,711.47 L544.66,705.95 L540.14,700.12 L535.99,693.98 L532.25,687.58 L528.93,680.92 L526.05,674.04 L523.61,666.98 L521.64,659.75 L520.15,652.39 L519.13,644.93 L518.61,637.40 L543.29,637.40 L543.76,643.31 L544.62,649.17 L545.85,654.93 L547.45,660.59 L549.42,666.11 L551.73,671.48 L554.39,676.66 L557.37,681.64 L560.66,686.41 L564.24,690.93 L568.10,695.19 L572.22,699.18 L576.57,702.88 L581.15,706.28 L585.92,709.35 L590.87,712.10 L595.97,714.52 L601.20,716.58 L606.54,718.29 L611.96,719.65 L617.44,720.64 L622.96,721.27 L628.49,721.53 L634.00,721.43Z" fill="#fdb4c1"/><path d="M518.61,637.40 L518.58,629.83 L519.04,622.27 L520.01,614.73 L521.46,607.25 L545.30,613.63 L544.21,619.54 L543.51,625.49 L543.20,631.45 L543.29,637.40Z" fill="#ebe562"/><path d="M521.46,607.25 L523.41,599.86 L525.85,592.60 L528.76,585.50 L532.14,578.59 L535.97,571.90 L540.25,565.46 L544.94,559.30 L550.04,553.44 L555.53,547.92 L561.38,542.76 L567.57,537.98 L574.08,533.61 L580.87,529.67 L587.92,526.16 L595.21,523.13 L602.69,520.56 L610.35,518.49 L618.14,516.93 L626.03,515.87 L634.00,515.33 L634.00,540.01 L627.65,540.50 L621.36,541.39 L615.16,542.70 L609.08,544.40 L603.14,546.50 L597.37,548.97 L591.79,551.80 L586.42,554.99 L581.28,558.51 L576.41,562.34 L571.80,566.48 L567.50,570.90 L563.50,575.57 L559.83,580.48 L556.49,585.61 L553.51,590.93 L550.90,596.42 L548.65,602.05 L546.78,607.79 L545.30,613.63Z" fill="#90d050"/>
<line x1="634.00" y1="593.43" x2="634.00" y2="584.73" stroke="#1a1a1a" stroke-width="1.6"/><line x1="645.67" y1="593.85" x2="646.96" y2="589.02" stroke="rgba(0,0,0,0.5)" stroke-width="1.15"/><line x1="657.10" y1="597.39" x2="661.45" y2="589.86" stroke="#1a1a1a" stroke-width="1.6"/><line x1="667.45" y1="603.95" x2="670.99" y2="600.41" stroke="rgba(0,0,0,0.5)" stroke-width="1.15"/><line x1="675.93" y1="613.19" x2="683.47" y2="608.84" stroke="#1a1a1a" stroke-width="1.6"/><line x1="681.85" y1="624.58" x2="686.68" y2="623.29" stroke="rgba(0,0,0,0.5)" stroke-width="1.15"/><line x1="684.65" y1="637.40" x2="693.35" y2="637.40" stroke="#1a1a1a" stroke-width="1.6"/><line x1="684.00" y1="650.80" x2="688.83" y2="652.09" stroke="rgba(0,0,0,0.5)" stroke-width="1.15"/><line x1="679.79" y1="663.84" x2="687.32" y2="668.19" stroke="#1a1a1a" stroke-width="1.6"/><line x1="672.17" y1="675.57" x2="675.71" y2="679.11" stroke="rgba(0,0,0,0.5)" stroke-width="1.15"/><line x1="661.55" y1="685.12" x2="665.90" y2="692.65" stroke="#1a1a1a" stroke-width="1.6"/><line x1="648.55" y1="691.70" x2="649.84" y2="696.53" stroke="rgba(0,0,0,0.5)" stroke-width="1.15"/><line x1="634.00" y1="694.73" x2="634.00" y2="703.42" stroke="#1a1a1a" stroke-width="1.6"/><line x1="618.88" y1="693.85" x2="617.58" y2="698.68" stroke="rgba(0,0,0,0.5)" stroke-width="1.15"/><line x1="604.22" y1="688.97" x2="599.87" y2="696.51" stroke="#1a1a1a" stroke-width="1.6"/><line x1="591.10" y1="680.30" x2="587.57" y2="683.83" stroke="rgba(0,0,0,0.5)" stroke-width="1.15"/><line x1="580.50" y1="668.29" x2="572.97" y2="672.64" stroke="#1a1a1a" stroke-width="1.6"/><line x1="573.25" y1="653.68" x2="568.42" y2="654.97" stroke="rgba(0,0,0,0.5)" stroke-width="1.15"/><line x1="570.00" y1="637.40" x2="561.30" y2="637.40" stroke="#1a1a1a" stroke-width="1.6"/><line x1="571.10" y1="620.55" x2="566.27" y2="619.25" stroke="rgba(0,0,0,0.5)" stroke-width="1.15"/><line x1="576.64" y1="604.29" x2="569.11" y2="599.94" stroke="#1a1a1a" stroke-width="1.6"/><line x1="586.38" y1="589.78" x2="582.85" y2="586.25" stroke="rgba(0,0,0,0.5)" stroke-width="1.15"/><line x1="599.77" y1="578.12" x2="595.42" y2="570.58" stroke="#1a1a1a" stroke-width="1.6"/><line x1="615.99" y1="570.20" x2="614.70" y2="565.37" stroke="rgba(0,0,0,0.5)" stroke-width="1.15"/><line x1="634.00" y1="566.72" x2="634.00" y2="558.02" stroke="#1a1a1a" stroke-width="1.6"/><line x1="652.58" y1="568.05" x2="653.88" y2="563.22" stroke="rgba(0,0,0,0.5)" stroke-width="1.15"/><line x1="670.45" y1="574.26" x2="674.80" y2="566.73" stroke="#1a1a1a" stroke-width="1.6"/><line x1="686.34" y1="585.06" x2="689.87" y2="581.53" stroke="rgba(0,0,0,0.5)" stroke-width="1.15"/><line x1="699.07" y1="599.83" x2="706.60" y2="595.48" stroke="#1a1a1a" stroke-width="1.6"/><line x1="707.65" y1="617.67" x2="712.48" y2="616.37" stroke="rgba(0,0,0,0.5)" stroke-width="1.15"/><line x1="711.36" y1="637.40" x2="720.06" y2="637.40" stroke="#1a1a1a" stroke-width="1.6"/><line x1="709.80" y1="657.71" x2="714.63" y2="659.00" stroke="rgba(0,0,0,0.5)" stroke-width="1.15"/><line x1="702.92" y1="677.19" x2="710.46" y2="681.54" stroke="#1a1a1a" stroke-width="1.6"/><line x1="691.06" y1="694.46" x2="694.60" y2="698.00" stroke="rgba(0,0,0,0.5)" stroke-width="1.15"/><line x1="674.90" y1="708.25" x2="679.25" y2="715.78" stroke="#1a1a1a" stroke-width="1.6"/><line x1="655.46" y1="717.50" x2="656.76" y2="722.33" stroke="rgba(0,0,0,0.5)" stroke-width="1.15"/><line x1="634.00" y1="721.43" x2="634.00" y2="730.13" stroke="#1a1a1a" stroke-width="1.6"/><line x1="611.96" y1="719.65" x2="610.67" y2="724.48" stroke="rgba(0,0,0,0.5)" stroke-width="1.15"/><line x1="590.87" y1="712.10" x2="586.52" y2="719.64" stroke="#1a1a1a" stroke-width="1.6"/><line x1="572.22" y1="699.18" x2="568.68" y2="702.72" stroke="rgba(0,0,0,0.5)" stroke-width="1.15"/><line x1="557.37" y1="681.64" x2="549.83" y2="685.99" stroke="#1a1a1a" stroke-width="1.6"/><line x1="547.45" y1="660.59" x2="542.62" y2="661.88" stroke="rgba(0,0,0,0.5)" stroke-width="1.15"/><line x1="543.29" y1="637.40" x2="534.59" y2="637.40" stroke="#1a1a1a" stroke-width="1.6"/><line x1="545.30" y1="613.63" x2="540.47" y2="612.34" stroke="rgba(0,0,0,0.5)" stroke-width="1.15"/><line x1="553.51" y1="590.93" x2="545.98" y2="586.58" stroke="#1a1a1a" stroke-width="1.6"/><line x1="567.50" y1="570.90" x2="563.96" y2="567.36" stroke="rgba(0,0,0,0.5)" stroke-width="1.15"/><line x1="586.42" y1="554.99" x2="582.07" y2="547.45" stroke="#1a1a1a" stroke-width="1.6"/><line x1="609.08" y1="544.40" x2="607.79" y2="539.57" stroke="rgba(0,0,0,0.5)" stroke-width="1.15"/>
<text x="634.15" y="582.88" text-anchor="middle" font-weight="bold" font-size="14.5" fill="#000" stroke="#000" stroke-width="0.3">0</text><text x="665.32" y="589.01" text-anchor="middle" font-weight="bold" font-size="14.5" fill="#000" stroke="#000" stroke-width="0.3">1</text><text x="690.07" y="610.71" text-anchor="middle" font-weight="bold" font-size="14.5" fill="#000" stroke="#000" stroke-width="0.3">2</text><text x="700.95" y="643.00" text-anchor="middle" font-weight="bold" font-size="14.5" fill="#000" stroke="#000" stroke-width="0.3">3</text><text x="693.93" y="677.51" text-anchor="middle" font-weight="bold" font-size="14.5" fill="#000" stroke="#000" stroke-width="0.3">4</text><text x="669.77" y="704.70" text-anchor="middle" font-weight="bold" font-size="14.5" fill="#000" stroke="#000" stroke-width="0.3">5</text><text x="634.15" y="716.48" text-anchor="middle" font-weight="bold" font-size="14.5" fill="#000" stroke="#000" stroke-width="0.3">6</text><text x="596.30" y="708.56" text-anchor="middle" font-weight="bold" font-size="14.5" fill="#000" stroke="#000" stroke-width="0.3">7</text><text x="566.66" y="681.96" text-anchor="middle" font-weight="bold" font-size="14.5" fill="#000" stroke="#000" stroke-width="0.3">8</text><text x="554.00" y="643.00" text-anchor="middle" font-weight="bold" font-size="14.5" fill="#000" stroke="#000" stroke-width="0.3">9</text><text x="562.81" y="601.81" text-anchor="middle" font-weight="bold" font-size="14.5" fill="#000" stroke="#000" stroke-width="0.3">10</text><text x="591.85" y="569.73" text-anchor="middle" font-weight="bold" font-size="14.5" fill="#000" stroke="#000" stroke-width="0.3">11</text><text x="634.15" y="556.17" text-anchor="middle" font-weight="bold" font-size="14.5" fill="#000" stroke="#000" stroke-width="0.3">12</text><text x="678.68" y="565.88" text-anchor="middle" font-weight="bold" font-size="14.5" fill="#000" stroke="#000" stroke-width="0.3">13</text><text x="713.20" y="597.36" text-anchor="middle" font-weight="bold" font-size="14.5" fill="#000" stroke="#000" stroke-width="0.3">14</text><text x="727.66" y="643.00" text-anchor="middle" font-weight="bold" font-size="14.5" fill="#000" stroke="#000" stroke-width="0.3">15</text><text x="717.06" y="690.87" text-anchor="middle" font-weight="bold" font-size="14.5" fill="#000" stroke="#000" stroke-width="0.3">16</text><text x="683.13" y="727.84" text-anchor="middle" font-weight="bold" font-size="14.5" fill="#000" stroke="#000" stroke-width="0.3">17</text><text x="634.15" y="743.19" text-anchor="middle" font-weight="bold" font-size="14.5" fill="#000" stroke="#000" stroke-width="0.3">18</text><text x="582.94" y="731.69" text-anchor="middle" font-weight="bold" font-size="14.5" fill="#000" stroke="#000" stroke-width="0.3">19</text><text x="543.53" y="695.32" text-anchor="middle" font-weight="bold" font-size="14.5" fill="#000" stroke="#000" stroke-width="0.3">20</text><text x="527.29" y="643.00" text-anchor="middle" font-weight="bold" font-size="14.5" fill="#000" stroke="#000" stroke-width="0.3">21</text><text x="539.68" y="588.46" text-anchor="middle" font-weight="bold" font-size="14.5" fill="#000" stroke="#000" stroke-width="0.3">22</text><text x="578.49" y="546.60" text-anchor="middle" font-weight="bold" font-size="14.5" fill="#000" stroke="#000" stroke-width="0.3">23</text>
<text x="626.70" y="621.50" text-anchor="middle" font-weight="bold" font-size="17.2" fill="#111" stroke="#111" stroke-width="0.2">5.1 черга</text>
<text transform="translate(630.00,640.80) scale(0.895,1)" text-anchor="middle" font-size="11" fill="#262626">при запланованому</text>
<text transform="translate(629.90,651.90) scale(0.895,1)" text-anchor="middle" font-size="11" fill="#262626">графіку відключень</text>
<text x="629.70" y="666.20" text-anchor="middle" font-weight="bold" font-size="11" fill="#111">вт 30.12.2025</text>
<text x="587.88" y="681.70" font-size="13.5" fill="#d4869b" stroke="#d4869b" stroke-width="0.35">-11.5</text>
<rect x="620.85" y="670.00" width="11.71" height="14.6" rx="4.5" fill="#ede755"/>
<text x="622.95" y="681.70" font-weight="bold" font-size="13.5" fill="#000">2</text>
<text x="634.76" y="681.70" font-size="13.5" fill="#6cae34" stroke="#6cae34" stroke-width="0.35">+10.5</text>
<path d="M126.60,824.75 L131.11,824.62 L135.63,824.79 L140.16,825.25 L144.66,826.01 L149.11,827.08 L153.51,828.43 L157.82,830.08 L162.04,832.02 L166.13,834.24 L170.09,836.73 L173.88,839.49 L177.50,842.50 L180.93,845.75 L184.15,849.24 L187.15,852.94 L189.91,856.85 L168.53,869.19 L166.63,866.65 L164.57,864.26 L162.38,862.02 L160.05,859.95 L157.61,858.04 L155.06,856.31 L152.42,854.76 L149.70,853.39 L146.91,852.22 L144.07,851.23 L141.18,850.45 L138.27,849.85 L135.34,849.46 L132.41,849.25 L129.49,849.25 L126.60,849.43Z" fill="#fdb4c1"/><path d="M189.91,856.85 L192.41,860.94 L194.65,865.21 L196.61,869.63 L198.29,874.19 L174.45,880.58 L173.24,877.57 L171.85,874.66 L170.28,871.86 L168.53,869.19Z" fill="#ebe562"/><path d="M198.29,874.19 L199.66,878.87 L200.73,883.64 L201.49,888.49 L201.93,893.40 L202.04,898.34 L201.83,903.30 L201.30,908.26 L200.44,913.18 L199.25,918.06 L197.74,922.87 L195.91,927.58 L193.76,932.18 L191.31,936.64 L188.57,940.95 L185.54,945.08 L182.23,949.03 L178.65,952.75 L174.83,956.25 L170.77,959.50 L166.49,962.49 L162.01,965.20 L157.34,967.62 L152.51,969.74 L147.54,971.54 L142.44,973.01 L137.23,974.15 L131.95,974.95 L126.60,975.40 L121.22,975.51 L115.82,975.26 L110.44,974.65 L105.09,973.69 L111.48,949.85 L115.25,950.44 L119.04,950.79 L122.83,950.88 L126.60,950.73 L130.33,950.32 L134.01,949.68 L137.62,948.80 L141.15,947.70 L144.58,946.37 L147.90,944.82 L151.09,943.07 L154.15,941.12 L157.06,938.98 L159.80,936.67 L162.38,934.20 L164.77,931.57 L166.98,928.81 L168.99,925.93 L170.79,922.93 L172.39,919.84 L173.77,916.66 L174.93,913.42 L175.88,910.13 L176.60,906.80 L177.09,903.44 L177.37,900.08 L177.42,896.73 L177.25,893.40 L176.86,890.11 L176.26,886.86 L175.46,883.68 L174.45,880.58Z" fill="#90d050"/><path d="M105.09,973.69 L99.79,972.37 L94.58,970.71 L89.47,968.69 L84.48,966.35 L79.65,963.67 L74.98,960.67 L70.51,957.36 L66.25,953.75 L62.23,949.85 L58.45,945.69 L54.95,941.28 L51.73,936.63 L48.81,931.76 L46.21,926.70 L43.94,921.46 L42.01,916.06 L40.44,910.54 L39.23,904.90 L38.39,899.18 L37.92,893.40 L37.83,887.58 L38.12,881.75 L38.80,875.94 L39.86,870.16 L41.31,864.45 L43.13,858.82 L45.32,853.32 L47.87,847.95 L69.24,860.29 L67.45,864.23 L65.93,868.27 L64.68,872.38 L63.70,876.55 L63.01,880.75 L62.59,884.97 L62.46,889.20 L62.60,893.40 L63.01,897.57 L63.70,901.68 L64.65,905.72 L65.85,909.68 L67.31,913.53 L69.01,917.25 L70.94,920.85 L73.10,924.29 L75.47,927.57 L78.03,930.67 L80.78,933.58 L83.70,936.30 L86.79,938.80 L90.01,941.09 L93.36,943.15 L96.82,944.97 L100.38,946.56 L104.02,947.90 L107.73,949.00 L111.48,949.85Z" fill="#fdb4c1"/><path d="M47.87,847.95 L50.78,842.74 L54.04,837.72 L57.62,832.91 L61.53,828.33 L78.98,845.78 L76.18,849.18 L73.62,852.74 L71.30,856.45 L69.24,860.29Z" fill="#ebe562"/><path d="M61.53,828.33 L65.74,824.01 L70.24,819.95 L75.01,816.19 L80.03,812.74 L85.28,809.62 L90.75,806.84 L96.39,804.42 L102.21,802.36 L108.16,800.69 L114.23,799.41 L120.38,798.52 L126.60,798.04 L132.86,797.97 L139.12,798.30 L145.37,799.05 L151.57,800.21 L145.18,824.05 L140.55,823.26 L135.90,822.77 L131.24,822.59 L126.60,822.72 L122.00,823.15 L117.45,823.88 L112.97,824.90 L108.59,826.20 L104.33,827.79 L100.19,829.64 L96.20,831.76 L92.37,834.12 L88.72,836.71 L85.27,839.53 L82.02,842.56 L78.98,845.78Z" fill="#90d050"/><path d="M151.57,800.21 L157.70,801.78 L163.73,803.76 L169.64,806.13 L175.39,808.89 L180.97,812.03 L186.35,815.54 L191.49,819.40 L196.39,823.61 L201.01,828.14 L205.34,832.98 L209.36,838.10 L213.04,843.49 L216.37,849.13 L219.33,854.99 L221.91,861.05 L224.09,867.28 L225.86,873.66 L227.21,880.15 L228.14,886.74 L228.64,893.40 L228.70,900.09 L228.32,906.79 L227.50,913.47 L226.24,920.10 L224.54,926.65 L222.41,933.09 L219.86,939.39 L216.89,945.53 L195.52,933.19 L197.73,928.48 L199.61,923.64 L201.17,918.71 L202.40,913.71 L203.29,908.65 L203.85,903.57 L204.07,898.48 L203.96,893.40 L203.51,888.36 L202.74,883.38 L201.65,878.47 L200.25,873.67 L198.53,868.98 L196.53,864.44 L194.23,860.05 L191.67,855.83 L188.84,851.81 L185.76,848.00 L182.46,844.41 L178.94,841.06 L175.22,837.96 L171.32,835.12 L167.26,832.55 L163.05,830.26 L158.72,828.26 L154.29,826.56 L149.77,825.15 L145.18,824.05Z" fill="#fdb4c1"/><path d="M216.89,945.53 L213.52,951.48 L209.76,957.21 L205.62,962.70 L201.11,967.91 L183.66,950.46 L187.06,946.42 L190.18,942.19 L193.00,937.77 L195.52,933.19Z" fill="#ebe562"/><path d="M201.11,967.91 L196.26,972.84 L191.09,977.44 L185.61,981.71 L179.84,985.62 L173.82,989.16 L167.56,992.30 L161.10,995.03 L154.45,997.34 L147.65,999.21 L140.72,1000.63 L133.69,1001.60 L126.60,1002.12 L119.47,1002.16 L112.34,1001.74 L105.23,1000.84 L98.17,999.49 L104.56,975.65 L110.04,976.64 L115.56,977.27 L121.09,977.53 L126.60,977.43 L132.08,976.98 L137.50,976.16 L142.83,975.00 L148.06,973.50 L153.16,971.66 L158.12,969.50 L162.91,967.02 L167.50,964.25 L171.90,961.19 L176.06,957.86 L179.99,954.28 L183.66,950.46Z" fill="#90d050"/><path d="M98.17,999.49 L91.21,997.66 L84.36,995.38 L77.66,992.65 L71.13,989.48 L64.81,985.88 L58.72,981.86 L52.90,977.44 L47.37,972.63 L42.14,967.47 L37.26,961.95 L32.74,956.12 L28.59,949.98 L24.85,943.58 L21.53,936.92 L18.65,930.04 L16.21,922.98 L14.24,915.75 L12.75,908.39 L11.73,900.93 L11.21,893.40 L11.18,885.83 L11.64,878.27 L12.61,870.73 L14.06,863.25 L37.90,869.63 L36.81,875.54 L36.11,881.49 L35.80,887.45 L35.89,893.40 L36.36,899.31 L37.22,905.17 L38.45,910.93 L40.05,916.59 L42.02,922.11 L44.33,927.48 L46.99,932.66 L49.97,937.64 L53.26,942.41 L56.84,946.93 L60.70,951.19 L64.82,955.18 L69.17,958.88 L73.75,962.28 L78.52,965.35 L83.47,968.10 L88.57,970.52 L93.80,972.58 L99.14,974.29 L104.56,975.65Z" fill="#fdb4c1"/><path d="M14.06,863.25 L16.01,855.86 L18.45,848.60 L21.36,841.50 L24.74,834.59 L46.11,846.93 L43.50,852.42 L41.25,858.05 L39.38,863.79 L37.90,869.63Z" fill="#ebe562"/><path d="M24.74,834.59 L28.57,827.90 L32.85,821.46 L37.54,815.30 L42.64,809.44 L48.13,803.92 L53.98,798.76 L60.17,793.98 L66.68,789.61 L73.47,785.67 L80.52,782.16 L87.81,779.13 L95.29,776.56 L102.95,774.49 L110.74,772.93 L118.63,771.87 L126.60,771.33 L126.60,796.01 L120.25,796.50 L113.96,797.39 L107.76,798.70 L101.68,800.40 L95.74,802.50 L89.97,804.97 L84.39,807.80 L79.02,810.99 L73.88,814.51 L69.01,818.34 L64.40,822.48 L60.10,826.90 L56.10,831.57 L52.43,836.48 L49.09,841.61 L46.11,846.93Z" fill="#90d050"/>
<line x1="126.60" y1="849.43" x2="126.60" y2="840.73" stroke="#1a1a1a" stroke-width="1.6"/><line x1="138.27" y1="849.85" x2="139.56" y2="845.02" stroke="rgba(0,0,0,0.5)" stroke-width="1.15"/><line x1="149.70" y1="853.39" x2="154.05" y2="845.86" stroke="#1a1a1a" stroke-width="1.6"/><line x1="160.05" y1="859.95" x2="163.59" y2="856.41" stroke="rgba(0,0,0,0.5)" stroke-width="1.15"/><line x1="168.53" y1="869.19" x2="176.07" y2="864.84" stroke="#1a1a1a" stroke-width="1.6"/><line x1="174.45" y1="880.58" x2="179.28" y2="879.29" stroke="rgba(0,0,0,0.5)" stroke-width="1.15"/><line x1="177.25" y1="893.40" x2="185.95" y2="893.40" stroke="#1a1a1a" stroke-width="1.6"/><line x1="176.60" y1="906.80" x2="181.43" y2="908.09" stroke="rgba(0,0,0,0.5)" stroke-width="1.15"/><line x1="172.39" y1="919.84" x2="179.92" y2="924.19" stroke="#1a1a1a" stroke-width="1.6"/><line x1="164.77" y1="931.57" x2="168.31" y2="935.11" stroke="rgba(0,0,0,0.5)" stroke-width="1.15"/><line x1="154.15" y1="941.12" x2="158.50" y2="948.65" stroke="#1a1a1a" stroke-width="1.6"/><line x1="141.15" y1="947.70" x2="142.44" y2="952.53" stroke="rgba(0,0,0,0.5)" stroke-width="1.15"/><line x1="126.60" y1="950.73" x2="126.60" y2="959.42" stroke="#1a1a1a" stroke-width="1.6"/><line x1="111.48" y1="949.85" x2="110.18" y2="954.68" stroke="rgba(0,0,0,0.5)" stroke-width="1.15"/><line x1="96.82" y1="944.97" x2="92.47" y2="952.51" stroke="#1a1a1a" stroke-width="1.6"/><line x1="83.70" y1="936.30" x2="80.17" y2="939.83" stroke="rgba(0,0,0,0.5)" stroke-width="1.15"/><line x1="73.10" y1="924.29" x2="65.57" y2="928.64" stroke="#1a1a1a" stroke-width="1.6"/><line x1="65.85" y1="909.68" x2="61.02" y2="910.97" stroke="rgba(0,0,0,0.5)" stroke-width="1.15"/><line x1="62.60" y1="893.40" x2="53.90" y2="893.40" stroke="#1a1a1a" stroke-width="1.6"/><line x1="63.70" y1="876.55" x2="58.87" y2="875.25" stroke="rgba(0,0,0,0.5)" stroke-width="1.15"/><line x1="69.24" y1="860.29" x2="61.71" y2="855.94" stroke="#1a1a1a" stroke-width="1.6"/><line x1="78.98" y1="845.78" x2="75.45" y2="842.25" stroke="rgba(0,0,0,0.5)" stroke-width="1.15"/><line x1="92.37" y1="834.12" x2="88.02" y2="826.58" stroke="#1a1a1a" stroke-width="1.6"/><line x1="108.59" y1="826.20" x2="107.30" y2="821.37" stroke="rgba(0,0,0,0.5)" stroke-width="1.15"/><line x1="126.60" y1="822.72" x2="126.60" y2="814.02" stroke="#1a1a1a" stroke-width="1.6"/><line x1="145.18" y1="824.05" x2="146.48" y2="819.22" stroke="rgba(0,0,0,0.5)" stroke-width="1.15"/><line x1="163.05" y1="830.26" x2="167.40" y2="822.73" stroke="#1a1a1a" stroke-width="1.6"/><line x1="178.94" y1="841.06" x2="182.47" y2="837.53" stroke="rgba(0,0,0,0.5)" stroke-width="1.15"/><line x1="191.67" y1="855.83" x2="199.20" y2="851.48" stroke="#1a1a1a" stroke-width="1.6"/><line x1="200.25" y1="873.67" x2="205.08" y2="872.37" stroke="rgba(0,0,0,0.5)" stroke-width="1.15"/><line x1="203.96" y1="893.40" x2="212.66" y2="893.40" stroke="#1a1a1a" stroke-width="1.6"/><line x1="202.40" y1="913.71" x2="207.23" y2="915.00" stroke="rgba(0,0,0,0.5)" stroke-width="1.15"/><line x1="195.52" y1="933.19" x2="203.06" y2="937.54" stroke="#1a1a1a" stroke-width="1.6"/><line x1="183.66" y1="950.46" x2="187.20" y2="954.00" stroke="rgba(0,0,0,0.5)" stroke-width="1.15"/><line x1="167.50" y1="964.25" x2="171.85" y2="971.78" stroke="#1a1a1a" stroke-width="1.6"/><line x1="148.06" y1="973.50" x2="149.36" y2="978.33" stroke="rgba(0,0,0,0.5)" stroke-width="1.15"/><line x1="126.60" y1="977.43" x2="126.60" y2="986.13" stroke="#1a1a1a" stroke-width="1.6"/><line x1="104.56" y1="975.65" x2="103.27" y2="980.48" stroke="rgba(0,0,0,0.5)" stroke-width="1.15"/><line x1="83.47" y1="968.10" x2="79.12" y2="975.64" stroke="#1a1a1a" stroke-width="1.6"/><line x1="64.82" y1="955.18" x2="61.28" y2="958.72" stroke="rgba(0,0,0,0.5)" stroke-width="1.15"/><line x1="49.97" y1="937.64" x2="42.43" y2="941.99" stroke="#1a1a1a" stroke-width="1.6"/><line x1="40.05" y1="916.59" x2="35.22" y2="917.88" stroke="rgba(0,0,0,0.5)" stroke-width="1.15"/><line x1="35.89" y1="893.40" x2="27.19" y2="893.40" stroke="#1a1a1a" stroke-width="1.6"/><line x1="37.90" y1="869.63" x2="33.07" y2="868.34" stroke="rgba(0,0,0,0.5)" stroke-width="1.15"/><line x1="46.11" y1="846.93" x2="38.58" y2="842.58" stroke="#1a1a1a" stroke-width="1.6"/><line x1="60.10" y1="826.90" x2="56.56" y2="823.36" stroke="rgba(0,0,0,0.5)" stroke-width="1.15"/><line x1="79.02" y1="810.99" x2="74.67" y2="803.45" stroke="#1a1a1a" stroke-width="1.6"/><line x1="101.68" y1="800.40" x2="100.39" y2="795.57" stroke="rgba(0,0,0,0.5)" stroke-width="1.15"/>
<text x="126.75" y="838.88" text-anchor="middle" font-weight="bold" font-size="14.5" fill="#000" stroke="#000" stroke-width="0.3">0</text><text x="157.92" y="845.01" text-anchor="middle" font-weight="bold" font-size="14.5" fill="#000" stroke="#000" stroke-width="0.3">1</text><text x="182.67" y="866.71" text-anchor="middle" font-weight="bold" font-size="14.5" fill="#000" stroke="#000" stroke-width="0.3">2</text><text x="193.55" y="899.00" text-anchor="middle" font-weight="bold" font-size="14.5" fill="#000" stroke="#000" stroke-width="0.3">3</text><text x="186.53" y="933.51" text-anchor="middle" font-weight="bold" font-size="14.5" fill="#000" stroke="#000" stroke-width="0.3">4</text><text x="162.37" y="960.70" text-anchor="middle" font-weight="bold" font-size="14.5" fill="#000" stroke="#000" stroke-width="0.3">5</text><text x="126.75" y="972.48" text-anchor="middle" font-weight="bold" font-size="14.5" fill="#000" stroke="#000" stroke-width="0.3">6</text><text x="88.90" y="964.56" text-anchor="middle" font-weight="bold" font-size="14.5" fill="#000" stroke="#000" stroke-width="0.3">7</text><text x="59.26" y="937.96" text-anchor="middle" font-weight="bold" font-size="14.5" fill="#000" stroke="#000" stroke-width="0.3">8</text><text x="46.60" y="899.00" text-anchor="middle" font-weight="bold" font-size="14.5" fill="#000" stroke="#000" stroke-width="0.3">9</text><text x="55.41" y="857.81" text-anchor="middle" font-weight="bold" font-size="14.5" fill="#000" stroke="#000" stroke-width="0.3">10</text><text x="84.45" y="825.73" text-anchor="middle" font-weight="bold" font-size="14.5" fill="#000" stroke="#000" stroke-width="0.3">11</text><text x="126.75" y="812.17" text-anchor="middle" font-weight="bold" font-size="14.5" fill="#000" stroke="#000" stroke-width="0.3">12</text><text x="171.28" y="821.88" text-anchor="middle" font-weight="bold" font-size="14.5" fill="#000" stroke="#000" stroke-width="0.3">13</text><text x="205.80" y="853.36" text-anchor="middle" font-weight="bold" font-size="14.5" fill="#000" stroke="#000" stroke-width="0.3">14</text><text x="220.26" y="899.00" text-anchor="middle" font-weight="bold" font-size="14.5" fill="#000" stroke="#000" stroke-width="0.3">15</text><text x="209.66" y="946.87" text-anchor="middle" font-weight="bold" font-size="14.5" fill="#000" stroke="#000" stroke-width="0.3">16</text><text x="175.73" y="983.84" text-anchor="middle" font-weight="bold" font-size="14.5" fill="#000" stroke="#000" stroke-width="0.3">17</text><text x="126.75" y="999.19" text-anchor="middle" font-weight="bold" font-size="14.5" fill="#000" stroke="#000" stroke-width="0.3">18</text><text x="75.54" y="987.69" text-anchor="middle" font-weight="bold" font-size="14.5" fill="#000" stroke="#000" stroke-width="0.3">19</text><text x="36.13" y="951.32" text-anchor="middle" font-weight="bold" font-size="14.5" fill="#000" stroke="#000" stroke-width="0.3">20</text><text x="19.89" y="899.00" text-anchor="middle" font-weight="bold" font-size="14.5" fill="#000" stroke="#000" stroke-width="0.3">21</text><text x="32.28" y="844.46" text-anchor="middle" font-weight="bold" font-size="14.5" fill="#000" stroke="#000" stroke-width="0.3">22</text><text x="71.09" y="802.60" text-anchor="middle" font-weight="bold" font-size="14.5" fill="#000" stroke="#000" stroke-width="0.3">23</text>
<text x="119.30" y="877.50" text-anchor="middle" font-weight="bold" font-size="17.2" fill="#111" stroke="#111" stroke-width="0.2">5.2 черга</text>
<text transform="translate(122.60,896.80) scale(0.895,1)" text-anchor="middle" font-size="11" fill="#262626">при запланованому</text>
<text transform="translate(122.50,907.90) scale(0.895,1)" text-anchor="middle" font-size="11" fill="#262626">графіку відключень</text>
<text x="122.30" y="922.20" text-anchor="middle" font-weight="bold" font-size="11" fill="#111">вт 30.12.2025</text>
<text x="91.74" y="937.70" font-size="13.5" fill="#d4869b" stroke="#d4869b" stroke-width="0.35">-12</text>
<rect x="113.45" y="926.00" width="11.71" height="14.6" rx="4.5" fill="#ede755"/>
<text x="115.55" y="937.70" font-weight="bold" font-size="13.5" fill="#000">2</text>
<text x="127.36" y="937.70" font-size="13.5" fill="#6cae34" stroke="#6cae34" stroke-width="0.35">+10</text>
<path d="M380.30,824.75 L384.81,824.62 L389.33,824.79 L393.86,825.25 L398.36,826.01 L402.81,827.08 L407.21,828.43 L411.52,830.08 L415.74,832.02 L419.83,834.24 L423.79,836.73 L427.58,839.49 L431.20,842.50 L434.63,845.75 L437.85,849.24 L440.85,852.94 L443.61,856.85 L446.11,860.94 L448.35,865.21 L450.31,869.63 L451.99,874.19 L453.36,878.87 L454.43,883.64 L455.19,888.49 L455.63,893.40 L430.95,893.40 L430.56,890.11 L429.96,886.86 L429.16,883.68 L428.15,880.58 L426.94,877.57 L425.55,874.66 L423.98,871.86 L422.23,869.19 L420.33,866.65 L418.27,864.26 L416.08,862.02 L413.75,859.95 L411.31,858.04 L408.76,856.31 L406.12,854.76 L403.40,853.39 L400.61,852.22 L397.77,851.23 L394.88,850.45 L391.97,849.85 L389.04,849.46 L386.11,849.25 L383.19,849.25 L380.30,849.43Z" fill="#fdb4c1"/><path d="M455.63,893.40 L455.74,898.34 L455.53,903.30 L455.00,908.26 L454.14,913.18 L430.30,906.80 L430.79,903.44 L431.07,900.08 L431.12,896.73 L430.95,893.40Z" fill="#ebe562"/><path d="M454.14,913.18 L452.95,918.06 L451.44,922.87 L449.61,927.58 L447.46,932.18 L445.01,936.64 L442.27,940.95 L439.24,945.08 L435.93,949.03 L432.35,952.75 L428.53,956.25 L424.47,959.50 L420.19,962.49 L415.71,965.20 L411.04,967.62 L406.21,969.74 L401.24,971.54 L396.14,973.01 L390.93,974.15 L385.65,974.95 L380.30,975.40 L374.92,975.51 L369.52,975.26 L364.14,974.65 L358.79,973.69 L353.49,972.37 L348.28,970.71 L343.17,968.69 L338.18,966.35 L350.52,944.97 L354.08,946.56 L357.72,947.90 L361.43,949.00 L365.18,949.85 L368.95,950.44 L372.74,950.79 L376.53,950.88 L380.30,950.73 L384.03,950.32 L387.71,949.68 L391.32,948.80 L394.85,947.70 L398.28,946.37 L401.60,944.82 L404.79,943.07 L407.85,941.12 L410.76,938.98 L413.50,936.67 L416.08,934.20 L418.47,931.57 L420.68,928.81 L422.69,925.93 L424.49,922.93 L426.09,919.84 L427.47,916.66 L428.63,913.42 L429.58,910.13 L430.30,906.80Z" fill="#90d050"/><path d="M338.18,966.35 L333.35,963.67 L328.68,960.67 L324.21,957.36 L319.95,953.75 L315.93,949.85 L312.15,945.69 L308.65,941.28 L305.43,936.63 L302.51,931.76 L299.91,926.70 L297.64,921.46 L295.71,916.06 L294.14,910.54 L292.93,904.90 L292.09,899.18 L291.62,893.40 L291.53,887.58 L291.82,881.75 L292.50,875.94 L293.56,870.16 L295.01,864.45 L296.83,858.82 L299.02,853.32 L301.57,847.95 L304.48,842.74 L307.74,837.72 L311.32,832.91 L315.23,828.33 L332.68,845.78 L329.88,849.18 L327.32,852.74 L325.00,856.45 L322.94,860.29 L321.15,864.23 L319.63,868.27 L318.38,872.38 L317.40,876.55 L316.71,880.75 L316.29,884.97 L316.16,889.20 L316.30,893.40 L316.71,897.57 L317.40,901.68 L318.35,905.72 L319.55,909.68 L321.01,913.53 L322.71,917.25 L324.64,920.85 L326.80,924.29 L329.17,927.57 L331.73,930.67 L334.48,933.58 L337.40,936.30 L340.49,938.80 L343.71,941.09 L347.06,943.15 L350.52,944.97Z" fill="#fdb4c1"/><path d="M315.23,828.33 L319.44,824.01 L323.94,819.95 L328.71,816.19 L333.73,812.74 L346.07,834.12 L342.42,836.71 L338.97,839.53 L335.72,842.56 L332.68,845.78Z" fill="#ebe562"/><path d="M333.73,812.74 L338.98,809.62 L344.45,806.84 L350.09,804.42 L355.91,802.36 L361.86,800.69 L367.93,799.41 L374.08,798.52 L380.30,798.04 L386.56,797.97 L392.82,798.30 L399.07,799.05 L405.27,800.21 L411.40,801.78 L417.43,803.76 L423.34,806.13 L429.09,808.89 L416.75,830.26 L412.42,828.26 L407.99,826.56 L403.47,825.15 L398.88,824.05 L394.25,823.26 L389.60,822.77 L384.94,822.59 L380.30,822.72 L375.70,823.15 L371.15,823.88 L366.67,824.90 L362.29,826.20 L358.03,827.79 L353.89,829.64 L349.90,831.76 L346.07,834.12Z" fill="#90d050"/><path d="M429.09,808.89 L434.67,812.03 L440.05,815.54 L445.19,819.40 L450.09,823.61 L454.71,828.14 L459.04,832.98 L463.06,838.10 L466.74,843.49 L470.07,849.13 L473.03,854.99 L475.61,861.05 L477.79,867.28 L479.56,873.66 L480.91,880.15 L481.84,886.74 L482.34,893.40 L482.40,900.09 L482.02,906.79 L481.20,913.47 L479.94,920.10 L478.24,926.65 L476.11,933.09 L473.56,939.39 L470.59,945.53 L467.22,951.48 L463.46,957.21 L459.32,962.70 L454.81,967.91 L437.36,950.46 L440.76,946.42 L443.88,942.19 L446.70,937.77 L449.22,933.19 L451.43,928.48 L453.31,923.64 L454.87,918.71 L456.10,913.71 L456.99,908.65 L457.55,903.57 L457.77,898.48 L457.66,893.40 L457.21,888.36 L456.44,883.38 L455.35,878.47 L453.95,873.67 L452.23,868.98 L450.23,864.44 L447.93,860.05 L445.37,855.83 L442.54,851.81 L439.46,848.00 L436.16,844.41 L432.64,841.06 L428.92,837.96 L425.02,835.12 L420.96,832.55 L416.75,830.26Z" fill="#fdb4c1"/><path d="M454.81,967.91 L449.96,972.84 L444.79,977.44 L439.31,981.71 L433.54,985.62 L421.20,964.25 L425.60,961.19 L429.76,957.86 L433.69,954.28 L437.36,950.46Z" fill="#ebe562"/><path d="M433.54,985.62 L427.52,989.16 L421.26,992.30 L414.80,995.03 L408.15,997.34 L401.35,999.21 L394.42,1000.63 L387.39,1001.60 L380.30,1002.12 L373.17,1002.16 L366.04,1001.74 L358.93,1000.84 L351.87,999.49 L344.91,997.66 L338.06,995.38 L331.36,992.65 L324.83,989.48 L337.17,968.10 L342.27,970.52 L347.50,972.58 L352.84,974.29 L358.26,975.65 L363.74,976.64 L369.26,977.27 L374.79,977.53 L380.30,977.43 L385.78,976.98 L391.20,976.16 L396.53,975.00 L401.76,973.50 L406.86,971.66 L411.82,969.50 L416.61,967.02 L421.20,964.25Z" fill="#90d050"/><path d="M324.83,989.48 L318.51,985.88 L312.42,981.86 L306.60,977.44 L301.07,972.63 L295.84,967.47 L290.96,961.95 L286.44,956.12 L282.29,949.98 L278.55,943.58 L275.23,936.92 L272.35,930.04 L269.91,922.98 L267.94,915.75 L266.45,908.39 L265.43,900.93 L264.91,893.40 L264.88,885.83 L265.34,878.27 L266.31,870.73 L267.76,863.25 L269.71,855.86 L272.15,848.60 L275.06,841.50 L278.44,834.59 L299.81,846.93 L297.20,852.42 L294.95,858.05 L293.08,863.79 L291.60,869.63 L290.51,875.54 L289.81,881.49 L289.50,887.45 L289.59,893.40 L290.06,899.31 L290.92,905.17 L292.15,910.93 L293.75,916.59 L295.72,922.11 L298.03,927.48 L300.69,932.66 L303.67,937.64 L306.96,942.41 L310.54,946.93 L314.40,951.19 L318.52,955.18 L322.87,958.88 L327.45,962.28 L332.22,965.35 L337.17,968.10Z" fill="#fdb4c1"/><path d="M278.44,834.59 L282.27,827.90 L286.55,821.46 L291.24,815.30 L296.34,809.44 L313.80,826.90 L309.80,831.57 L306.13,836.48 L302.79,841.61 L299.81,846.93Z" fill="#ebe562"/><path d="M296.34,809.44 L301.83,803.92 L307.68,798.76 L313.87,793.98 L320.38,789.61 L327.17,785.67 L334.22,782.16 L341.51,779.13 L348.99,776.56 L356.65,774.49 L364.44,772.93 L372.33,771.87 L380.30,771.33 L380.30,796.01 L373.95,796.50 L367.66,797.39 L361.46,798.70 L355.38,800.40 L349.44,802.50 L343.67,804.97 L338.09,807.80 L332.72,810.99 L327.58,814.51 L322.71,818.34 L318.10,822.48 L313.80,826.90Z" fill="#90d050"/>
<line x1="380.30" y1="849.43" x2="380.30" y2="840.73" stroke="#1a1a1a" stroke-width="1.6"/><line x1="391.97" y1="849.85" x2="393.26" y2="845.02" stroke="rgba(0,0,0,0.5)" stroke-width="1.15"/><line x1="403.40" y1="853.39" x2="407.75" y2="845.86" stroke="#1a1a1a" stroke-width="1.6"/><line x1="413.75" y1="859.95" x2="417.29" y2="856.41" stroke="rgba(0,0,0,0.5)" stroke-width="1.15"/><line x1="422.23" y1="869.19" x2="429.77" y2="864.84" stroke="#1a1a1a" stroke-width="1.6"/><line x1="428.15" y1="880.58" x2="432.98" y2="879.29" stroke="rgba(0,0,0,0.5)" stroke-width="1.15"/><line x1="430.95" y1="893.40" x2="439.65" y2="893.40" stroke="#1a1a1a" stroke-width="1.6"/><line x1="430.30" y1="906.80" x2="435.13" y2="908.09" stroke="rgba(0,0,0,0.5)" stroke-width="1.15"/><line x1="426.09" y1="919.84" x2="433.62" y2="924.19" stroke="#1a1a1a" stroke-width="1.6"/><line x1="418.47" y1="931.57" x2="422.01" y2="935.11" stroke="rgba(0,0,0,0.5)" stroke-width="1.15"/><line x1="407.85" y1="941.12" x2="412.20" y2="948.65" stroke="#1a1a1a" stroke-width="1.6"/><line x1="394.85" y1="947.70" x2="396.14" y2="952.53" stroke="rgba(0,0,0,0.5)" stroke-width="1.15"/><line x1="380.30" y1="950.73" x2="380.30" y2="959.42" stroke="#1a1a1a" stroke-width="1.6"/><line x1="365.18" y1="949.85" x2="363.88" y2="954.68" stroke="rgba(0,0,0,0.5)" stroke-width="1.15"/><line x1="350.52" y1="944.97" x2="346.17" y2="952.51" stroke="#1a1a1a" stroke-width="1.6"/><line x1="337.40" y1="936.30" x2="333.87" y2="939.83" stroke="rgba(0,0,0,0.5)" stroke-width="1.15"/><line x1="326.80" y1="924.29" x2="319.27" y2="928.64" stroke="#1a1a1a" stroke-width="1.6"/><line x1="319.55" y1="909.68" x2="314.72" y2="910.97" stroke="rgba(0,0,0,0.5)" stroke-width="1.15"/><line x1="316.30" y1="893.40" x2="307.60" y2="893.40" stroke="#1a1a1a" stroke-width="1.6"/><line x1="317.40" y1="876.55" x2="312.57" y2="875.25" stroke="rgba(0,0,0,0.5)" stroke-width="1.15"/><line x1="322.94" y1="860.29" x2="315.41" y2="855.94" stroke="#1a1a1a" stroke-width="1.6"/><line x1="332.68" y1="845.78" x2="329.15" y2="842.25" stroke="rgba(0,0,0,0.5)" stroke-width="1.15"/><line x1="346.07" y1="834.12" x2="341.72" y2="826.58" stroke="#1a1a1a" stroke-width="1.6"/><line x1="362.29" y1="826.20" x2="361.00" y2="821.37" stroke="rgba(0,0,0,0.5)" stroke-width="1.15"/><line x1="380.30" y1="822.72" x2="380.30" y2="814.02" stroke="#1a1a1a" stroke-width="1.6"/><line x1="398.88" y1="824.05" x2="400.18" y2="819.22" stroke="rgba(0,0,0,0.5)" stroke-width="1.15"/><line x1="416.75" y1="830.26" x2="421.10" y2="822.73" stroke="#1a1a1a" stroke-width="1.6"/><line x1="432.64" y1="841.06" x2="436.17" y2="837.53" stroke="rgba(0,0,0,0.5)" stroke-width="1.15"/><line x1="445.37" y1="855.83" x2="452.90" y2="851.48" stroke="#1a1a1a" stroke-width="1.6"/><line x1="453.95" y1="873.67" x2="458.78" y2="872.37" stroke="rgba(0,0,0,0.5)" stroke-width="1.15"/><line x1="457.66" y1="893.40" x2="466.36" y2="893.40" stroke="#1a1a1a" stroke-width="1.6"/><line x1="456.10" y1="913.71" x2="460.93" y2="915.00" stroke="rgba(0,0,0,0.5)" stroke-width="1.15"/><line x1="449.22" y1="933.19" x2="456.76" y2="937.54" stroke="#1a1a1a" stroke-width="1.6"/><line x1="437.36" y1="950.46" x2="440.90" y2="954.00" stroke="rgba(0,0,0,0.5)" stroke-width="1.15"/><line x1="421.20" y1="964.25" x2="425.55" y2="971.78" stroke="#1a1a1a" stroke-width="1.6"/><line x1="401.76" y1="973.50" x2="403.06" y2="978.33" stroke="rgba(0,0,0,0.5)" stroke-width="1.15"/><line x1="380.30" y1="977.43" x2="380.30" y2="986.13" stroke="#1a1a1a" stroke-width="1.6"/><line x1="358.26" y1="975.65" x2="356.97" y2="980.48" stroke="rgba(0,0,0,0.5)" stroke-width="1.15"/><line x1="337.17" y1="968.10" x2="332.82" y2="975.64" stroke="#1a1a1a" stroke-width="1.6"/><line x1="318.52" y1="955.18" x2="314.98" y2="958.72" stroke="rgba(0,0,0,0.5)" stroke-width="1.15"/><line x1="303.67" y1="937.64" x2="296.13" y2="941.99" stroke="#1a1a1a" stroke-width="1.6"/><line x1="293.75" y1="916.59" x2="288.92" y2="917.88" stroke="rgba(0,0,0,0.5)" stroke-width="1.15"/><line x1="289.59" y1="893.40" x2="280.89" y2="893.40" stroke="#1a1a1a" stroke-width="1.6"/><line x1="291.60" y1="869.63" x2="286.77" y2="868.34" stroke="rgba(0,0,0,0.5)" stroke-width="1.15"/><line x1="299.81" y1="846.93" x2="292.28" y2="842.58" stroke="#1a1a1a" stroke-width="1.6"/><line x1="313.80" y1="826.90" x2="310.26" y2="823.36" stroke="rgba(0,0,0,0.5)" stroke-width="1.15"/><line x1="332.72" y1="810.99" x2="328.37" y2="803.45" stroke="#1a1a1a" stroke-width="1.6"/><line x1="355.38" y1="800.40" x2="354.09" y2="795.57" stroke="rgba(0,0,0,0.5)" stroke-width="1.15"/>
<text x="380.45" y="838.88" text-anchor="middle" font-weight="bold" font-size="14.5" fill="#000" stroke="#000" stroke-width="0.3">0</text><text x="411.62" y="845.01" text-anchor="middle" font-weight="bold" font-size="14.5" fill="#000" stroke="#000" stroke-width="0.3">1</text><text x="436.37" y="866.71" text-anchor="middle" font-weight="bold" font-size="14.5" fill="#000" stroke="#000" stroke-width="0.3">2</text><text x="447.25" y="899.00" text-anchor="middle" font-weight="bold" font-size="14.5" fill="#000" stroke="#000" stroke-width="0.3">3</text><text x="440.23" y="933.51" text-anchor="middle" font-weight="bold" font-size="14.5" fill="#000" stroke="#000" stroke-width="0.3">4</text><text x="416.07" y="960.70" text-anchor="middle" font-weight="bold" font-size="14.5" fill="#000" stroke="#000" stroke-width="0.3">5</text><text x="380.45" y="972.48" text-anchor="middle" font-weight="bold" font-size="14.5" fill="#000" stroke="#000" stroke-width="0.3">6</text><text x="342.60" y="964.56" text-anchor="middle" font-weight="bold" font-size="14.5" fill="#000" stroke="#000" stroke-width="0.3">7</text><text x="312.96" y="937.96" text-anchor="middle" font-weight="bold" font-size="14.5" fill="#000" stroke="#000" stroke-width="0.3">8</text><text x="300.30" y="899.00" text-anchor="middle" font-weight="bold" font-size="14.5" fill="#000" stroke="#000" stroke-width="0.3">9</text><text x="309.11" y="857.81" text-anchor="middle" font-weight="bold" font-size="14.5" fill="#000" stroke="#000" stroke-width="0.3">10</text><text x="338.15" y="825.73" text-anchor="middle" font-weight="bold" font-size="14.5" fill="#000" stroke="#000" stroke-width="0.3">11</text><text x="380.45" y="812.17" text-anchor="middle" font-weight="bold" font-size="14.5" fill="#000" stroke="#000" stroke-width="0.3">12</text><text x="424.98" y="821.88" text-anchor="middle" font-weight="bold" font-size="14.5" fill="#000" stroke="#000" stroke-width="0.3">13</text><text x="459.50" y="853.36" text-anchor="middle" font-weight="bold" font-size="14.5" fill="#000" stroke="#000" stroke-width="0.3">14</text><text x="473.96" y="899.00" text-anchor="middle" font-weight="bold" font-size="14.5" fill="#000" stroke="#000" stroke-width="0.3">15</text><text x="463.36" y="946.87" text-anchor="middle" font-weight="bold" font-size="14.5" fill="#000" stroke="#000" stroke-width="0.3">16</text><text x="429.43" y="983.84" text-anchor="middle" font-weight="bold" font-size="14.5" fill="#000" stroke="#000" stroke-width="0.3">17</text><text x="380.45" y="999.19" text-anchor="middle" font-weight="bold" font-size="14.5" fill="#000" stroke="#000" stroke-width="0.3">18</text><text x="329.24" y="987.69" text-anchor="middle" font-weight="bold" font-size="14.5" fill="#000" stroke="#000" stroke-width="0.3">19</text><text x="289.83" y="951.32" text-anchor="middle" font-weight="bold" font-size="14.5" fill="#000" stroke="#000" stroke-width="0.3">20</text><text x="273.59" y="899.00" text-anchor="middle" font-weight="bold" font-size="14.5" fill="#000" stroke="#000" stroke-width="0.3">21</text><text x="285.98" y="844.46" text-anchor="middle" font-weight="bold" font-size="14.5" fill="#000" stroke="#000" stroke-width="0.3">22</text><text x="324.79" y="802.60" text-anchor="middle" font-weight="bold" font-size="14.5" fill="#000" stroke="#000" stroke-width="0.3">23</text>
<text x="373.00" y="877.50" text-anchor="middle" font-weight="bold" font-size="17.2" fill="#111" stroke="#111" stroke-width="0.2">6.1 черга</text>
<text transform="translate(376.30,896.80) scale(0.895,1)" text-anchor="middle" font-size="11" fill="#262626">при запланованому</text>
<text transform="translate(376.20,907.90) scale(0.895,1)" text-anchor="middle" font-size="11" fill="#262626">графіку відключень</text>
<text x="376.00" y="922.20" text-anchor="middle" font-weight="bold" font-size="11" fill="#111">вт 30.12.2025</text>
<text x="349.19" y="937.70" font-size="13.5" fill="#d4869b" stroke="#d4869b" stroke-width="0.35">-13</text>
<rect x="370.91" y="926.00" width="11.71" height="14.6" rx="4.5" fill="#ede755"/>
<text x="373.01" y="937.70" font-weight="bold" font-size="13.5" fill="#000">2</text>
<text x="384.81" y="937.70" font-size="13.5" fill="#6cae34" stroke="#6cae34" stroke-width="0.35">+9</text>
<path d="M634.00,824.75 L638.51,824.62 L643.03,824.79 L647.56,825.25 L652.06,826.01 L645.67,849.85 L642.74,849.46 L639.81,849.25 L636.89,849.25 L634.00,849.43Z" fill="#90d050"/><path d="M652.06,826.01 L656.51,827.08 L660.91,828.43 L665.22,830.08 L669.44,832.02 L673.53,834.24 L677.49,836.73 L681.28,839.49 L684.90,842.50 L688.33,845.75 L691.55,849.24 L694.55,852.94 L697.31,856.85 L699.81,860.94 L702.05,865.21 L704.01,869.63 L705.69,874.19 L707.06,878.87 L708.13,883.64 L708.89,888.49 L709.33,893.40 L709.44,898.34 L709.23,903.30 L708.70,908.26 L707.84,913.18 L706.65,918.06 L705.14,922.87 L703.31,927.58 L701.16,932.18 L679.79,919.84 L681.17,916.66 L682.33,913.42 L683.28,910.13 L684.00,906.80 L684.49,903.44 L684.77,900.08 L684.82,896.73 L684.65,893.40 L684.26,890.11 L683.66,886.86 L682.86,883.68 L681.85,880.58 L680.64,877.57 L679.25,874.66 L677.68,871.86 L675.93,869.19 L674.03,866.65 L671.97,864.26 L669.78,862.02 L667.45,859.95 L665.01,858.04 L662.46,856.31 L659.82,854.76 L657.10,853.39 L654.31,852.22 L651.47,851.23 L648.58,850.45 L645.67,849.85Z" fill="#fdb4c1"/><path d="M701.16,932.18 L698.71,936.64 L695.97,940.95 L692.94,945.08 L689.63,949.03 L672.17,931.57 L674.38,928.81 L676.39,925.93 L678.19,922.93 L679.79,919.84Z" fill="#ebe562"/><path d="M689.63,949.03 L686.05,952.75 L682.23,956.25 L678.17,959.50 L673.89,962.49 L669.41,965.20 L664.74,967.62 L659.91,969.74 L654.94,971.54 L649.84,973.01 L644.63,974.15 L639.35,974.95 L634.00,975.40 L628.62,975.51 L623.22,975.26 L617.84,974.65 L612.49,973.69 L607.19,972.37 L601.98,970.71 L596.87,968.69 L591.88,966.35 L587.05,963.67 L582.38,960.67 L577.91,957.36 L573.65,953.75 L591.10,936.30 L594.19,938.80 L597.41,941.09 L600.76,943.15 L604.22,944.97 L607.78,946.56 L611.42,947.90 L615.13,949.00 L618.88,949.85 L622.65,950.44 L626.44,950.79 L630.23,950.88 L634.00,950.73 L637.73,950.32 L641.41,949.68 L645.02,948.80 L648.55,947.70 L651.98,946.37 L655.30,944.82 L658.49,943.07 L661.55,941.12 L664.46,938.98 L667.20,936.67 L669.78,934.20 L672.17,931.57Z" fill="#90d050"/><path d="M573.65,953.75 L569.63,949.85 L565.85,945.69 L562.35,941.28 L559.13,936.63 L556.21,931.76 L553.61,926.70 L551.34,921.46 L549.41,916.06 L547.84,910.54 L546.63,904.90 L545.79,899.18 L545.32,893.40 L545.23,887.58 L545.52,881.75 L546.20,875.94 L547.26,870.16 L548.71,864.45 L550.53,858.82 L552.72,853.32 L555.27,847.95 L558.18,842.74 L561.44,837.72 L565.02,832.91 L568.93,828.33 L573.14,824.01 L577.64,819.95 L582.41,816.19 L587.43,812.74 L599.77,834.12 L596.12,836.71 L592.67,839.53 L589.42,842.56 L586.38,845.78 L583.58,849.18 L581.02,852.74 L578.70,856.45 L576.64,860.29 L574.85,864.23 L573.33,868.27 L572.08,872.38 L571.10,876.55 L570.41,880.75 L569.99,884.97 L569.86,889.20 L570.00,893.40 L570.41,897.57 L571.10,901.68 L572.05,905.72 L573.25,909.68 L574.71,913.53 L576.41,917.25 L578.34,920.85 L580.50,924.29 L582.87,927.57 L585.43,930.67 L588.18,933.58 L591.10,936.30Z" fill="#fdb4c1"/><path d="M587.43,812.74 L592.68,809.62 L598.15,806.84 L603.79,804.42 L609.61,802.36 L615.99,826.20 L611.73,827.79 L607.59,829.64 L603.60,831.76 L599.77,834.12Z" fill="#ebe562"/><path d="M609.61,802.36 L615.56,800.69 L621.63,799.41 L627.78,798.52 L634.00,798.04 L640.26,797.97 L646.52,798.30 L652.77,799.05 L658.97,800.21 L665.10,801.78 L671.13,803.76 L677.04,806.13 L682.79,808.89 L688.37,812.03 L693.75,815.54 L698.89,819.40 L703.79,823.61 L686.34,841.06 L682.62,837.96 L678.72,835.12 L674.66,832.55 L670.45,830.26 L666.12,828.26 L661.69,826.56 L657.17,825.15 L652.58,824.05 L647.95,823.26 L643.30,822.77 L638.64,822.59 L634.00,822.72 L629.40,823.15 L624.85,823.88 L620.37,824.90 L615.99,826.20Z" fill="#90d050"/><path d="M703.79,823.61 L708.41,828.14 L712.74,832.98 L716.76,838.10 L720.44,843.49 L723.77,849.13 L726.73,854.99 L729.31,861.05 L731.49,867.28 L733.26,873.66 L734.61,880.15 L735.54,886.74 L736.04,893.40 L736.10,900.09 L735.72,906.79 L734.90,913.47 L733.64,920.10 L731.94,926.65 L729.81,933.09 L727.26,939.39 L724.29,945.53 L720.92,951.48 L717.16,957.21 L713.02,962.70 L708.51,967.91 L703.66,972.84 L698.49,977.44 L693.01,981.71 L687.24,985.62 L674.90,964.25 L679.30,961.19 L683.46,957.86 L687.39,954.28 L691.06,950.46 L694.46,946.42 L697.58,942.19 L700.40,937.77 L702.92,933.19 L705.13,928.48 L707.01,923.64 L708.57,918.71 L709.80,913.71 L710.69,908.65 L711.25,903.57 L711.47,898.48 L711.36,893.40 L710.91,888.36 L710.14,883.38 L709.05,878.47 L707.65,873.67 L705.93,868.98 L703.93,864.44 L701.63,860.05 L699.07,855.83 L696.24,851.81 L693.16,848.00 L689.86,844.41 L686.34,841.06Z" fill="#fdb4c1"/><path d="M687.24,985.62 L681.22,989.16 L674.96,992.30 L668.50,995.03 L661.85,997.34 L655.46,973.50 L660.56,971.66 L665.52,969.50 L670.31,967.02 L674.90,964.25Z" fill="#ebe562"/><path d="M661.85,997.34 L655.05,999.21 L648.12,1000.63 L641.09,1001.60 L634.00,1002.12 L626.87,1002.16 L619.74,1001.74 L612.63,1000.84 L605.57,999.49 L598.61,997.66 L591.76,995.38 L585.06,992.65 L578.53,989.48 L572.21,985.88 L566.12,981.86 L560.30,977.44 L554.77,972.63 L572.22,955.18 L576.57,958.88 L581.15,962.28 L585.92,965.35 L590.87,968.10 L595.97,970.52 L601.20,972.58 L606.54,974.29 L611.96,975.65 L617.44,976.64 L622.96,977.27 L628.49,977.53 L634.00,977.43 L639.48,976.98 L644.90,976.16 L650.23,975.00 L655.46,973.50Z" fill="#90d050"/><path d="M554.77,972.63 L549.54,967.47 L544.66,961.95 L540.14,956.12 L535.99,949.98 L532.25,943.58 L528.93,936.92 L526.05,930.04 L523.61,922.98 L521.64,915.75 L520.15,908.39 L519.13,900.93 L518.61,893.40 L518.58,885.83 L519.04,878.27 L520.01,870.73 L521.46,863.25 L523.41,855.86 L525.85,848.60 L528.76,841.50 L532.14,834.59 L535.97,827.90 L540.25,821.46 L544.94,815.30 L550.04,809.44 L567.50,826.90 L563.50,831.57 L559.83,836.48 L556.49,841.61 L553.51,846.93 L550.90,852.42 L548.65,858.05 L546.78,863.79 L545.30,869.63 L544.21,875.54 L543.51,881.49 L543.20,887.45 L543.29,893.40 L543.76,899.31 L544.62,905.17 L545.85,910.93 L547.45,916.59 L549.42,922.11 L551.73,927.48 L554.39,932.66 L557.37,937.64 L560.66,942.41 L564.24,946.93 L568.10,951.19 L572.22,955.18Z" fill="#fdb4c1"/><path d="M550.04,809.44 L555.53,803.92 L561.38,798.76 L567.57,793.98 L574.08,789.61 L586.42,810.99 L581.28,814.51 L576.41,818.34 L571.80,822.48 L567.50,826.90Z" fill="#ebe562"/><path d="M574.08,789.61 L580.87,785.67 L587.92,782.16 L595.21,779.13 L602.69,776.56 L610.35,774.49 L618.14,772.93 L626.03,771.87 L634.00,771.33 L634.00,796.01 L627.65,796.50 L621.36,797.39 L615.16,798.70 L609.08,800.40 L603.14,802.50 L597.37,804.97 L591.79,807.80 L586.42,810.99Z" fill="#90d050"/>
<line x1="634.00" y1="849.43" x2="634.00" y2="840.73" stroke="#1a1a1a" stroke-width="1.6"/><line x1="645.67" y1="849.85" x2="646.96" y2="845.02" stroke="rgba(0,0,0,0.5)" stroke-width="1.15"/><line x1="657.10" y1="853.39" x2="661.45" y2="845.86" stroke="#1a1a1a" stroke-width="1.6"/><line x1="667.45" y1="859.95" x2="670.99" y2="856.41" stroke="rgba(0,0,0,0.5)" stroke-width="1.15"/><line x1="675.93" y1="869.19" x2="683.47" y2="864.84" stroke="#1a1a1a" stroke-width="1.6"/><line x1="681.85" y1="880.58" x2="686.68" y2="879.29" stroke="rgba(0,0,0,0.5)" stroke-width="1.15"/><line x1="684.65" y1="893.40" x2="693.35" y2="893.40" stroke="#1a1a1a" stroke-width="1.6"/><line x1="684.00" y1="906.80" x2="688.83" y2="908.09" stroke="rgba(0,0,0,0.5)" stroke-width="1.15"/><line x1="679.79" y1="919.84" x2="687.32" y2="924.19" stroke="#1a1a1a" stroke-width="1.6"/><line x1="672.17" y1="931.57" x2="675.71" y2="935.11" stroke="rgba(0,0,0,0.5)" stroke-width="1.15"/><line x1="661.55" y1="941.12" x2="665.90" y2="948.65" stroke="#1a1a1a" stroke-width="1.6"/><line x1="648.55" y1="947.70" x2="649.84" y2="952.53" stroke="rgba(0,0,0,0.5)" stroke-width="1.15"/><line x1="634.00" y1="950.73" x2="634.00" y2="959.42" stroke="#1a1a1a" stroke-width="1.6"/><line x1="618.88" y1="949.85" x2="617.58" y2="954.68" stroke="rgba(0,0,0,0.5)" stroke-width="1.15"/><line x1="604.22" y1="944.97" x2="599.87" y2="952.51" stroke="#1a1a1a" stroke-width="1.6"/><line x1="591.10" y1="936.30" x2="587.57" y2="939.83" stroke="rgba(0,0,0,0.5)" stroke-width="1.15"/><line x1="580.50" y1="924.29" x2="572.97" y2="928.64" stroke="#1a1a1a" stroke-width="1.6"/><line x1="573.25" y1="909.68" x2="568.42" y2="910.97" stroke="rgba(0,0,0,0.5)" stroke-width="1.15"/><line x1="570.00" y1="893.40" x2="561.30" y2="893.40" stroke="#1a1a1a" stroke-width="1.6"/><line x1="571.10" y1="876.55" x2="566.27" y2="875.25" stroke="rgba(0,0,0,0.5)" stroke-width="1.15"/><line x1="576.64" y1="860.29" x2="569.11" y2="855.94" stroke="#1a1a1a" stroke-width="1.6"/><line x1="586.38" y1="845.78" x2="582.85" y2="842.25" stroke="rgba(0,0,0,0.5)" stroke-width="1.15"/><line x1="599.77" y1="834.12" x2="595.42" y2="826.58" stroke="#1a1a1a" stroke-width="1.6"/><line x1="615.99" y1="826.20" x2="614.70" y2="821.37" stroke="rgba(0,0,0,0.5)" stroke-width="1.15"/><line x1="634.00" y1="822.72" x2="634.00" y2="814.02" stroke="#1a1a1a" stroke-width="1.6"/><line x1="652.58" y1="824.05" x2="653.88" y2="819.22" stroke="rgba(0,0,0,0.5)" stroke-width="1.15"/><line x1="670.45" y1="830.26" x2="674.80" y2="822.73" stroke="#1a1a1a" stroke-width="1.6"/><line x1="686.34" y1="841.06" x2="689.87" y2="837.53" stroke="rgba(0,0,0,0.5)" stroke-width="1.15"/><line x1="699.07" y1="855.83" x2="706.60" y2="851.48" stroke="#1a1a1a" stroke-width="1.6"/><line x1="707.65" y1="873.67" x2="712.48" y2="872.37" stroke="rgba(0,0,0,0.5)" stroke-width="1.15"/><line x1="711.36" y1="893.40" x2="720.06" y2="893.40" stroke="#1a1a1a" stroke-width="1.6"/><line x1="709.80" y1="913.71" x2="714.63" y2="915.00" stroke="rgba(0,0,0,0.5)" stroke-width="1.15"/><line x1="702.92" y1="933.19" x2="710.46" y2="937.54" stroke="#1a1a1a" stroke-width="1.6"/><line x1="691.06" y1="950.46" x2="694.60" y2="954.00" stroke="rgba(0,0,0,0.5)" stroke-width="1.15"/><line x1="674.90" y1="964.25" x2="679.25" y2="971.78" stroke="#1a1a1a" stroke-width="1.6"/><line x1="655.46" y1="973.50" x2="656.76" y2="978.33" stroke="rgba(0,0,0,0.5)" stroke-width="1.15"/><line x1="634.00" y1="977.43" x2="634.00" y2="986.13" stroke="#1a1a1a" stroke-width="1.6"/><line x1="611.96" y1="975.65" x2="610.67" y2="980.48" stroke="rgba(0,0,0,0.5)" stroke-width="1.15"/><line x1="590.87" y1="968.10" x2="586.52" y2="975.64" stroke="#1a1a1a" stroke-width="1.6"/><line x1="572.22" y1="955.18" x2="568.68" y2="958.72" stroke="rgba(0,0,0,0.5)" stroke-width="1.15"/><line x1="557.37" y1="937.64" x2="549.83" y2="941.99" stroke="#1a1a1a" stroke-width="1.6"/><line x1="547.45" y1="916.59" x2="542.62" y2="917.88" stroke="rgba(0,0,0,0.5)" stroke-width="1.15"/><line x1="543.29" y1="893.40" x2="534.59" y2="893.40" stroke="#1a1a1a" stroke-width="1.6"/><line x1="545.30" y1="869.63" x2="540.47" y2="868.34" stroke="rgba(0,0,0,0.5)" stroke-width="1.15"/><line x1="553.51" y1="846.93" x2="545.98" y2="842.58" stroke="#1a1a1a" stroke-width="1.6"/><line x1="567.50" y1="826.90" x2="563.96" y2="823.36" stroke="rgba(0,0,0,0.5)" stroke-width="1.15"/><line x1="586.42" y1="810.99" x2="582.07" y2="803.45" stroke="#1a1a1a" stroke-width="1.6"/><line x1="609.08" y1="800.40" x2="607.79" y2="795.57" stroke="rgba(0,0,0,0.5)" stroke-width="1.15"/>
<text x="634.15" y="838.88" text-anchor="middle" font-weight="bold" font-size="14.5" fill="#000" stroke="#000" stroke-width="0.3">0</text><text x="665.32" y="845.01" text-anchor="middle" font-weight="bold" font-size="14.5" fill="#000" stroke="#000" stroke-width="0.3">1</text><text x="690.07" y="866.71" text-anchor="middle" font-weight="bold" font-size="14.5" fill="#000" stroke="#000" stroke-width="0.3">2</text><text x="700.95" y="899.00" text-anchor="middle" font-weight="bold" font-size="14.5" fill="#000" stroke="#000" stroke-width="0.3">3</text><text x="693.93" y="933.51" text-anchor="middle" font-weight="bold" font-size="14.5" fill="#000" stroke="#000" stroke-width="0.3">4</text><text x="669.77" y="960.70" text-anchor="middle" font-weight="bold" font-size="14.5" fill="#000" stroke="#000" stroke-width="0.3">5</text><text x="634.15" y="972.48" text-anchor="middle" font-weight="bold" font-size="14.5" fill="#000" stroke="#000" stroke-width="0.3">6</text><text x="596.30" y="964.56" text-anchor="middle" font-weight="bold" font-size="14.5" fill="#000" stroke="#000" stroke-width="0.3">7</text><text x="566.66" y="937.96" text-anchor="middle" font-weight="bold" font-size="14.5" fill="#000" stroke="#000" stroke-width="0.3">8</text><text x="554.00" y="899.00" text-anchor="middle" font-weight="bold" font-size="14.5" fill="#000" stroke="#000" stroke-width="0.3">9</text><text x="562.81" y="857.81" text-anchor="middle" font-weight="bold" font-size="14.5" fill="#000" stroke="#000" stroke-width="0.3">10</text><text x="591.85" y="825.73" text-anchor="middle" font-weight="bold" font-size="14.5" fill="#000" stroke="#000" stroke-width="0.3">11</text><text x="634.15" y="812.17" text-anchor="middle" font-weight="bold" font-size="14.5" fill="#000" stroke="#000" stroke-width="0.3">12</text><text x="678.68" y="821.88" text-anchor="middle" font-weight="bold" font-size="14.5" fill="#000" stroke="#000" stroke-width="0.3">13</text><text x="713.20" y="853.36" text-anchor="middle" font-weight="bold" font-size="14.5" fill="#000" stroke="#000" stroke-width="0.3">14</text><text x="727.66" y="899.00" text-anchor="middle" font-weight="bold" font-size="14.5" fill="#000" stroke="#000" stroke-width="0.3">15</text><text x="717.06" y="946.87" text-anchor="middle" font-weight="bold" font-size="14.5" fill="#000" stroke="#000" stroke-width="0.3">16</text><text x="683.13" y="983.84" text-anchor="middle" font-weight="bold" font-size="14.5" fill="#000" stroke="#000" stroke-width="0.3">17</text><text x="634.15" y="999.19" text-anchor="middle" font-weight="bold" font-size="14.5" fill="#000" stroke="#000" stroke-width="0.3">18</text><text x="582.94" y="987.69" text-anchor="middle" font-weight="bold" font-size="14.5" fill="#000" stroke="#000" stroke-width="0.3">19</text><text x="543.53" y="951.32" text-anchor="middle" font-weight="bold" font-size="14.5" fill="#000" stroke="#000" stroke-width="0.3">20</text><text x="527.29" y="899.00" text-anchor="middle" font-weight="bold" font-size="14.5" fill="#000" stroke="#000" stroke-width="0.3">21</text><text x="539.68" y="844.46" text-anchor="middle" font-weight="bold" font-size="14.5" fill="#000" stroke="#000" stroke-width="0.3">22</text><text x="578.49" y="802.60" text-anchor="middle" font-weight="bold" font-size="14.5" fill="#000" stroke="#000" stroke-width="0.3">23</text>
<text x="626.70" y="877.50" text-anchor="middle" font-weight="bold" font-size="17.2" fill="#111" stroke="#111" stroke-width="0.2">6.2 черга</text>
<text transform="translate(630.00,896.80) scale(0.895,1)" text-anchor="middle" font-size="11" fill="#262626">при запланованому</text>
<text transform="translate(629.90,907.90) scale(0.895,1)" text-anchor="middle" font-size="11" fill="#262626">графіку відключень</text>
<text x="629.70" y="922.20" text-anchor="middle" font-weight="bold" font-size="11" fill="#111">вт 30.12.2025</text>
<text x="591.64" y="937.70" font-size="13.5" fill="#d4869b" stroke="#d4869b" stroke-width="0.35">-13.5</text>
<rect x="624.61" y="926.00" width="11.71" height="14.6" rx="4.5" fill="#ede755"/>
<text x="626.71" y="937.70" font-weight="bold" font-size="13.5" fill="#000">2</text>
<text x="638.51" y="937.70" font-size="13.5" fill="#6cae34" stroke="#6cae34" stroke-width="0.35">+8.5</text>
</svg></body></html>
